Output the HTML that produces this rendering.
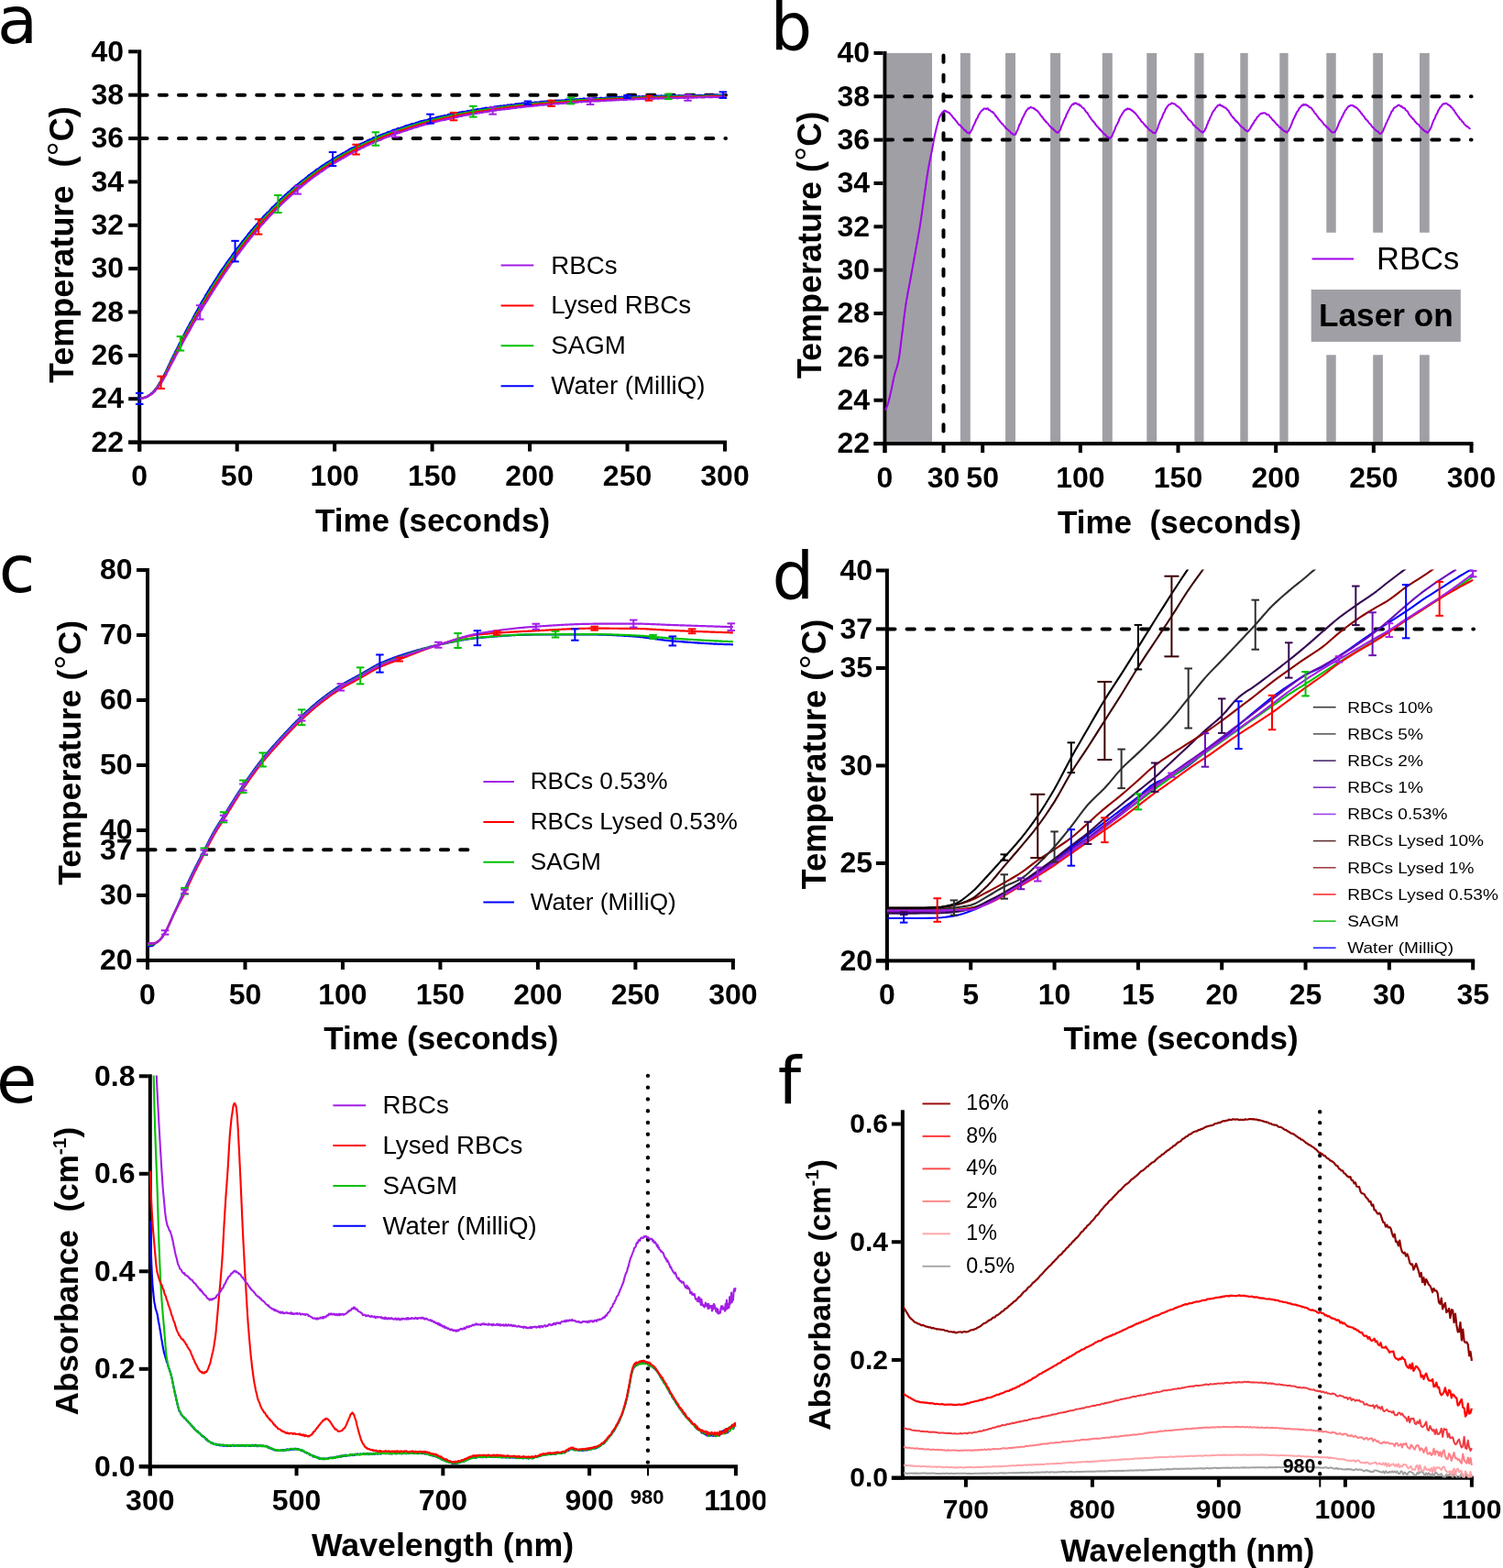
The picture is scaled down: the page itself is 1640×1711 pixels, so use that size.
<!DOCTYPE html>
<html><head><meta charset="utf-8"><title>Figure</title>
<style>html,body{margin:0;padding:0;background:#fff;overflow:hidden;width:1640px;height:1711px;}svg{display:block;}</style>
</head><body>
<svg width="1640" height="1711" viewBox="0 0 1640 1711">
<rect x="0" y="0" width="1640" height="1711" fill="#fff"/>
<text x="-3" y="46.8" font-family='"DejaVu Sans", "Liberation Sans", sans-serif' font-size="72" font-weight="normal" text-anchor="start">a</text>
<text x="840.5" y="54" font-family='"DejaVu Sans", "Liberation Sans", sans-serif' font-size="72" font-weight="normal" text-anchor="start">b</text>
<text x="-1.3" y="646.3" font-family='"DejaVu Sans", "Liberation Sans", sans-serif' font-size="72" font-weight="normal" text-anchor="start">c</text>
<text x="842.5" y="653.3" font-family='"DejaVu Sans", "Liberation Sans", sans-serif' font-size="72" font-weight="normal" text-anchor="start">d</text>
<text x="-4" y="1202.8" font-family='"DejaVu Sans", "Liberation Sans", sans-serif' font-size="72" font-weight="normal" text-anchor="start">e</text>
<text x="848.8" y="1204" font-family='"DejaVu Sans", "Liberation Sans", sans-serif' font-size="72" font-weight="normal" text-anchor="start">f</text>
<rect x="150.2" y="54.3" width="4" height="438.3" fill="#000"/>
<rect x="140.2" y="480.6" width="652.8" height="4" fill="#000"/>
<rect x="140.2" y="480.6" width="10" height="4" fill="#000"/>
<rect x="140.2" y="433.23" width="10" height="4" fill="#000"/>
<rect x="140.2" y="385.87" width="10" height="4" fill="#000"/>
<rect x="140.2" y="338.5" width="10" height="4" fill="#000"/>
<rect x="140.2" y="291.13" width="10" height="4" fill="#000"/>
<rect x="140.2" y="243.77" width="10" height="4" fill="#000"/>
<rect x="140.2" y="196.4" width="10" height="4" fill="#000"/>
<rect x="140.2" y="149.03" width="10" height="4" fill="#000"/>
<rect x="140.2" y="101.67" width="10" height="4" fill="#000"/>
<rect x="140.2" y="54.3" width="10" height="4" fill="#000"/>
<rect x="150.2" y="482.6" width="4" height="10" fill="#000"/>
<rect x="256.67" y="482.6" width="4" height="10" fill="#000"/>
<rect x="363.13" y="482.6" width="4" height="10" fill="#000"/>
<rect x="469.6" y="482.6" width="4" height="10" fill="#000"/>
<rect x="576.07" y="482.6" width="4" height="10" fill="#000"/>
<rect x="682.53" y="482.6" width="4" height="10" fill="#000"/>
<rect x="789" y="482.6" width="4" height="10" fill="#000"/>
<text x="135" y="492.84" font-family='"Liberation Sans", Arial, sans-serif' font-size="32" font-weight="bold" text-anchor="end">22</text>
<text x="135" y="445.47" font-family='"Liberation Sans", Arial, sans-serif' font-size="32" font-weight="bold" text-anchor="end">24</text>
<text x="135" y="398.11" font-family='"Liberation Sans", Arial, sans-serif' font-size="32" font-weight="bold" text-anchor="end">26</text>
<text x="135" y="350.74" font-family='"Liberation Sans", Arial, sans-serif' font-size="32" font-weight="bold" text-anchor="end">28</text>
<text x="135" y="303.37" font-family='"Liberation Sans", Arial, sans-serif' font-size="32" font-weight="bold" text-anchor="end">30</text>
<text x="135" y="256.01" font-family='"Liberation Sans", Arial, sans-serif' font-size="32" font-weight="bold" text-anchor="end">32</text>
<text x="135" y="208.64" font-family='"Liberation Sans", Arial, sans-serif' font-size="32" font-weight="bold" text-anchor="end">34</text>
<text x="135" y="161.27" font-family='"Liberation Sans", Arial, sans-serif' font-size="32" font-weight="bold" text-anchor="end">36</text>
<text x="135" y="113.91" font-family='"Liberation Sans", Arial, sans-serif' font-size="32" font-weight="bold" text-anchor="end">38</text>
<text x="135" y="66.54" font-family='"Liberation Sans", Arial, sans-serif' font-size="32" font-weight="bold" text-anchor="end">40</text>
<text x="152.2" y="530.3" font-family='"Liberation Sans", Arial, sans-serif' font-size="32" font-weight="bold" text-anchor="middle">0</text>
<text x="258.67" y="530.3" font-family='"Liberation Sans", Arial, sans-serif' font-size="32" font-weight="bold" text-anchor="middle">50</text>
<text x="365.13" y="530.3" font-family='"Liberation Sans", Arial, sans-serif' font-size="32" font-weight="bold" text-anchor="middle">100</text>
<text x="471.6" y="530.3" font-family='"Liberation Sans", Arial, sans-serif' font-size="32" font-weight="bold" text-anchor="middle">150</text>
<text x="578.07" y="530.3" font-family='"Liberation Sans", Arial, sans-serif' font-size="32" font-weight="bold" text-anchor="middle">200</text>
<text x="684.53" y="530.3" font-family='"Liberation Sans", Arial, sans-serif' font-size="32" font-weight="bold" text-anchor="middle">250</text>
<text x="791" y="530.3" font-family='"Liberation Sans", Arial, sans-serif' font-size="32" font-weight="bold" text-anchor="middle">300</text>
<text transform="translate(80.2,418) rotate(-90)" font-family='"Liberation Sans", Arial, sans-serif' font-size="36" font-weight="bold">Temperature  (<tspan font-weight="normal" font-size="113%">°</tspan>C)</text>
<text x="344" y="579.8" font-family='"Liberation Sans", Arial, sans-serif' font-size="35" font-weight="bold" text-anchor="start">Time (seconds)</text>
<line x1="152.4" y1="103.67" x2="792" y2="103.67" stroke="#000" stroke-width="4" stroke-linecap="round" stroke-dasharray="8.2 13.1"/>
<line x1="152.4" y1="151.03" x2="792" y2="151.03" stroke="#000" stroke-width="4" stroke-linecap="round" stroke-dasharray="8.2 13.1"/>
<path d="M152.2,434.95 L153.26,434.38 L154.33,434.68 L155.39,434.56 L156.46,434.14 L157.52,433.68 L158.59,433.36 L159.62,433.31 L160.65,432.37 L161.67,431.69 L162.7,431.41 L163.72,430.84 L164.75,429.37 L165.76,428.85 L166.77,428.07 L167.79,426.82 L168.8,425.68 L169.82,424.08 L170.84,423.14 L171.86,421.55 L172.88,419.92 L173.91,418.1 L174.93,416.69 L175.95,415.24 L176.96,413.27 L177.98,411.32 L179,409.4 L180.02,407.2 L181.05,405.12 L182.08,402.88 L183.11,400.82 L184.15,398.44 L185.18,396.59 L186.21,394.1 L187.24,391.86 L188.28,389.92 L189.31,387.69 L190.34,386.09 L191.37,383.45 L192.41,381.76 L193.44,379.63 L194.48,377.76 L195.51,375.27 L196.55,373.69 L197.58,371.31 L198.62,369.57 L199.66,367.24 L200.69,365.66 L201.73,363.3 L202.77,361.22 L203.8,359.42 L204.84,357.26 L205.87,355.81 L206.91,353.39 L207.95,351.62 L208.99,350.09 L210.02,348.2 L211.06,345.92 L212.1,344.28 L213.14,341.99 L214.18,340.36 L215.22,338.7 L216.26,336.59 L217.3,334.78 L218.34,332.56 L219.38,330.95 L220.42,328.94 L221.46,327.29 L222.5,325.52 L223.54,324.04 L224.58,321.75 L225.62,320.26 L226.66,318.43 L227.71,316.91 L228.75,314.97 L229.79,313.04 L230.83,311.91 L231.9,310.14 L232.97,308.55 L234.04,306.56 L235.11,305.04 L236.18,303.34 L237.25,301.76 L238.32,299.91 L239.38,298.32 L240.45,296.53 L241.52,295.14 L242.59,293.51 L243.66,292.17 L244.73,290.61 L245.8,289 L246.87,287.34 L247.94,285.65 L249.01,284.77 L250.08,282.82 L251.15,281.43 L252.22,280.29 L253.29,278.44 L254.36,276.88 L255.43,275.57 L256.5,274.17 L257.57,272.93 L258.64,270.95 L259.71,269.81 L260.78,268.63 L261.85,267.19 L262.92,265.72 L263.99,263.96 L265.06,262.81 L266.13,261.61 L267.2,260.08 L268.27,258.89 L269.35,257.68 L270.42,256 L271.49,254.62 L272.56,253.52 L273.63,252.07 L274.7,250.85 L275.77,250.07 L276.84,248.45 L277.91,247.1 L278.98,246.23 L280.06,244.55 L281.13,243.77 L282.2,242.36 L283.27,241.25 L284.34,239.74 L285.41,238.58 L286.48,237.72 L287.56,236.14 L288.63,235.12 L289.7,234.18 L290.77,232.81 L291.84,231.79 L292.91,231.04 L293.99,229.93 L295.06,228.57 L296.13,227.45 L297.2,225.99 L298.27,225.59 L299.35,224.23 L300.42,223.32 L301.49,222.1 L302.56,221.27 L303.64,220.03 L304.71,219.08 L305.78,217.67 L306.85,216.84 L307.93,216.02 L309,214.61 L310.07,213.85 L311.14,212.68 L312.22,211.94 L313.29,211.19 L314.36,209.71 L315.43,209.26 L316.51,208.15 L317.58,207.22 L318.65,206.02 L319.72,205.26 L320.8,204.25 L321.87,203.16 L322.94,202.25 L324.02,201.65 L325.09,200.97 L326.16,199.96 L327.23,198.96 L328.31,197.94 L329.38,197.55 L330.45,196.53 L331.53,195.82 L332.6,195.03 L333.67,194.02 L334.75,193.32 L335.82,192.39 L336.89,191.16 L337.97,190.87 L339.04,189.66 L340.11,189.07 L341.19,188.32 L342.26,187.52 L343.33,187 L344.41,185.77 L345.48,184.9 L346.55,184.73 L347.62,183.91 L348.7,182.97 L349.77,182.2 L350.84,181.26 L351.92,180.7 L352.99,179.81 L354.06,179.53 L355.14,178.38 L356.21,177.77 L357.28,177.34 L358.36,176.45 L359.43,176.03 L360.5,175.45 L361.58,174.47 L362.65,173.62 L363.72,173.47 L364.8,172.79 L365.87,171.87 L366.94,171.56 L368.02,170.58 L369.09,169.86 L370.16,169.64 L371.24,168.95 L372.31,168.18 L373.38,167.66 L374.46,166.75 L375.53,166.63 L376.6,166.09 L377.68,165.04 L378.75,164.84 L379.82,163.87 L380.9,163.1 L381.97,162.54 L383.04,162.07 L384.12,161.43 L385.19,161.01 L386.26,160.92 L387.34,160.05 L388.41,159.28 L389.48,159.22 L390.55,158.4 L391.63,157.61 L392.7,157.67 L393.77,156.74 L394.85,156.53 L395.92,155.78 L396.99,155.58 L398.06,155.11 L399.14,154.4 L400.21,153.92 L401.28,153.13 L402.36,152.83 L403.43,152.38 L404.5,151.96 L405.57,151.76 L406.65,150.88 L407.72,150.48 L408.79,150.3 L409.86,149.58 L410.94,148.97 L412.01,148.98 L413.08,148.35 L414.15,147.55 L415.23,147.77 L416.3,146.81 L417.37,146.65 L418.44,146.05 L419.51,145.94 L420.59,145.4 L421.66,145.12 L422.73,144.34 L423.8,143.92 L424.87,143.75 L425.95,143.59 L427.02,143.03 L428.09,142.33 L429.16,141.84 L430.23,141.69 L431.31,141.67 L432.38,141.09 L433.45,140.37 L434.52,139.9 L435.59,140.16 L436.66,139.73 L437.74,139.35 L438.81,139.09 L439.88,138.48 L440.95,138.36 L442.02,137.46 L443.09,137.09 L444.16,136.93 L445.24,136.87 L446.31,136.22 L447.38,136.11 L448.45,135.34 L449.52,135.39 L450.59,134.92 L451.67,135 L452.74,134.71 L453.81,134.01 L454.88,133.71 L455.95,133.76 L457.03,132.87 L458.1,132.81 L459.17,132.32 L460.24,131.99 L461.31,132.19 L462.39,131.57 L463.46,131.47 L464.53,131.4 L465.6,131.12 L466.67,130.64 L467.74,130.4 L468.82,129.71 L469.89,129.61 L470.96,129.62 L472.03,129 L473.1,129.16 L474.17,128.7 L475.24,128.61 L476.31,127.95 L477.38,127.63 L478.46,127.66 L479.53,127.44 L480.6,127.31 L481.67,126.72 L482.74,126.81 L483.81,126.65 L484.88,125.89 L485.95,126.3 L487.02,126.07 L488.09,125.54 L489.16,124.97 L490.23,124.94 L491.3,124.49 L492.37,124.81 L493.44,124.18 L494.51,123.92 L495.58,124.09 L496.65,123.42 L497.72,123.35 L498.79,123.32 L499.86,123.45 L500.93,122.65 L502,122.65 L503.07,122.56 L504.14,122 L505.21,121.94 L506.28,122.04 L507.35,121.73 L508.42,121.74 L509.49,121.37 L510.56,120.9 L511.63,121.01 L512.7,121.02 L513.77,120.57 L514.84,120.47 L515.91,120.2 L516.97,120.31 L518.04,119.78 L519.11,119.69 L520.18,119.38 L521.25,119.06 L522.32,119.26 L523.39,119.28 L524.46,118.89 L525.53,118.88 L526.59,118.28 L527.66,118.6 L528.73,117.81 L529.8,117.8 L530.87,117.58 L531.94,117.97 L533.01,117.81 L534.07,117.43 L535.14,116.93 L536.21,116.8 L537.28,117.11 L538.35,116.93 L539.42,116.34 L540.48,116.38 L541.55,116.53 L542.62,115.93 L543.69,116.08 L544.76,116.09 L545.83,115.61 L546.89,115.68 L547.96,115.49 L549.03,115.41 L550.1,115.19 L551.17,115.24 L552.23,115.12 L553.3,115.02 L554.37,114.39 L555.44,114.71 L556.5,114.45 L557.57,114.06 L558.64,114.3 L559.71,114.33 L560.77,114.14 L561.84,113.73 L562.91,113.43 L563.98,113.29 L565.04,113.54 L566.11,113.15 L567.18,113.11 L568.25,112.98 L569.31,112.71 L570.38,112.7 L571.45,112.5 L572.52,113.06 L573.58,112.52 L574.65,112.74 L575.72,112.34 L576.79,112.13 L577.85,112.01 L578.92,112.29 L579.99,112.11 L581.05,112.04 L582.12,112.04 L583.19,111.71 L584.25,111.56 L585.32,111.54 L586.39,111.51 L587.46,111.52 L588.52,111.49 L589.59,110.99 L590.66,110.78 L591.72,111.12 L592.79,110.87 L593.86,110.97 L594.92,110.63 L595.99,110.83 L597.06,110.53 L598.12,110.25 L599.19,110.03 L600.26,109.97 L601.32,109.94 L602.39,110.05 L603.46,110.23 L604.52,110.21 L605.59,109.9 L606.66,109.62 L607.72,109.8 L608.79,109.71 L609.86,109.54 L610.92,109.79 L611.99,109.6 L613.06,109.61 L614.12,109.32 L615.19,109.51 L616.25,109.25 L617.32,108.68 L618.39,108.81 L619.45,109.13 L620.52,108.78 L621.59,108.52 L622.65,108.41 L623.72,108.82 L624.78,108.65 L625.85,108.48 L626.92,108.27 L627.98,108.45 L629.05,108.2 L630.12,108.26 L631.18,108.35 L632.25,108.34 L633.31,107.77 L634.38,107.99 L635.45,108.03 L636.51,107.62 L637.58,107.46 L638.64,108.08 L639.71,107.91 L640.78,107.48 L641.84,107.42 L642.91,107.26 L643.97,107.46 L645.04,107.72 L646.1,107.65 L647.17,107.13 L648.24,107.18 L649.3,107.53 L650.37,107 L651.43,107.41 L652.5,107.24 L653.57,107.27 L654.63,107.21 L655.7,106.66 L656.76,107.06 L657.83,107.09 L658.89,107 L659.96,106.86 L661.03,106.53 L662.09,106.52 L663.16,106.39 L664.22,106.24 L665.29,106.27 L666.35,106.52 L667.42,106.7 L668.49,106.49 L669.55,106.36 L670.62,106.11 L671.68,106.25 L672.75,106.4 L673.81,106.01 L674.88,105.89 L675.94,105.73 L677.01,106.2 L678.08,105.67 L679.14,105.91 L680.21,106.15 L681.27,105.54 L682.34,105.85 L683.4,105.79 L684.47,105.44 L685.53,105.39 L686.6,105.58 L687.67,105.35 L688.73,105.69 L689.8,105.86 L690.86,105.49 L691.93,105.2 L692.99,105.19 L694.06,105.16 L695.12,105.64 L696.19,105.6 L697.25,105.02 L698.32,105.58 L699.38,105.58 L700.45,105.2 L701.52,105.09 L702.58,105.44 L703.65,105.26 L704.71,104.89 L705.78,104.93 L706.84,105.33 L707.91,105.3 L708.97,104.83 L710.04,105.22 L711.1,105 L712.17,105.03 L713.23,104.94 L714.3,104.99 L715.36,104.52 L716.43,104.51 L717.49,104.95 L718.56,104.56 L719.62,104.9 L720.69,104.59 L721.76,104.41 L722.82,104.75 L723.89,104.53 L724.95,104.52 L726.02,104.95 L727.08,104.39 L728.15,104.47 L729.21,104.28 L730.28,104.46 L731.34,104.22 L732.41,104.49 L733.47,104.64 L734.54,104.1 L735.6,104.14 L736.67,104.09 L737.73,104.65 L738.8,104.7 L739.86,104.36 L740.93,104.11 L741.99,104.61 L743.06,104.39 L744.12,104.47 L745.19,104.25 L746.25,104.43 L747.32,104.09 L748.38,103.92 L749.45,104.46 L750.51,103.81 L751.58,103.84 L752.64,103.86 L753.71,104.41 L754.77,103.95 L755.84,103.87 L756.9,103.88 L757.97,103.75 L759.03,103.95 L760.1,104.17 L761.16,104.09 L762.23,103.8 L763.29,103.77 L764.36,103.94 L765.42,104.19 L766.49,104.01 L767.55,104.08 L768.62,103.84 L769.68,103.8 L770.75,104.01 L771.81,103.76 L772.88,103.87 L773.94,103.52 L775.01,103.87 L776.07,103.64 L777.14,103.95 L778.2,103.63 L779.27,103.94 L780.33,103.55 L781.4,103.38 L782.46,103.47 L783.53,103.56 L784.59,103.48 L785.66,103.72 L786.72,103.47 L787.79,103.86 L788.85,103.64 L789.92,103.74 L790.98,103.4" fill="none" stroke="#0000ff" stroke-width="2.2" stroke-linejoin="round"/>
<path d="M152.2,434.66 L153.26,434.57 L154.33,434.57 L155.39,434.46 L156.46,434.12 L157.52,433.86 L158.59,433.43 L159.64,433.18 L160.69,432.82 L161.74,432.2 L162.79,431.49 L163.84,430.57 L164.89,430.03 L165.94,429.16 L166.98,427.96 L168.03,427 L169.07,425.62 L170.12,424.35 L171.17,423.04 L172.22,421.56 L173.27,420.24 L174.32,418.72 L175.37,417.02 L176.41,415.35 L177.46,413.48 L178.51,411.53 L179.55,409.67 L180.6,407.51 L181.65,405.17 L182.71,403.11 L183.76,400.89 L184.81,398.86 L185.87,396.72 L186.92,394.63 L187.97,392.54 L189.02,390.58 L190.08,388.5 L191.13,386.22 L192.18,384.1 L193.24,382.19 L194.29,379.91 L195.34,377.94 L196.4,375.82 L197.45,373.87 L198.5,371.77 L199.56,369.83 L200.61,367.99 L201.67,366.04 L202.72,364.05 L203.77,362.03 L204.83,360.1 L205.88,358.07 L206.94,356.07 L207.99,354.22 L209.05,352.38 L210.1,350.27 L211.16,348.35 L212.21,346.68 L213.27,344.66 L214.32,342.9 L215.38,341.05 L216.43,339.25 L217.49,337.25 L218.54,335.4 L219.6,333.71 L220.65,331.89 L221.71,330.05 L222.76,328.3 L223.82,326.47 L224.88,324.8 L225.93,322.85 L226.99,321.22 L228.04,319.54 L229.1,317.63 L230.16,315.99 L231.21,314.21 L232.27,312.54 L233.34,310.75 L234.4,309.06 L235.47,307.62 L236.53,305.88 L237.6,304.29 L238.67,302.7 L239.73,300.99 L240.8,299.37 L241.87,297.71 L242.93,296.31 L244,294.75 L245.07,293.16 L246.13,291.64 L247.2,290.03 L248.26,288.51 L249.33,286.84 L250.4,285.5 L251.46,283.87 L252.53,282.41 L253.6,280.89 L254.66,279.5 L255.73,278.06 L256.8,276.59 L257.86,275.07 L258.93,273.61 L260,272.38 L261.06,270.81 L262.13,269.45 L263.2,267.96 L264.26,266.64 L265.33,265.2 L266.4,263.92 L267.47,262.68 L268.53,261.42 L269.6,259.98 L270.67,258.56 L271.73,257.36 L272.8,256.05 L273.87,254.82 L274.93,253.45 L276,252.29 L277.07,250.88 L278.13,249.58 L279.2,248.41 L280.27,247.29 L281.34,246.01 L282.4,244.72 L283.47,243.51 L284.54,242.36 L285.6,241.11 L286.67,239.96 L287.74,238.91 L288.81,237.74 L289.87,236.55 L290.94,235.19 L292.01,234.19 L293.08,233 L294.14,232.05 L295.21,230.75 L296.28,229.84 L297.34,228.54 L298.41,227.5 L299.48,226.59 L300.55,225.41 L301.61,224.45 L302.68,223.28 L303.75,222.14 L304.82,221.25 L305.88,220.17 L306.95,219.14 L308.02,218.02 L309.09,217.02 L310.15,216.26 L311.22,215.28 L312.29,214.3 L313.36,213.15 L314.43,212.09 L315.49,211.29 L316.56,210.39 L317.63,209.42 L318.7,208.31 L319.76,207.44 L320.83,206.66 L321.9,205.55 L322.97,204.88 L324.03,204.03 L325.1,202.92 L326.17,201.97 L327.24,201.38 L328.3,200.44 L329.37,199.49 L330.44,198.64 L331.51,197.92 L332.58,196.91 L333.64,195.99 L334.71,195.33 L335.78,194.42 L336.85,193.71 L337.92,192.99 L338.98,192.01 L340.05,191.18 L341.12,190.34 L342.19,189.79 L343.25,188.79 L344.32,188.28 L345.39,187.45 L346.46,186.75 L347.53,185.97 L348.59,185.04 L349.66,184.3 L350.73,183.8 L351.8,182.88 L352.87,182.31 L353.93,181.41 L355,180.74 L356.07,180.15 L357.14,179.33 L358.2,178.79 L359.27,178.14 L360.34,177.3 L361.41,176.62 L362.48,175.87 L363.54,175.33 L364.61,174.57 L365.68,174.07 L366.75,173.46 L367.82,172.78 L368.88,172.16 L369.95,171.53 L371.02,171 L372.09,170.27 L373.15,169.76 L374.22,168.99 L375.29,168.33 L376.36,167.76 L377.43,167.34 L378.49,166.58 L379.56,166.16 L380.63,165.62 L381.7,164.94 L382.77,164.25 L383.83,163.84 L384.9,163.21 L385.97,162.81 L387.04,162.06 L388.1,161.52 L389.17,161.05 L390.24,160.52 L391.31,159.9 L392.37,159.43 L393.44,159 L394.51,158.42 L395.58,157.79 L396.65,157.39 L397.71,156.89 L398.78,156.4 L399.85,155.78 L400.92,155.36 L401.98,155.08 L403.05,154.58 L404.12,154.12 L405.19,153.59 L406.25,153.02 L407.32,152.71 L408.39,152.06 L409.46,151.69 L410.52,151.23 L411.59,150.74 L412.66,150.24 L413.73,149.82 L414.8,149.48 L415.86,148.94 L416.93,148.53 L418,148.1 L419.07,147.67 L420.13,147.41 L421.2,146.91 L422.27,146.34 L423.33,146.15 L424.4,145.67 L425.47,145.35 L426.54,144.87 L427.6,144.42 L428.67,144.19 L429.74,143.61 L430.81,143.25 L431.87,142.94 L432.94,142.67 L434.01,142.08 L435.08,141.77 L436.14,141.47 L437.21,141.15 L438.28,140.62 L439.34,140.45 L440.41,140.04 L441.48,139.68 L442.55,139.29 L443.61,138.93 L444.68,138.76 L445.75,138.45 L446.81,137.87 L447.88,137.55 L448.95,137.36 L450.02,137.06 L451.08,136.76 L452.15,136.28 L453.22,135.94 L454.29,135.58 L455.35,135.37 L456.42,135.11 L457.49,134.9 L458.56,134.35 L459.62,134.07 L460.69,133.94 L461.76,133.65 L462.82,133.2 L463.89,132.9 L464.96,132.59 L466.03,132.5 L467.09,132.1 L468.16,131.82 L469.23,131.67 L470.3,131.23 L471.36,131.08 L472.43,130.68 L473.5,130.41 L474.56,130.33 L475.63,130.1 L476.7,129.75 L477.76,129.47 L478.83,129.31 L479.9,128.87 L480.97,128.68 L482.03,128.62 L483.1,128.39 L484.17,127.87 L485.23,127.62 L486.3,127.62 L487.37,127.29 L488.43,127.14 L489.5,126.88 L490.57,126.59 L491.63,126.44 L492.7,126.18 L493.77,125.78 L494.83,125.7 L495.9,125.6 L496.97,125.36 L498.03,125.1 L499.1,124.88 L500.17,124.73 L501.23,124.36 L502.3,124.19 L503.37,124.05 L504.43,123.91 L505.5,123.55 L506.57,123.31 L507.63,123.14 L508.7,123 L509.77,122.7 L510.83,122.67 L511.9,122.56 L512.96,122.2 L514.03,122.2 L515.1,121.85 L516.16,121.7 L517.23,121.66 L518.3,121.4 L519.36,121.16 L520.43,121.05 L521.5,120.79 L522.56,120.7 L523.63,120.37 L524.69,120.16 L525.76,120.15 L526.83,119.96 L527.89,119.77 L528.96,119.51 L530.02,119.59 L531.09,119.18 L532.16,119.28 L533.22,118.93 L534.29,118.76 L535.36,118.8 L536.42,118.65 L537.49,118.42 L538.55,118.35 L539.62,117.97 L540.69,118.02 L541.75,117.81 L542.82,117.56 L543.88,117.51 L544.95,117.22 L546.02,117.29 L547.08,117.1 L548.15,116.8 L549.21,116.7 L550.28,116.59 L551.34,116.51 L552.41,116.3 L553.48,116.19 L554.54,116.13 L555.61,115.88 L556.67,115.94 L557.74,115.72 L558.81,115.58 L559.87,115.51 L560.94,115.26 L562,115.35 L563.07,115 L564.13,115.01 L565.2,115.02 L566.27,114.65 L567.33,114.7 L568.4,114.67 L569.46,114.56 L570.53,114.26 L571.59,114.23 L572.66,114.21 L573.72,114.01 L574.79,113.97 L575.86,113.81 L576.92,113.51 L577.99,113.49 L579.05,113.55 L580.12,113.32 L581.18,113.21 L582.25,113.07 L583.32,112.92 L584.38,112.98 L585.45,112.79 L586.51,112.84 L587.58,112.49 L588.64,112.65 L589.71,112.32 L590.77,112.44 L591.84,112.24 L592.9,112.23 L593.97,112.05 L595.04,111.87 L596.1,112.02 L597.17,111.84 L598.23,111.63 L599.3,111.65 L600.36,111.45 L601.43,111.42 L602.49,111.4 L603.56,111.32 L604.62,111.08 L605.69,111.03 L606.75,111.02 L607.82,110.96 L608.89,110.98 L609.95,110.82 L611.02,110.81 L612.08,110.6 L613.15,110.47 L614.21,110.42 L615.28,110.27 L616.34,110.3 L617.41,110.3 L618.47,110.29 L619.54,110.04 L620.6,110.11 L621.67,110.05 L622.73,109.96 L623.8,109.97 L624.86,109.79 L625.93,109.68 L627,109.64 L628.06,109.42 L629.13,109.35 L630.19,109.43 L631.26,109.33 L632.32,109.19 L633.39,109.2 L634.45,109.22 L635.52,109.12 L636.58,109.02 L637.65,109.07 L638.71,108.8 L639.78,108.99 L640.84,108.86 L641.91,108.73 L642.97,108.75 L644.04,108.77 L645.1,108.63 L646.17,108.57 L647.23,108.53 L648.3,108.54 L649.36,108.47 L650.43,108.24 L651.49,108.1 L652.56,108.13 L653.62,108.1 L654.69,108.01 L655.75,108.03 L656.82,108.12 L657.88,107.84 L658.95,107.85 L660.01,107.94 L661.08,107.68 L662.14,107.69 L663.21,107.71 L664.27,107.72 L665.34,107.7 L666.4,107.48 L667.47,107.64 L668.53,107.44 L669.6,107.3 L670.66,107.26 L671.73,107.3 L672.79,107.37 L673.86,107.1 L674.92,107.11 L675.99,107.24 L677.05,107.2 L678.12,106.97 L679.18,106.89 L680.25,107.03 L681.31,107.03 L682.38,106.77 L683.44,106.87 L684.51,106.71 L685.57,106.81 L686.64,106.63 L687.7,106.6 L688.77,106.68 L689.83,106.77 L690.9,106.45 L691.96,106.44 L693.03,106.43 L694.09,106.58 L695.16,106.37 L696.22,106.35 L697.29,106.36 L698.35,106.45 L699.42,106.25 L700.48,106.27 L701.55,106.24 L702.61,106.21 L703.68,106.16 L704.74,106.24 L705.81,106.02 L706.87,106.08 L707.94,105.94 L709,106.13 L710.07,105.97 L711.13,106.11 L712.2,105.98 L713.26,105.81 L714.33,106 L715.39,105.78 L716.46,105.85 L717.52,105.86 L718.59,105.64 L719.65,105.63 L720.72,105.68 L721.78,105.63 L722.85,105.59 L723.91,105.55 L724.98,105.55 L726.04,105.71 L727.11,105.53 L728.17,105.5 L729.24,105.41 L730.3,105.37 L731.37,105.36 L732.43,105.53 L733.49,105.5 L734.56,105.27 L735.62,105.31 L736.69,105.34 L737.75,105.31 L738.82,105.18 L739.88,105.12 L740.95,105.31 L742.01,105.09 L743.08,105.15 L744.14,105.24 L745.21,105.19 L746.27,105.09 L747.34,105.18 L748.4,105.22 L749.47,105.05 L750.53,105.15 L751.6,105.02 L752.66,104.96 L753.73,105.12 L754.79,105.03 L755.86,104.82 L756.92,104.92 L757.99,104.86 L759.05,104.87 L760.12,104.93 L761.18,104.79 L762.24,104.85 L763.31,104.72 L764.37,104.77 L765.44,104.88 L766.5,104.82 L767.57,104.69 L768.63,104.65 L769.7,104.73 L770.76,104.67 L771.83,104.81 L772.89,104.59 L773.96,104.76 L775.02,104.53 L776.09,104.69 L777.15,104.69 L778.22,104.47 L779.28,104.53 L780.35,104.6 L781.41,104.5 L782.48,104.39 L783.54,104.57 L784.61,104.47 L785.67,104.37 L786.73,104.31 L787.8,104.44 L788.86,104.36 L789.93,104.5 L790.99,104.29" fill="none" stroke="#00c000" stroke-width="2.2" stroke-linejoin="round"/>
<path d="M152.2,434.59 L153.26,434.83 L154.33,434.47 L155.39,434.41 L156.46,433.9 L157.52,434.08 L158.59,433.78 L159.66,433 L160.73,432.99 L161.8,432.02 L162.87,431.45 L163.95,430.89 L165.02,430.3 L166.09,429.41 L167.17,428 L168.24,427.17 L169.31,425.99 L170.39,424.67 L171.46,423.45 L172.53,421.72 L173.61,420.54 L174.68,418.64 L175.75,417.14 L176.82,415.47 L177.9,413.75 L178.97,411.99 L180.04,409.84 L181.12,407.89 L182.19,405.46 L183.26,403.5 L184.33,401.3 L185.4,398.97 L186.47,396.89 L187.54,395.15 L188.61,392.91 L189.68,391 L190.75,388.84 L191.82,386.78 L192.9,384.5 L193.97,382.46 L195.04,380.38 L196.11,378.63 L197.18,376.2 L198.25,374.57 L199.32,372.29 L200.39,370.3 L201.46,368.34 L202.53,366.33 L203.6,364.42 L204.67,362.26 L205.74,360.35 L206.81,358.74 L207.88,356.76 L208.95,354.53 L210.02,352.75 L211.08,350.81 L212.15,348.83 L213.22,347.18 L214.29,345.26 L215.36,343.21 L216.43,341.62 L217.5,339.89 L218.57,337.71 L219.64,335.97 L220.71,334.34 L221.78,332.47 L222.85,330.69 L223.92,328.88 L224.99,327.33 L226.06,325.43 L227.12,323.68 L228.19,321.86 L229.26,320.15 L230.33,318.64 L231.4,316.59 L232.47,315.26 L233.54,313.14 L234.6,311.73 L235.67,309.78 L236.73,308.44 L237.79,306.78 L238.86,305.26 L239.92,303.67 L240.98,301.81 L242.05,300.32 L243.11,298.86 L244.18,297.12 L245.24,295.4 L246.3,293.84 L247.37,292.28 L248.43,291.07 L249.49,289.27 L250.56,288.02 L251.62,286.47 L252.69,284.89 L253.75,283.06 L254.81,282.03 L255.88,280.57 L256.94,278.66 L258,277.53 L259.07,275.96 L260.13,274.64 L261.2,273.24 L262.26,271.82 L263.32,270.29 L264.39,268.78 L265.45,267.77 L266.51,266.46 L267.58,264.74 L268.64,263.41 L269.7,262.15 L270.77,260.84 L271.83,259.76 L272.89,258.11 L273.96,256.93 L275.02,255.75 L276.09,254.4 L277.15,253.05 L278.21,252.01 L279.28,250.44 L280.34,249.23 L281.4,248.1 L282.47,247.07 L283.53,245.59 L284.59,244.31 L285.66,243.53 L286.72,241.94 L287.78,241 L288.85,239.68 L289.91,238.69 L290.97,237.55 L292.04,236.11 L293.1,235.13 L294.16,233.99 L295.23,232.8 L296.29,231.61 L297.35,230.51 L298.42,229.71 L299.48,228.37 L300.54,227.42 L301.61,226.68 L302.67,225.58 L303.73,224.55 L304.8,223.14 L305.86,222.18 L306.92,221.12 L307.99,220.22 L309.05,219.24 L310.11,218.17 L311.18,217.35 L312.24,216.32 L313.3,215.35 L314.37,214.13 L315.43,213.46 L316.49,212.46 L317.55,211.34 L318.62,210.44 L319.68,209.82 L320.74,208.57 L321.81,207.66 L322.87,206.88 L323.93,205.99 L325,204.79 L326.06,204.18 L327.12,203.41 L328.19,202.62 L329.25,201.63 L330.31,200.48 L331.38,199.69 L332.44,198.93 L333.5,198.2 L334.57,197.1 L335.63,196.43 L336.69,195.58 L337.75,195.09 L338.82,194.29 L339.88,193.38 L340.94,192.47 L342.01,191.51 L343.07,191.13 L344.13,190.34 L345.2,189.56 L346.26,188.38 L347.32,187.99 L348.39,186.91 L349.45,186.57 L350.51,185.68 L351.57,185.15 L352.64,184.15 L353.7,183.53 L354.76,182.9 L355.83,181.93 L356.89,181.42 L357.95,180.83 L359.02,179.99 L360.08,179.26 L361.14,178.64 L362.2,178.17 L363.27,177.54 L364.33,176.71 L365.39,176.12 L366.46,175.57 L367.52,174.51 L368.58,173.81 L369.65,173.54 L370.71,172.85 L371.77,171.97 L372.84,171.57 L373.9,170.95 L374.96,170.24 L376.02,169.62 L377.09,168.99 L378.15,168.6 L379.21,167.8 L380.28,167.5 L381.34,167 L382.4,166.35 L383.47,165.57 L384.53,165.08 L385.59,164.58 L386.66,163.94 L387.72,163.5 L388.78,163.03 L389.85,162.3 L390.91,161.72 L391.97,161.48 L393.03,160.95 L394.1,160.07 L395.16,159.86 L396.22,159.09 L397.29,158.79 L398.35,158.17 L399.41,157.94 L400.48,157.08 L401.54,156.99 L402.6,156.23 L403.67,155.65 L404.73,155.33 L405.79,154.68 L406.86,154.54 L407.92,153.89 L408.98,153.41 L410.05,152.84 L411.11,152.43 L412.17,152.15 L413.23,151.51 L414.3,151.25 L415.36,151.04 L416.42,150.34 L417.49,149.81 L418.55,149.69 L419.61,149.2 L420.68,148.76 L421.74,148.1 L422.8,147.81 L423.87,147.46 L424.93,147.01 L425.99,146.54 L427.06,146.14 L428.12,145.71 L429.18,145.61 L430.25,144.93 L431.31,144.64 L432.37,144.3 L433.44,143.75 L434.5,143.44 L435.56,143.08 L436.63,143.01 L437.69,142.38 L438.75,142.28 L439.82,141.72 L440.88,141.53 L441.94,141.18 L443.01,140.62 L444.07,140.37 L445.13,140.16 L446.2,139.79 L447.26,139.45 L448.33,138.84 L449.39,138.94 L450.45,138.61 L451.52,137.93 L452.58,137.72 L453.64,137.66 L454.71,137.12 L455.77,136.8 L456.83,136.63 L457.9,136.05 L458.96,136.09 L460.02,135.37 L461.08,135.1 L462.15,134.96 L463.21,134.6 L464.28,134.44 L465.34,133.97 L466.4,133.93 L467.47,133.6 L468.53,133.47 L469.59,132.91 L470.66,132.59 L471.72,132.49 L472.78,132.08 L473.85,131.92 L474.91,131.48 L475.97,131.46 L477.04,131.32 L478.1,131.1 L479.16,130.86 L480.23,130.43 L481.29,130.14 L482.35,130.02 L483.42,129.73 L484.48,129.23 L485.54,129.12 L486.61,128.74 L487.67,128.71 L488.74,128.45 L489.8,128.18 L490.86,128.22 L491.93,127.95 L492.99,127.35 L494.05,127.35 L495.12,127.06 L496.18,127.01 L497.24,126.85 L498.31,126.58 L499.37,125.96 L500.44,126.18 L501.5,125.61 L502.56,125.48 L503.63,125.3 L504.69,125.31 L505.75,124.8 L506.82,124.59 L507.88,124.8 L508.95,124.12 L510.01,124.06 L511.07,123.92 L512.14,123.63 L513.2,123.46 L514.26,123.19 L515.33,123.36 L516.39,122.89 L517.46,122.9 L518.52,122.58 L519.58,122.22 L520.65,122.16 L521.71,122.28 L522.78,121.89 L523.84,121.56 L524.9,121.83 L525.97,121.49 L527.03,121.33 L528.09,121.3 L529.16,121.13 L530.22,120.94 L531.29,120.54 L532.35,120.32 L533.41,120.26 L534.48,120.24 L535.54,119.95 L536.61,119.73 L537.67,119.69 L538.73,119.56 L539.8,119.57 L540.86,119.25 L541.93,118.98 L542.99,119.11 L544.05,118.86 L545.12,118.56 L546.18,118.44 L547.25,118.56 L548.31,118.4 L549.37,117.79 L550.44,118.07 L551.5,117.69 L552.57,117.57 L553.63,117.39 L554.7,117.41 L555.76,117.06 L556.82,116.95 L557.89,116.82 L558.95,116.87 L560.02,116.51 L561.08,116.49 L562.14,116.61 L563.21,116.33 L564.27,116.44 L565.34,116.2 L566.4,115.78 L567.46,115.83 L568.53,115.75 L569.59,115.82 L570.66,115.71 L571.72,115.16 L572.79,115.48 L573.85,115.26 L574.91,115.09 L575.98,115.15 L577.04,114.78 L578.11,114.81 L579.17,114.78 L580.23,114.67 L581.3,114.43 L582.36,114.33 L583.43,114.38 L584.49,113.95 L585.56,114.1 L586.62,114.05 L587.68,113.6 L588.75,113.87 L589.81,113.41 L590.88,113.28 L591.94,113.39 L593.01,113.53 L594.07,113.44 L595.13,113.17 L596.2,113.19 L597.26,112.81 L598.33,112.92 L599.39,112.59 L600.46,112.55 L601.52,112.8 L602.58,112.69 L603.65,112.53 L604.71,112.31 L605.78,112.43 L606.84,111.99 L607.91,112.07 L608.97,112.04 L610.03,111.68 L611.1,111.98 L612.16,111.64 L613.23,111.88 L614.29,111.8 L615.36,111.65 L616.42,111.6 L617.49,111.26 L618.55,111.11 L619.61,111.14 L620.68,111.08 L621.74,111.28 L622.81,111.15 L623.87,111.08 L624.94,110.94 L626,110.92 L627.06,110.68 L628.13,110.83 L629.19,110.8 L630.26,110.45 L631.32,110.63 L632.39,110.47 L633.45,110.36 L634.52,110.24 L635.58,110.39 L636.64,110.03 L637.71,109.86 L638.77,109.75 L639.84,110.06 L640.9,109.87 L641.97,109.66 L643.03,109.65 L644.1,109.74 L645.16,109.73 L646.22,109.34 L647.29,109.55 L648.35,109.48 L649.42,109.52 L650.48,109.18 L651.55,109.09 L652.61,109.33 L653.68,109.09 L654.74,108.9 L655.8,109.01 L656.87,109.13 L657.93,108.85 L659,108.73 L660.06,108.96 L661.13,108.56 L662.19,108.52 L663.26,108.44 L664.32,108.77 L665.38,108.5 L666.45,108.38 L667.51,108.23 L668.58,108.31 L669.64,108.2 L670.71,108.52 L671.77,108.09 L672.84,108.37 L673.9,108.2 L674.96,107.92 L676.03,107.95 L677.09,107.98 L678.16,107.94 L679.22,107.87 L680.29,108 L681.35,107.68 L682.42,107.63 L683.48,107.82 L684.55,107.66 L685.61,107.8 L686.67,107.56 L687.74,107.72 L688.8,107.78 L689.87,107.47 L690.93,107.39 L692,107.59 L693.06,107.25 L694.13,107.41 L695.19,107.57 L696.26,107.21 L697.32,107.41 L698.38,107.2 L699.45,107.38 L700.51,107.29 L701.58,106.9 L702.64,107.3 L703.71,106.9 L704.77,107.22 L705.84,106.94 L706.9,106.74 L707.97,107.12 L709.03,106.96 L710.09,106.75 L711.16,107.01 L712.22,106.67 L713.29,106.68 L714.35,106.76 L715.42,106.75 L716.48,106.65 L717.55,106.78 L718.61,106.63 L719.68,106.66 L720.74,106.33 L721.8,106.72 L722.87,106.27 L723.93,106.55 L725,106.48 L726.06,106.27 L727.13,106.62 L728.19,106.52 L729.26,106.3 L730.32,106.53 L731.39,106.21 L732.45,106.2 L733.51,106.3 L734.58,106.06 L735.64,106.12 L736.71,106.21 L737.77,105.97 L738.84,106.04 L739.9,105.84 L740.97,106.25 L742.03,106.05 L743.1,105.79 L744.16,105.97 L745.23,105.71 L746.29,105.87 L747.35,106.04 L748.42,105.92 L749.48,105.78 L750.55,105.88 L751.61,105.99 L752.68,105.62 L753.74,105.93 L754.81,105.59 L755.87,105.75 L756.94,105.49 L758,105.64 L759.06,105.85 L760.13,105.58 L761.19,105.7 L762.26,105.55 L763.32,105.32 L764.39,105.51 L765.45,105.38 L766.52,105.72 L767.58,105.61 L768.65,105.63 L769.71,105.46 L770.78,105.64 L771.84,105.58 L772.9,105.35 L773.97,105.39 L775.03,105.23 L776.1,105.27 L777.16,105.06 L778.23,105.39 L779.29,105.18 L780.36,105.21 L781.42,105.17 L782.49,105.38 L783.55,105.07 L784.62,105.22 L785.68,105.01 L786.74,105.04 L787.81,105.23 L788.87,105.11 L789.94,105.04 L791,104.95" fill="none" stroke="#ff0000" stroke-width="2.2" stroke-linejoin="round"/>
<path d="M152.2,434.9 L153.26,434.58 L154.33,434.75 L155.39,434.62 L156.46,434.38 L157.52,433.85 L158.59,433.63 L159.68,433.42 L160.77,432.92 L161.86,432.42 L162.96,431.45 L164.05,430.89 L165.15,430.03 L166.25,429.59 L167.35,428.38 L168.45,427.45 L169.55,426.05 L170.65,424.82 L171.75,423.29 L172.85,422.05 L173.94,420.87 L175.04,418.98 L176.13,417.48 L177.24,416.12 L178.34,413.86 L179.44,411.93 L180.54,410.17 L181.63,408.18 L182.72,405.58 L183.81,403.77 L184.9,401.64 L185.99,399.14 L187.07,397.36 L188.16,395.24 L189.25,393.17 L190.34,391.35 L191.43,388.8 L192.52,386.85 L193.61,385.02 L194.7,382.77 L195.78,380.7 L196.87,378.88 L197.96,376.98 L199.04,374.63 L200.13,372.74 L201.21,370.66 L202.3,368.75 L203.39,366.91 L204.47,365.05 L205.56,362.77 L206.64,361.15 L207.73,359.15 L208.81,357.02 L209.9,355.09 L210.98,353.26 L212.07,351.33 L213.15,349.83 L214.24,347.84 L215.32,345.75 L216.41,344.07 L217.49,342.22 L218.57,340.15 L219.66,338.71 L220.74,336.68 L221.82,334.75 L222.9,332.98 L223.99,331.36 L225.07,329.7 L226.15,328.08 L227.23,326.27 L228.32,324.35 L229.4,322.43 L230.48,321.12 L231.56,319.14 L232.64,317.37 L233.72,316.02 L234.81,313.98 L235.87,312.35 L236.93,310.87 L237.99,309.2 L239.05,307.76 L240.11,305.87 L241.17,304.09 L242.24,302.8 L243.3,300.92 L244.36,299.32 L245.42,297.87 L246.48,296.26 L247.54,295.01 L248.6,293.06 L249.66,291.87 L250.72,290.26 L251.79,288.46 L252.85,286.95 L253.91,285.89 L254.97,284.03 L256.03,282.5 L257.09,281.13 L258.15,279.87 L259.21,278.37 L260.27,277.01 L261.33,275.73 L262.39,273.97 L263.45,272.55 L264.51,271.46 L265.57,269.77 L266.63,268.63 L267.7,267 L268.76,265.68 L269.82,264.27 L270.88,263.27 L271.94,261.67 L273,260.33 L274.06,259.07 L275.12,257.81 L276.18,256.4 L277.24,255.24 L278.3,254.18 L279.36,252.97 L280.42,251.46 L281.48,250.41 L282.54,249.34 L283.6,247.93 L284.66,246.64 L285.72,245.26 L286.77,244.48 L287.83,243.29 L288.89,241.75 L289.95,240.63 L291.01,239.81 L292.07,238.52 L293.13,237.28 L294.19,236.05 L295.25,234.91 L296.31,234.03 L297.37,233 L298.43,232.02 L299.49,230.84 L300.55,229.57 L301.61,228.7 L302.67,227.29 L303.72,226.52 L304.78,225.52 L305.84,224.15 L306.9,223.29 L307.96,222.16 L309.02,221.2 L310.08,220.18 L311.14,219.22 L312.2,218.15 L313.26,217.45 L314.31,216.15 L315.37,215.45 L316.43,214.3 L317.49,213.51 L318.55,212.46 L319.61,211.57 L320.67,210.71 L321.73,209.6 L322.78,208.69 L323.84,208.14 L324.9,207.02 L325.96,206.02 L327.02,205.45 L328.08,204.63 L329.14,203.72 L330.19,202.8 L331.25,201.64 L332.31,201.2 L333.37,200.19 L334.43,199.52 L335.49,198.52 L336.54,197.43 L337.6,197.1 L338.66,195.87 L339.72,195.35 L340.78,194.37 L341.84,193.51 L342.89,192.71 L343.95,192.2 L345.01,191.25 L346.07,190.64 L347.13,190.05 L348.19,188.93 L349.24,188.15 L350.3,187.55 L351.36,186.97 L352.42,186.37 L353.48,185.26 L354.54,184.69 L355.59,183.9 L356.65,183.16 L357.71,182.51 L358.77,182.07 L359.83,181.03 L360.89,180.75 L361.94,180.06 L363,179.31 L364.06,178.46 L365.12,177.74 L366.18,177.47 L367.23,176.4 L368.29,175.96 L369.35,175.27 L370.41,174.54 L371.47,174.32 L372.53,173.33 L373.58,172.96 L374.64,172.44 L375.7,171.73 L376.76,170.87 L377.82,170.61 L378.88,169.73 L379.93,169.52 L380.99,168.51 L382.05,168.21 L383.11,167.63 L384.17,167 L385.23,166.29 L386.28,165.78 L387.34,165.47 L388.4,165.04 L389.46,164.49 L390.52,163.86 L391.58,163.08 L392.64,162.82 L393.69,162.06 L394.75,161.54 L395.81,161.27 L396.87,160.72 L397.93,160.01 L398.99,159.46 L400.05,158.94 L401.1,158.64 L402.16,158.32 L403.22,157.59 L404.28,157.25 L405.34,156.57 L406.4,156.17 L407.46,155.89 L408.52,155.33 L409.57,155.06 L410.63,154.59 L411.69,153.87 L412.75,153.29 L413.81,153.16 L414.87,152.83 L415.93,152.39 L416.99,151.54 L418.05,151.18 L419.1,150.78 L420.16,150.41 L421.22,150.01 L422.28,149.48 L423.34,149.22 L424.4,149.08 L425.46,148.29 L426.52,148.22 L427.58,147.47 L428.64,147.08 L429.7,146.87 L430.76,146.76 L431.82,146 L432.87,145.99 L433.93,145.17 L434.99,145.22 L436.05,144.69 L437.11,144.46 L438.17,143.93 L439.23,143.45 L440.29,143.4 L441.35,142.79 L442.41,142.64 L443.47,142.41 L444.53,142.05 L445.59,141.5 L446.65,141.03 L447.71,140.98 L448.77,140.27 L449.83,140.38 L450.89,139.88 L451.95,139.29 L453.01,139.22 L454.07,138.88 L455.12,138.43 L456.18,138.32 L457.24,137.7 L458.3,137.51 L459.36,137.35 L460.42,136.88 L461.48,136.61 L462.54,136.41 L463.6,135.92 L464.66,135.71 L465.72,135.35 L466.78,135.43 L467.84,134.99 L468.9,134.59 L469.96,134.58 L471.02,133.98 L472.08,134.06 L473.14,133.59 L474.2,133.37 L475.25,132.98 L476.31,132.68 L477.37,132.44 L478.43,132.22 L479.49,132.07 L480.55,131.54 L481.62,131.47 L482.68,131.19 L483.74,131.09 L484.8,130.96 L485.86,130.67 L486.92,130.54 L487.98,130.01 L489.04,129.67 L490.1,129.79 L491.16,129.5 L492.22,129.32 L493.28,128.74 L494.34,128.64 L495.4,128.35 L496.46,128.19 L497.52,128.1 L498.58,127.88 L499.64,127.62 L500.7,127.26 L501.76,126.99 L502.83,126.9 L503.89,126.83 L504.95,126.34 L506.01,126.05 L507.07,125.89 L508.13,125.7 L509.19,125.67 L510.25,125.42 L511.31,125.5 L512.38,124.95 L513.44,124.84 L514.5,124.47 L515.56,124.3 L516.62,124.5 L517.68,124.25 L518.74,123.76 L519.8,123.93 L520.87,123.55 L521.93,123.24 L522.99,123.49 L524.05,122.88 L525.11,122.71 L526.17,122.9 L527.24,122.66 L528.3,122.16 L529.36,122.27 L530.42,122.01 L531.48,122.07 L532.54,121.77 L533.61,121.63 L534.67,121.38 L535.73,120.98 L536.79,121.01 L537.85,120.81 L538.92,120.78 L539.98,120.6 L541.04,120.65 L542.1,120.13 L543.16,119.94 L544.23,119.99 L545.29,119.67 L546.35,119.82 L547.41,119.43 L548.47,119.3 L549.54,119.34 L550.6,119.29 L551.66,119.09 L552.72,118.88 L553.79,118.7 L554.85,118.84 L555.91,118.52 L556.97,118.54 L558.04,118.02 L559.1,118.21 L560.16,118.05 L561.22,117.63 L562.29,117.89 L563.35,117.8 L564.41,117.29 L565.47,117.15 L566.54,116.96 L567.6,117.06 L568.66,117.09 L569.72,116.9 L570.79,116.52 L571.85,116.81 L572.91,116.39 L573.97,116.35 L575.04,116.18 L576.1,116.14 L577.16,116.06 L578.23,115.97 L579.29,115.98 L580.35,115.91 L581.41,115.73 L582.48,115.66 L583.54,115.29 L584.6,115.17 L585.67,115.35 L586.73,115.27 L587.79,114.9 L588.85,114.73 L589.92,114.63 L590.98,114.74 L592.04,114.65 L593.11,114.59 L594.17,114.35 L595.23,114.35 L596.3,114.35 L597.36,113.92 L598.42,113.75 L599.49,114.06 L600.55,113.69 L601.61,113.95 L602.68,113.75 L603.74,113.5 L604.8,113.21 L605.87,113.5 L606.93,113.2 L607.99,113.22 L609.06,113.35 L610.12,113.06 L611.18,112.95 L612.25,112.76 L613.31,112.83 L614.37,112.94 L615.44,112.64 L616.5,112.71 L617.56,112.63 L618.63,112.61 L619.69,112.19 L620.75,112.06 L621.82,112.05 L622.88,111.83 L623.94,111.85 L625.01,111.96 L626.07,111.94 L627.13,111.84 L628.2,111.88 L629.26,111.73 L630.32,111.72 L631.39,111.24 L632.45,111.22 L633.52,111.19 L634.58,111.47 L635.64,111.11 L636.71,111 L637.77,110.87 L638.83,111.01 L639.9,110.76 L640.96,110.96 L642.02,110.71 L643.09,110.82 L644.15,110.85 L645.22,110.67 L646.28,110.32 L647.34,110.36 L648.41,110.35 L649.47,110.55 L650.53,110.18 L651.6,110.51 L652.66,110.22 L653.73,110.32 L654.79,110.07 L655.85,110.28 L656.92,110.02 L657.98,109.83 L659.05,110.05 L660.11,109.92 L661.17,109.87 L662.24,109.58 L663.3,109.52 L664.37,109.53 L665.43,109.59 L666.49,109.31 L667.56,109.58 L668.62,109.36 L669.68,109.47 L670.75,109.38 L671.81,109.5 L672.88,109.14 L673.94,108.95 L675,109.29 L676.07,108.87 L677.13,108.98 L678.2,108.94 L679.26,108.78 L680.32,109.12 L681.39,109.03 L682.45,108.85 L683.52,108.81 L684.58,108.71 L685.65,108.52 L686.71,108.46 L687.77,108.66 L688.84,108.29 L689.9,108.48 L690.97,108.62 L692.03,108.54 L693.09,108.1 L694.16,108.16 L695.22,108.18 L696.29,107.99 L697.35,108.22 L698.41,107.92 L699.48,107.86 L700.54,107.84 L701.61,108.03 L702.67,107.97 L703.74,107.85 L704.8,107.99 L705.86,107.65 L706.93,107.65 L707.99,108.02 L709.06,107.7 L710.12,107.59 L711.18,107.55 L712.25,107.88 L713.31,107.61 L714.38,107.62 L715.44,107.4 L716.51,107.39 L717.57,107.54 L718.63,107.6 L719.7,107.44 L720.76,107.14 L721.83,107.35 L722.89,107.27 L723.96,107.42 L725.02,107.42 L726.08,107.21 L727.15,107.15 L728.21,107.24 L729.28,107.35 L730.34,107.02 L731.41,107.13 L732.47,107.19 L733.53,107.17 L734.6,106.87 L735.66,106.96 L736.73,106.86 L737.79,107.03 L738.86,106.96 L739.92,107.05 L740.98,107 L742.05,106.65 L743.11,106.8 L744.18,106.54 L745.24,106.87 L746.31,106.59 L747.37,106.82 L748.44,106.79 L749.5,106.54 L750.56,106.66 L751.63,106.8 L752.69,106.55 L753.76,106.48 L754.82,106.59 L755.89,106.57 L756.95,106.64 L758.01,106.36 L759.08,106.46 L760.14,106.56 L761.21,106.37 L762.27,106.18 L763.34,106.04 L764.4,106.36 L765.47,106.43 L766.53,106.27 L767.59,106.32 L768.66,106.37 L769.72,106.06 L770.79,105.89 L771.85,105.96 L772.92,106.1 L773.98,106.06 L775.05,105.94 L776.11,106.25 L777.17,106.22 L778.24,105.78 L779.3,105.8 L780.37,106.05 L781.43,105.74 L782.5,106.08 L783.56,106.12 L784.63,105.79 L785.69,105.69 L786.75,105.82 L787.82,106.02 L788.88,105.88 L789.95,105.6 L791.01,105.96" fill="none" stroke="#a31ee6" stroke-width="2.2" stroke-linejoin="round"/>
<line x1="152.2" y1="428.95" x2="152.2" y2="440.95" stroke="#0000ff" stroke-width="2"/>
<line x1="147.95" y1="428.95" x2="156.45" y2="428.95" stroke="#0000ff" stroke-width="2"/>
<line x1="147.95" y1="440.95" x2="156.45" y2="440.95" stroke="#0000ff" stroke-width="2"/>
<line x1="256.54" y1="262.82" x2="256.54" y2="285.42" stroke="#0000ff" stroke-width="2"/>
<line x1="252.29" y1="262.82" x2="260.79" y2="262.82" stroke="#0000ff" stroke-width="2"/>
<line x1="252.29" y1="285.42" x2="260.79" y2="285.42" stroke="#0000ff" stroke-width="2"/>
<line x1="363" y1="166.07" x2="363" y2="181.07" stroke="#0000ff" stroke-width="2"/>
<line x1="358.75" y1="166.07" x2="367.25" y2="166.07" stroke="#0000ff" stroke-width="2"/>
<line x1="358.75" y1="181.07" x2="367.25" y2="181.07" stroke="#0000ff" stroke-width="2"/>
<line x1="469.47" y1="124.65" x2="469.47" y2="134.65" stroke="#0000ff" stroke-width="2"/>
<line x1="465.22" y1="124.65" x2="473.72" y2="124.65" stroke="#0000ff" stroke-width="2"/>
<line x1="465.22" y1="134.65" x2="473.72" y2="134.65" stroke="#0000ff" stroke-width="2"/>
<line x1="575.94" y1="110.5" x2="575.94" y2="114.1" stroke="#0000ff" stroke-width="2"/>
<line x1="571.69" y1="110.5" x2="580.19" y2="110.5" stroke="#0000ff" stroke-width="2"/>
<line x1="571.69" y1="114.1" x2="580.19" y2="114.1" stroke="#0000ff" stroke-width="2"/>
<line x1="684.53" y1="103.93" x2="684.53" y2="106.93" stroke="#0000ff" stroke-width="2"/>
<line x1="680.28" y1="103.93" x2="688.78" y2="103.93" stroke="#0000ff" stroke-width="2"/>
<line x1="680.28" y1="106.93" x2="688.78" y2="106.93" stroke="#0000ff" stroke-width="2"/>
<line x1="788.87" y1="100.34" x2="788.87" y2="106.94" stroke="#0000ff" stroke-width="2"/>
<line x1="784.62" y1="100.34" x2="793.12" y2="100.34" stroke="#0000ff" stroke-width="2"/>
<line x1="784.62" y1="106.94" x2="793.12" y2="106.94" stroke="#0000ff" stroke-width="2"/>
<line x1="196.92" y1="367.16" x2="196.92" y2="382.56" stroke="#00c000" stroke-width="2"/>
<line x1="192.67" y1="367.16" x2="201.17" y2="367.16" stroke="#00c000" stroke-width="2"/>
<line x1="192.67" y1="382.56" x2="201.17" y2="382.56" stroke="#00c000" stroke-width="2"/>
<line x1="303.38" y1="213.04" x2="303.38" y2="232.04" stroke="#00c000" stroke-width="2"/>
<line x1="299.13" y1="213.04" x2="307.63" y2="213.04" stroke="#00c000" stroke-width="2"/>
<line x1="299.13" y1="232.04" x2="307.63" y2="232.04" stroke="#00c000" stroke-width="2"/>
<line x1="409.85" y1="144.32" x2="409.85" y2="158.72" stroke="#00c000" stroke-width="2"/>
<line x1="405.6" y1="144.32" x2="414.1" y2="144.32" stroke="#00c000" stroke-width="2"/>
<line x1="405.6" y1="158.72" x2="414.1" y2="158.72" stroke="#00c000" stroke-width="2"/>
<line x1="516.32" y1="115.8" x2="516.32" y2="127.6" stroke="#00c000" stroke-width="2"/>
<line x1="512.07" y1="115.8" x2="520.57" y2="115.8" stroke="#00c000" stroke-width="2"/>
<line x1="512.07" y1="127.6" x2="520.57" y2="127.6" stroke="#00c000" stroke-width="2"/>
<line x1="622.78" y1="106.56" x2="622.78" y2="113.36" stroke="#00c000" stroke-width="2"/>
<line x1="618.53" y1="106.56" x2="627.03" y2="106.56" stroke="#00c000" stroke-width="2"/>
<line x1="618.53" y1="113.36" x2="627.03" y2="113.36" stroke="#00c000" stroke-width="2"/>
<line x1="729.25" y1="102.71" x2="729.25" y2="108.11" stroke="#00c000" stroke-width="2"/>
<line x1="725" y1="102.71" x2="733.5" y2="102.71" stroke="#00c000" stroke-width="2"/>
<line x1="725" y1="108.11" x2="733.5" y2="108.11" stroke="#00c000" stroke-width="2"/>
<line x1="175.62" y1="410.62" x2="175.62" y2="424.02" stroke="#ff0000" stroke-width="2"/>
<line x1="171.37" y1="410.62" x2="179.87" y2="410.62" stroke="#ff0000" stroke-width="2"/>
<line x1="171.37" y1="424.02" x2="179.87" y2="424.02" stroke="#ff0000" stroke-width="2"/>
<line x1="282.09" y1="239.23" x2="282.09" y2="255.63" stroke="#ff0000" stroke-width="2"/>
<line x1="277.84" y1="239.23" x2="286.34" y2="239.23" stroke="#ff0000" stroke-width="2"/>
<line x1="277.84" y1="255.63" x2="286.34" y2="255.63" stroke="#ff0000" stroke-width="2"/>
<line x1="388.56" y1="157.73" x2="388.56" y2="168.53" stroke="#ff0000" stroke-width="2"/>
<line x1="384.31" y1="157.73" x2="392.81" y2="157.73" stroke="#ff0000" stroke-width="2"/>
<line x1="384.31" y1="168.53" x2="392.81" y2="168.53" stroke="#ff0000" stroke-width="2"/>
<line x1="495.02" y1="122.89" x2="495.02" y2="131.29" stroke="#ff0000" stroke-width="2"/>
<line x1="490.77" y1="122.89" x2="499.27" y2="122.89" stroke="#ff0000" stroke-width="2"/>
<line x1="490.77" y1="131.29" x2="499.27" y2="131.29" stroke="#ff0000" stroke-width="2"/>
<line x1="601.49" y1="109.69" x2="601.49" y2="115.89" stroke="#ff0000" stroke-width="2"/>
<line x1="597.24" y1="109.69" x2="605.74" y2="109.69" stroke="#ff0000" stroke-width="2"/>
<line x1="597.24" y1="115.89" x2="605.74" y2="115.89" stroke="#ff0000" stroke-width="2"/>
<line x1="707.96" y1="104.51" x2="707.96" y2="109.71" stroke="#ff0000" stroke-width="2"/>
<line x1="703.71" y1="104.51" x2="712.21" y2="104.51" stroke="#ff0000" stroke-width="2"/>
<line x1="703.71" y1="109.71" x2="712.21" y2="109.71" stroke="#ff0000" stroke-width="2"/>
<line x1="218.21" y1="333.24" x2="218.21" y2="348.44" stroke="#a31ee6" stroke-width="2"/>
<line x1="213.96" y1="333.24" x2="222.46" y2="333.24" stroke="#a31ee6" stroke-width="2"/>
<line x1="213.96" y1="348.44" x2="222.46" y2="348.44" stroke="#a31ee6" stroke-width="2"/>
<line x1="324.68" y1="202.86" x2="324.68" y2="211.66" stroke="#a31ee6" stroke-width="2"/>
<line x1="320.43" y1="202.86" x2="328.93" y2="202.86" stroke="#a31ee6" stroke-width="2"/>
<line x1="320.43" y1="211.66" x2="328.93" y2="211.66" stroke="#a31ee6" stroke-width="2"/>
<line x1="431.14" y1="143.48" x2="431.14" y2="149.48" stroke="#a31ee6" stroke-width="2"/>
<line x1="426.89" y1="143.48" x2="435.39" y2="143.48" stroke="#a31ee6" stroke-width="2"/>
<line x1="426.89" y1="149.48" x2="435.39" y2="149.48" stroke="#a31ee6" stroke-width="2"/>
<line x1="537.61" y1="117.06" x2="537.61" y2="124.66" stroke="#a31ee6" stroke-width="2"/>
<line x1="533.36" y1="117.06" x2="541.86" y2="117.06" stroke="#a31ee6" stroke-width="2"/>
<line x1="533.36" y1="124.66" x2="541.86" y2="124.66" stroke="#a31ee6" stroke-width="2"/>
<line x1="644.08" y1="107.75" x2="644.08" y2="113.95" stroke="#a31ee6" stroke-width="2"/>
<line x1="639.83" y1="107.75" x2="648.33" y2="107.75" stroke="#a31ee6" stroke-width="2"/>
<line x1="639.83" y1="113.95" x2="648.33" y2="113.95" stroke="#a31ee6" stroke-width="2"/>
<line x1="750.54" y1="103.56" x2="750.54" y2="109.76" stroke="#a31ee6" stroke-width="2"/>
<line x1="746.29" y1="103.56" x2="754.79" y2="103.56" stroke="#a31ee6" stroke-width="2"/>
<line x1="746.29" y1="109.76" x2="754.79" y2="109.76" stroke="#a31ee6" stroke-width="2"/>
<line x1="546.6" y1="289.6" x2="582.3" y2="289.6" stroke="#a31ee6" stroke-width="2"/>
<text x="601.3" y="298.6" font-family='"Liberation Sans", Arial, sans-serif' font-size="27.7" font-weight="normal" text-anchor="start">RBCs</text>
<line x1="546.6" y1="333.47" x2="582.3" y2="333.47" stroke="#ff0000" stroke-width="2"/>
<text x="601.3" y="342.47" font-family='"Liberation Sans", Arial, sans-serif' font-size="27.7" font-weight="normal" text-anchor="start">Lysed RBCs</text>
<line x1="546.6" y1="377.34" x2="582.3" y2="377.34" stroke="#00c000" stroke-width="2"/>
<text x="601.3" y="386.34" font-family='"Liberation Sans", Arial, sans-serif' font-size="27.7" font-weight="normal" text-anchor="start">SAGM</text>
<line x1="546.6" y1="421.21" x2="582.3" y2="421.21" stroke="#0000ff" stroke-width="2"/>
<text x="601.3" y="430.21" font-family='"Liberation Sans", Arial, sans-serif' font-size="27.7" font-weight="normal" text-anchor="start">Water (MilliQ)</text>
<rect x="967.5" y="57.9" width="49.5" height="424.2" fill="#a09fa5"/>
<rect x="1047.9" y="57.9" width="10.9" height="424.2" fill="#a09fa5"/>
<rect x="1097.1" y="57.9" width="10.9" height="424.2" fill="#a09fa5"/>
<rect x="1146.1" y="57.9" width="11" height="424.2" fill="#a09fa5"/>
<rect x="1202.8" y="57.9" width="11" height="424.2" fill="#a09fa5"/>
<rect x="1251.3" y="57.9" width="10.9" height="424.2" fill="#a09fa5"/>
<rect x="1303.4" y="57.9" width="10.1" height="424.2" fill="#a09fa5"/>
<rect x="1353.3" y="57.9" width="8.4" height="424.2" fill="#a09fa5"/>
<rect x="1396.3" y="57.9" width="9.3" height="424.2" fill="#a09fa5"/>
<rect x="1447.3" y="57.9" width="10.4" height="195.9" fill="#a09fa5"/>
<rect x="1447.3" y="387.3" width="10.4" height="94.8" fill="#a09fa5"/>
<rect x="1498.2" y="57.9" width="10.7" height="195.9" fill="#a09fa5"/>
<rect x="1498.2" y="387.3" width="10.7" height="94.8" fill="#a09fa5"/>
<rect x="1549" y="57.9" width="10.7" height="195.9" fill="#a09fa5"/>
<rect x="1549" y="387.3" width="10.7" height="94.8" fill="#a09fa5"/>
<rect x="963.5" y="55.9" width="4" height="438.2" fill="#000"/>
<rect x="953.5" y="482.1" width="654" height="4" fill="#000"/>
<rect x="953.5" y="482.1" width="10" height="4" fill="#000"/>
<rect x="953.5" y="434.74" width="10" height="4" fill="#000"/>
<rect x="953.5" y="387.39" width="10" height="4" fill="#000"/>
<rect x="953.5" y="340.03" width="10" height="4" fill="#000"/>
<rect x="953.5" y="292.68" width="10" height="4" fill="#000"/>
<rect x="953.5" y="245.32" width="10" height="4" fill="#000"/>
<rect x="953.5" y="197.97" width="10" height="4" fill="#000"/>
<rect x="953.5" y="150.61" width="10" height="4" fill="#000"/>
<rect x="953.5" y="103.26" width="10" height="4" fill="#000"/>
<rect x="953.5" y="55.9" width="10" height="4" fill="#000"/>
<rect x="963.5" y="484.1" width="4" height="10" fill="#000"/>
<rect x="1027.5" y="484.1" width="4" height="10" fill="#000"/>
<rect x="1070.17" y="484.1" width="4" height="10" fill="#000"/>
<rect x="1176.83" y="484.1" width="4" height="10" fill="#000"/>
<rect x="1283.5" y="484.1" width="4" height="10" fill="#000"/>
<rect x="1390.17" y="484.1" width="4" height="10" fill="#000"/>
<rect x="1496.83" y="484.1" width="4" height="10" fill="#000"/>
<rect x="1603.5" y="484.1" width="4" height="10" fill="#000"/>
<text x="949" y="494.34" font-family='"Liberation Sans", Arial, sans-serif' font-size="32" font-weight="bold" text-anchor="end">22</text>
<text x="949" y="446.98" font-family='"Liberation Sans", Arial, sans-serif' font-size="32" font-weight="bold" text-anchor="end">24</text>
<text x="949" y="399.63" font-family='"Liberation Sans", Arial, sans-serif' font-size="32" font-weight="bold" text-anchor="end">26</text>
<text x="949" y="352.27" font-family='"Liberation Sans", Arial, sans-serif' font-size="32" font-weight="bold" text-anchor="end">28</text>
<text x="949" y="304.92" font-family='"Liberation Sans", Arial, sans-serif' font-size="32" font-weight="bold" text-anchor="end">30</text>
<text x="949" y="257.56" font-family='"Liberation Sans", Arial, sans-serif' font-size="32" font-weight="bold" text-anchor="end">32</text>
<text x="949" y="210.21" font-family='"Liberation Sans", Arial, sans-serif' font-size="32" font-weight="bold" text-anchor="end">34</text>
<text x="949" y="162.85" font-family='"Liberation Sans", Arial, sans-serif' font-size="32" font-weight="bold" text-anchor="end">36</text>
<text x="949" y="115.5" font-family='"Liberation Sans", Arial, sans-serif' font-size="32" font-weight="bold" text-anchor="end">38</text>
<text x="949" y="68.14" font-family='"Liberation Sans", Arial, sans-serif' font-size="32" font-weight="bold" text-anchor="end">40</text>
<text x="965.5" y="531.5" font-family='"Liberation Sans", Arial, sans-serif' font-size="32" font-weight="bold" text-anchor="middle">0</text>
<text x="1029.5" y="531.5" font-family='"Liberation Sans", Arial, sans-serif' font-size="32" font-weight="bold" text-anchor="middle">30</text>
<text x="1072.17" y="531.5" font-family='"Liberation Sans", Arial, sans-serif' font-size="32" font-weight="bold" text-anchor="middle">50</text>
<text x="1178.83" y="531.5" font-family='"Liberation Sans", Arial, sans-serif' font-size="32" font-weight="bold" text-anchor="middle">100</text>
<text x="1285.5" y="531.5" font-family='"Liberation Sans", Arial, sans-serif' font-size="32" font-weight="bold" text-anchor="middle">150</text>
<text x="1392.17" y="531.5" font-family='"Liberation Sans", Arial, sans-serif' font-size="32" font-weight="bold" text-anchor="middle">200</text>
<text x="1498.83" y="531.5" font-family='"Liberation Sans", Arial, sans-serif' font-size="32" font-weight="bold" text-anchor="middle">250</text>
<text x="1605.5" y="531.5" font-family='"Liberation Sans", Arial, sans-serif' font-size="32" font-weight="bold" text-anchor="middle">300</text>
<text transform="translate(895.6,413.3) rotate(-90)" font-family='"Liberation Sans", Arial, sans-serif' font-size="36" font-weight="bold">Temperature (<tspan font-weight="normal" font-size="113%">°</tspan>C)</text>
<text x="1154" y="581.8" font-family='"Liberation Sans", Arial, sans-serif' font-size="35" font-weight="bold" text-anchor="start">Time  (seconds)</text>
<line x1="965.9" y1="105.26" x2="1605.6" y2="105.26" stroke="#000" stroke-width="4" stroke-linecap="round" stroke-dasharray="8.2 13.1"/>
<line x1="965.9" y1="152.61" x2="1605.6" y2="152.61" stroke="#000" stroke-width="4" stroke-linecap="round" stroke-dasharray="8.2 13.1"/>
<line x1="1029.5" y1="60.5" x2="1029.5" y2="484" stroke="#000" stroke-width="4" stroke-linecap="round" stroke-dasharray="7.2 14"/>
<path d="M965.9,447.41 L966.6,446.41 L967.3,444.68 L968,442.99 L968.7,441.11 L969.4,438.72 L970.1,436.1 L970.8,433.01 L971.5,430.07 L972.2,427.13 L972.9,423.97 L973.6,420.62 L974.3,416.98 L975,413.48 L975.7,410.45 L976.4,407.96 L977.1,405.28 L977.8,403.22 L978.5,401.28 L979.2,398.52 L979.9,396 L980.6,392.73 L981.3,388.06 L982,383.13 L982.7,377.75 L983.4,371.67 L984.1,366.14 L984.8,360.76 L985.5,354.97 L986.2,348.97 L986.9,343.07 L987.6,337.8 L988.3,332.97 L989,328.64 L989.7,324.48 L990.4,320.78 L991.1,316.99 L991.8,313.11 L992.5,309.56 L993.2,305.72 L993.9,301.98 L994.6,298.06 L995.3,294.34 L996,290.36 L996.7,286.55 L997.4,282.8 L998.1,278.76 L998.8,275.09 L999.5,270.94 L1000.2,267.36 L1000.9,263.39 L1001.6,259.52 L1002.3,255.66 L1003,251.55 L1003.7,247.32 L1004.4,242.78 L1005.1,238.2 L1005.8,233.58 L1006.5,228.44 L1007.2,223.39 L1007.9,218.43 L1008.6,213.39 L1009.3,208.19 L1010,203.32 L1010.7,198.5 L1011.4,193.53 L1012.1,189.26 L1012.8,184.98 L1013.5,181.03 L1014.2,177.26 L1014.9,174.01 L1015.6,170.36 L1016.3,167.06 L1017,163.61 L1017.7,159.93 L1018.4,155.85 L1019.1,151.86 L1019.8,148.5 L1020.5,145.27 L1021.2,142.23 L1021.9,139.31 L1022.6,136.7 L1023.3,133.93 L1024,131.39 L1024.7,129.07 L1025.4,127.2 L1026.1,125.92 L1026.8,124.87 L1027.5,123.83 L1028.2,122.78 L1028.9,122.06 L1029.6,121.56 L1030.3,120.54 L1031,121.43 L1031.7,120.9 L1032.4,121.36 L1033.1,122.05 L1033.8,122.37 L1034.5,122.21 L1035.2,123.25 L1035.9,123.09 L1036.6,123.93 L1037.3,125.06 L1038,125.37 L1038.7,126.37 L1039.4,127.38 L1040.1,128.4 L1040.8,129.27 L1041.5,129.38 L1042.2,130.77 L1042.9,131.71 L1043.6,132.1 L1044.3,133.42 L1045,134.26 L1045.7,135.27 L1046.4,136.17 L1047.1,136.04 L1047.8,136.91 L1048.5,138.12 L1049.2,138.27 L1049.9,139.08 L1050.6,140.16 L1051.3,140.38 L1052,141.69 L1052.7,142.37 L1053.4,142.03 L1054.1,143.17 L1054.8,144.08 L1055.5,144.86 L1056.2,144.57 L1056.9,144.76 L1057.6,145.59 L1058.3,145.24 L1059,143.65 L1059.7,142.77 L1060.4,141.68 L1061.1,140.26 L1061.8,137.88 L1062.5,136.8 L1063.2,135.42 L1063.9,133.78 L1064.6,132.04 L1065.3,130.52 L1066,129.38 L1066.7,128.56 L1067.4,126.37 L1068.1,125.05 L1068.8,124.27 L1069.5,122.91 L1070.2,122 L1070.9,120.91 L1071.6,120.6 L1072.3,120.07 L1073,119.27 L1073.7,118.55 L1074.4,118.42 L1075.1,118.47 L1075.8,118.79 L1076.5,118.92 L1077.2,118.29 L1077.9,118.32 L1078.6,119.58 L1079.3,120.11 L1080,120.06 L1080.7,120.89 L1081.4,121.49 L1082.1,121.71 L1082.8,122.56 L1083.5,122.3 L1084.2,123.32 L1084.9,124.15 L1085.6,124.85 L1086.3,126.64 L1087,126.62 L1087.7,128.28 L1088.4,128.58 L1089.1,129.84 L1089.8,130.82 L1090.5,131.43 L1091.2,132.62 L1091.9,133.41 L1092.6,133.96 L1093.3,135.2 L1094,135.35 L1094.7,136.16 L1095.4,137.12 L1096.1,137.9 L1096.8,138.47 L1097.5,139.99 L1098.2,140.61 L1098.9,140.51 L1099.6,141.48 L1100.3,141.98 L1101,142.84 L1101.7,143.24 L1102.4,144.06 L1103.1,145.14 L1103.8,145.18 L1104.5,146.08 L1105.2,146.53 L1105.9,147.08 L1106.6,146.51 L1107.3,147.12 L1108,146.7 L1108.7,145.24 L1109.4,143.48 L1110.1,142.26 L1110.8,140.51 L1111.5,138.62 L1112.2,136.29 L1112.9,135.57 L1113.6,134.1 L1114.3,132.01 L1115,130.64 L1115.7,128.46 L1116.4,127.97 L1117.1,126.31 L1117.8,124.74 L1118.5,123.66 L1119.2,121.91 L1119.9,120.95 L1120.6,119.86 L1121.3,119.37 L1122,118.14 L1122.7,118.55 L1123.4,117.66 L1124.1,117.32 L1124.8,116.77 L1125.5,117.44 L1126.2,117.74 L1126.9,117.79 L1127.6,117.72 L1128.3,118.73 L1129,118.5 L1129.7,119.74 L1130.4,119.98 L1131.1,120.16 L1131.8,121 L1132.5,121.82 L1133.2,122.19 L1133.9,123.69 L1134.6,124.13 L1135.3,125.59 L1136,126.49 L1136.7,126.66 L1137.4,128.22 L1138.1,128.79 L1138.8,130.17 L1139.5,130.78 L1140.2,131.47 L1140.9,132.75 L1141.6,132.62 L1142.3,133.96 L1143,134.5 L1143.7,134.96 L1144.4,136.52 L1145.1,137.07 L1145.8,138.17 L1146.5,138.57 L1147.2,138.98 L1147.9,140.36 L1148.6,140.05 L1149.3,140.59 L1150,141.92 L1150.7,142.13 L1151.4,142.77 L1152.1,143.95 L1152.8,143.87 L1153.5,144.86 L1154.2,144.76 L1154.9,144.21 L1155.6,143.22 L1156.3,142.33 L1157,141.71 L1157.7,139.43 L1158.4,137.37 L1159.1,135.67 L1159.8,134.51 L1160.5,132.01 L1161.2,131.18 L1161.9,128.97 L1162.6,128.33 L1163.3,126.27 L1164,124.16 L1164.7,123.6 L1165.4,121.52 L1166.1,120.58 L1166.8,119.15 L1167.5,117.55 L1168.2,116.47 L1168.9,115.49 L1169.6,114.62 L1170.3,113.82 L1171,113.33 L1171.7,113.89 L1172.4,112.6 L1173.1,112.85 L1173.8,112.39 L1174.5,112.6 L1175.2,113.41 L1175.9,113.89 L1176.6,113.74 L1177.3,113.66 L1178,115.23 L1178.7,114.69 L1179.4,115.61 L1180.1,116.32 L1180.8,117.25 L1181.5,117.73 L1182.2,118.15 L1182.9,118.65 L1183.6,119.95 L1184.3,120.87 L1185,121.8 L1185.7,122.61 L1186.4,122.95 L1187.1,124.2 L1187.8,125.46 L1188.5,126.53 L1189.2,127.94 L1189.9,128.3 L1190.6,129.77 L1191.3,130.4 L1192,131.75 L1192.7,131.96 L1193.4,133.13 L1194.1,133.58 L1194.8,134.55 L1195.5,136.21 L1196.2,136.38 L1196.9,137.86 L1197.6,138.3 L1198.3,138.6 L1199,140.25 L1199.7,140.24 L1200.4,141.88 L1201.1,141.76 L1201.8,143.24 L1202.5,143.42 L1203.2,144.32 L1203.9,145.68 L1204.6,145.82 L1205.3,146.64 L1206,147.37 L1206.7,147.36 L1207.4,148.86 L1208.1,149.6 L1208.8,149.36 L1209.5,150.27 L1210.2,150.32 L1210.9,150.96 L1211.6,150 L1212.3,149.89 L1213,149.18 L1213.7,147.79 L1214.4,145.55 L1215.1,144.65 L1215.8,142.22 L1216.5,141.08 L1217.2,139.05 L1217.9,137.16 L1218.6,136.38 L1219.3,134.99 L1220,133.36 L1220.7,132.13 L1221.4,129.84 L1222.1,128.37 L1222.8,126.9 L1223.5,126.06 L1224.2,124.78 L1224.9,123.65 L1225.6,122.71 L1226.3,121.53 L1227,120.38 L1227.7,120.23 L1228.4,119.54 L1229.1,119.31 L1229.8,119.48 L1230.5,118.42 L1231.2,118.85 L1231.9,118.95 L1232.6,118.76 L1233.3,119.27 L1234,120.21 L1234.7,119.97 L1235.4,120.86 L1236.1,121.5 L1236.8,121.48 L1237.5,122.72 L1238.2,122.99 L1238.9,123.61 L1239.6,124.68 L1240.3,125.26 L1241,126.51 L1241.7,127 L1242.4,128.68 L1243.1,129.22 L1243.8,129.83 L1244.5,130.94 L1245.2,132.27 L1245.9,132.96 L1246.6,133.4 L1247.3,134.05 L1248,134.87 L1248.7,136.32 L1249.4,136.14 L1250.1,137.76 L1250.8,138.47 L1251.5,138.51 L1252.2,139.36 L1252.9,140.29 L1253.6,141.2 L1254.3,141.99 L1255,142.63 L1255.7,142.43 L1256.4,142.97 L1257.1,143.93 L1257.8,144.57 L1258.5,145.11 L1259.2,144.74 L1259.9,145.27 L1260.6,145 L1261.3,143.99 L1262,142.65 L1262.7,141.01 L1263.4,139.25 L1264.1,136.37 L1264.8,135.45 L1265.5,132.97 L1266.2,131.44 L1266.9,130.09 L1267.6,129.06 L1268.3,127.07 L1269,125.18 L1269.7,123.62 L1270.4,122.7 L1271.1,121.2 L1271.8,119.18 L1272.5,118.15 L1273.2,117.15 L1273.9,115.91 L1274.6,115.35 L1275.3,114.21 L1276,114.06 L1276.7,114.01 L1277.4,113.53 L1278.1,112.44 L1278.8,112.48 L1279.5,112.78 L1280.2,113.22 L1280.9,113.2 L1281.6,113.39 L1282.3,113.9 L1283,114.2 L1283.7,115.41 L1284.4,115.72 L1285.1,115.91 L1285.8,116.74 L1286.5,117.13 L1287.2,117.82 L1287.9,118.4 L1288.6,119.35 L1289.3,120.78 L1290,121.47 L1290.7,122.47 L1291.4,122.66 L1292.1,124.05 L1292.8,124.86 L1293.5,125.5 L1294.2,126.75 L1294.9,127.27 L1295.6,128.26 L1296.3,129.67 L1297,130.33 L1297.7,131.14 L1298.4,131.25 L1299.1,132.13 L1299.8,132.76 L1300.5,133.61 L1301.2,134.38 L1301.9,136.08 L1302.6,136.75 L1303.3,136.71 L1304,137.47 L1304.7,138.93 L1305.4,139.16 L1306.1,139.57 L1306.8,140.28 L1307.5,140.64 L1308.2,141.59 L1308.9,142.38 L1309.6,142.78 L1310.3,143.7 L1311,143.39 L1311.7,144.27 L1312.4,144.84 L1313.1,143.71 L1313.8,143.4 L1314.5,142.45 L1315.2,140.72 L1315.9,139.78 L1316.6,137.5 L1317.3,135.7 L1318,134.43 L1318.7,131.86 L1319.4,131.37 L1320.1,129.08 L1320.8,127.83 L1321.5,126.42 L1322.2,124.89 L1322.9,122.96 L1323.6,121.92 L1324.3,120.74 L1325,120.3 L1325.7,119.18 L1326.4,117.8 L1327.1,117.29 L1327.8,116.5 L1328.5,115.48 L1329.2,114.77 L1329.9,114.96 L1330.6,114.44 L1331.3,114.07 L1332,115.26 L1332.7,115.48 L1333.4,115.33 L1334.1,115.82 L1334.8,116.33 L1335.5,117.1 L1336.2,117.11 L1336.9,117.75 L1337.6,117.89 L1338.3,118.56 L1339,119.61 L1339.7,120.11 L1340.4,120.77 L1341.1,122.08 L1341.8,123.46 L1342.5,123.93 L1343.2,125.56 L1343.9,126.36 L1344.6,127.25 L1345.3,128.42 L1346,128.37 L1346.7,129.28 L1347.4,130.89 L1348.1,131.7 L1348.8,131.59 L1349.5,133.16 L1350.2,133.12 L1350.9,134.04 L1351.6,134.78 L1352.3,135.74 L1353,136.58 L1353.7,137.87 L1354.4,138.04 L1355.1,138.36 L1355.8,139.15 L1356.5,139.46 L1357.2,140.08 L1357.9,141.17 L1358.6,141.91 L1359.3,142.2 L1360,142.81 L1360.7,142.8 L1361.4,143.46 L1362.1,142.84 L1362.8,141.92 L1363.5,141.34 L1364.2,139.89 L1364.9,138.73 L1365.6,137.24 L1366.3,136.7 L1367,134.99 L1367.7,134.71 L1368.4,133.03 L1369.1,131.65 L1369.8,131.14 L1370.5,130.09 L1371.2,129.23 L1371.9,127.47 L1372.6,127.36 L1373.3,126.65 L1374,125.29 L1374.7,124.78 L1375.4,124.42 L1376.1,123.64 L1376.8,124.02 L1377.5,123.58 L1378.2,123.61 L1378.9,123.17 L1379.6,123.38 L1380.3,123.27 L1381,123.73 L1381.7,124.57 L1382.4,125.25 L1383.1,124.81 L1383.8,125.14 L1384.5,125.68 L1385.2,126.71 L1385.9,127.82 L1386.6,127.96 L1387.3,129.06 L1388,129.95 L1388.7,131.16 L1389.4,131.27 L1390.1,131.93 L1390.8,133.24 L1391.5,133.79 L1392.2,134.42 L1392.9,135.65 L1393.6,136.25 L1394.3,136.28 L1395,137.48 L1395.7,138.43 L1396.4,139.21 L1397.1,138.86 L1397.8,140.36 L1398.5,140.12 L1399.2,141.39 L1399.9,141.83 L1400.6,142.73 L1401.3,142.93 L1402,142.87 L1402.7,144.02 L1403.4,143.9 L1404.1,144.67 L1404.8,143.53 L1405.5,143.13 L1406.2,142.43 L1406.9,140.47 L1407.6,139.42 L1408.3,137.76 L1409,136.04 L1409.7,134.48 L1410.4,132.38 L1411.1,130.67 L1411.8,129.37 L1412.5,128.03 L1413.2,126.15 L1413.9,125.38 L1414.6,123.22 L1415.3,121.85 L1416,121.55 L1416.7,120.29 L1417.4,118.62 L1418.1,117.67 L1418.8,117.25 L1419.5,116.21 L1420.2,115.2 L1420.9,114.96 L1421.6,115 L1422.3,113.75 L1423,114.66 L1423.7,114.19 L1424.4,113.9 L1425.1,114.81 L1425.8,114.34 L1426.5,115.1 L1427.2,115.73 L1427.9,115.85 L1428.6,117.06 L1429.3,117.37 L1430,117.29 L1430.7,117.88 L1431.4,118.48 L1432.1,119.81 L1432.8,120.24 L1433.5,121.53 L1434.2,122.78 L1434.9,123.81 L1435.6,123.96 L1436.3,125.19 L1437,126.26 L1437.7,127.17 L1438.4,128.11 L1439.1,129.02 L1439.8,130.15 L1440.5,130.46 L1441.2,131.31 L1441.9,132.16 L1442.6,132.71 L1443.3,134.03 L1444,134.57 L1444.7,135.92 L1445.4,136.58 L1446.1,136.68 L1446.8,137.43 L1447.5,138.73 L1448.2,139.18 L1448.9,139.23 L1449.6,140.55 L1450.3,140.89 L1451,141.91 L1451.7,142.51 L1452.4,143.36 L1453.1,143.72 L1453.8,144.48 L1454.5,144.17 L1455.2,144.41 L1455.9,143.98 L1456.6,144.29 L1457.3,142.53 L1458,141.69 L1458.7,140.13 L1459.4,138.81 L1460.1,136.62 L1460.8,134.65 L1461.5,133.31 L1462.2,131.52 L1462.9,130.41 L1463.6,129.33 L1464.3,127.23 L1465,126.79 L1465.7,124.85 L1466.4,123.23 L1467.1,122.54 L1467.8,120.64 L1468.5,119.79 L1469.2,119.44 L1469.9,117.71 L1470.6,117.41 L1471.3,116.02 L1472,116.05 L1472.7,115.78 L1473.4,114.95 L1474.1,114.86 L1474.8,115.06 L1475.5,115.2 L1476.2,114.93 L1476.9,115.51 L1477.6,116.54 L1478.3,116.23 L1479,117.23 L1479.7,117.09 L1480.4,117.9 L1481.1,118.47 L1481.8,119.13 L1482.5,119.94 L1483.2,120.8 L1483.9,121.53 L1484.6,122.55 L1485.3,123.58 L1486,123.94 L1486.7,125.48 L1487.4,126.14 L1488.1,126.84 L1488.8,127.71 L1489.5,129.29 L1490.2,130.03 L1490.9,130.22 L1491.6,131.61 L1492.3,131.82 L1493,133.02 L1493.7,134.03 L1494.4,134.92 L1495.1,135.18 L1495.8,135.85 L1496.5,137.21 L1497.2,138.24 L1497.9,138.96 L1498.6,139.2 L1499.3,140.14 L1500,140.97 L1500.7,141.78 L1501.4,141.98 L1502.1,142.99 L1502.8,143.02 L1503.5,143.57 L1504.2,144.28 L1504.9,145.3 L1505.6,145.88 L1506.3,145.64 L1507,145.83 L1507.7,144.68 L1508.4,144.12 L1509.1,142.75 L1509.8,141.21 L1510.5,139.24 L1511.2,137.94 L1511.9,136.22 L1512.6,134.5 L1513.3,133.11 L1514,131.38 L1514.7,130.32 L1515.4,128.49 L1516.1,127.3 L1516.8,125.29 L1517.5,124.18 L1518.2,122.29 L1518.9,120.97 L1519.6,120.81 L1520.3,119.11 L1521,117.74 L1521.7,117.48 L1522.4,117.1 L1523.1,116.41 L1523.8,116.22 L1524.5,115.8 L1525.2,115.03 L1525.9,114.71 L1526.6,114.6 L1527.3,115.01 L1528,115.69 L1528.7,116.35 L1529.4,115.77 L1530.1,117.12 L1530.8,117.55 L1531.5,117.97 L1532.2,117.85 L1532.9,118.31 L1533.6,119.7 L1534.3,120.32 L1535,120.82 L1535.7,121.65 L1536.4,122.21 L1537.1,124.21 L1537.8,124.99 L1538.5,126.1 L1539.2,126.89 L1539.9,127.43 L1540.6,128.75 L1541.3,128.9 L1542,130.21 L1542.7,130.52 L1543.4,131.47 L1544.1,132.79 L1544.8,133.08 L1545.5,134.37 L1546.2,134.82 L1546.9,135.25 L1547.6,135.96 L1548.3,136.42 L1549,137.76 L1549.7,138.76 L1550.4,138.76 L1551.1,139.69 L1551.8,140.87 L1552.5,140.82 L1553.2,141.99 L1553.9,142.48 L1554.6,142.75 L1555.3,143.52 L1556,143.43 L1556.7,144.34 L1557.4,144.85 L1558.1,144.25 L1558.8,143.57 L1559.5,142.61 L1560.2,141.46 L1560.9,139.98 L1561.6,138.86 L1562.3,136.64 L1563,134.88 L1563.7,132.88 L1564.4,131.27 L1565.1,130.09 L1565.8,128.76 L1566.5,126.56 L1567.2,125.26 L1567.9,123.94 L1568.6,122.79 L1569.3,120.63 L1570,119.5 L1570.7,118.56 L1571.4,116.97 L1572.1,116.43 L1572.8,115.88 L1573.5,114.33 L1574.2,114 L1574.9,113.15 L1575.6,113.2 L1576.3,113.42 L1577,112.85 L1577.7,112.56 L1578.4,112.89 L1579.1,113.56 L1579.8,114.24 L1580.5,114.28 L1581.2,114.85 L1581.9,115.75 L1582.6,115.52 L1583.3,117.07 L1584,117.29 L1584.7,117.99 L1585.4,119.41 L1586.1,119.82 L1586.8,120.73 L1587.5,121.91 L1588.2,123.42 L1588.9,123.82 L1589.6,125.21 L1590.3,125.91 L1591,127.12 L1591.7,127.53 L1592.4,129.09 L1593.1,130.12 L1593.8,130.31 L1594.5,131.19 L1595.2,132.3 L1595.9,133.27 L1596.6,133.32 L1597.3,134.78 L1598,135.68 L1598.7,136.37 L1599.4,136.66 L1600.1,137.73 L1600.8,138.03 L1601.5,138.2 L1602.2,138.85 L1602.9,139.7 L1603.6,140.14 L1604.3,140.87" fill="none" stroke="#a000e8" stroke-width="2" stroke-linejoin="round"/>
<line x1="1431.6" y1="282.4" x2="1477.1" y2="282.4" stroke="#a000e8" stroke-width="2"/>
<text x="1502" y="293.7" font-family='"Liberation Sans", Arial, sans-serif' font-size="35.5" font-weight="normal" text-anchor="start" textLength="90.2" lengthAdjust="spacingAndGlyphs">RBCs</text>
<rect x="1430.7" y="316" width="163.1" height="56.9" fill="#a09fa5"/>
<text x="1439" y="355.6" font-family='"Liberation Sans", Arial, sans-serif' font-size="35.2" font-weight="bold" text-anchor="start">Laser on</text>
<rect x="159" y="620" width="4" height="438" fill="#000"/>
<rect x="149" y="1046" width="652.85" height="4" fill="#000"/>
<rect x="149" y="1046" width="10" height="4" fill="#000"/>
<rect x="149" y="975" width="10" height="4" fill="#000"/>
<rect x="149" y="925.3" width="10" height="4" fill="#000"/>
<rect x="149" y="904" width="10" height="4" fill="#000"/>
<rect x="149" y="833" width="10" height="4" fill="#000"/>
<rect x="149" y="762" width="10" height="4" fill="#000"/>
<rect x="149" y="691" width="10" height="4" fill="#000"/>
<rect x="149" y="620" width="10" height="4" fill="#000"/>
<rect x="159" y="1048" width="4" height="10" fill="#000"/>
<rect x="265.48" y="1048" width="4" height="10" fill="#000"/>
<rect x="371.95" y="1048" width="4" height="10" fill="#000"/>
<rect x="478.43" y="1048" width="4" height="10" fill="#000"/>
<rect x="584.9" y="1048" width="4" height="10" fill="#000"/>
<rect x="691.38" y="1048" width="4" height="10" fill="#000"/>
<rect x="797.85" y="1048" width="4" height="10" fill="#000"/>
<text x="144.6" y="1058.24" font-family='"Liberation Sans", Arial, sans-serif' font-size="32" font-weight="bold" text-anchor="end">20</text>
<text x="144.6" y="987.24" font-family='"Liberation Sans", Arial, sans-serif' font-size="32" font-weight="bold" text-anchor="end">30</text>
<text x="144.6" y="937.54" font-family='"Liberation Sans", Arial, sans-serif' font-size="32" font-weight="bold" text-anchor="end">37</text>
<text x="144.6" y="916.24" font-family='"Liberation Sans", Arial, sans-serif' font-size="32" font-weight="bold" text-anchor="end">40</text>
<text x="144.6" y="845.24" font-family='"Liberation Sans", Arial, sans-serif' font-size="32" font-weight="bold" text-anchor="end">50</text>
<text x="144.6" y="774.24" font-family='"Liberation Sans", Arial, sans-serif' font-size="32" font-weight="bold" text-anchor="end">60</text>
<text x="144.6" y="703.24" font-family='"Liberation Sans", Arial, sans-serif' font-size="32" font-weight="bold" text-anchor="end">70</text>
<text x="144.6" y="632.24" font-family='"Liberation Sans", Arial, sans-serif' font-size="32" font-weight="bold" text-anchor="end">80</text>
<text x="161" y="1095.5" font-family='"Liberation Sans", Arial, sans-serif' font-size="32" font-weight="bold" text-anchor="middle">0</text>
<text x="267.48" y="1095.5" font-family='"Liberation Sans", Arial, sans-serif' font-size="32" font-weight="bold" text-anchor="middle">50</text>
<text x="373.95" y="1095.5" font-family='"Liberation Sans", Arial, sans-serif' font-size="32" font-weight="bold" text-anchor="middle">100</text>
<text x="480.43" y="1095.5" font-family='"Liberation Sans", Arial, sans-serif' font-size="32" font-weight="bold" text-anchor="middle">150</text>
<text x="586.9" y="1095.5" font-family='"Liberation Sans", Arial, sans-serif' font-size="32" font-weight="bold" text-anchor="middle">200</text>
<text x="693.38" y="1095.5" font-family='"Liberation Sans", Arial, sans-serif' font-size="32" font-weight="bold" text-anchor="middle">250</text>
<text x="799.85" y="1095.5" font-family='"Liberation Sans", Arial, sans-serif' font-size="32" font-weight="bold" text-anchor="middle">300</text>
<text transform="translate(88.3,966) rotate(-90)" font-family='"Liberation Sans", Arial, sans-serif' font-size="35.7" font-weight="bold">Temperature (<tspan font-weight="normal" font-size="113%">°</tspan>C)</text>
<text x="353.3" y="1145.4" font-family='"Liberation Sans", Arial, sans-serif' font-size="35" font-weight="bold" text-anchor="start">Time (seconds)</text>
<line x1="161.4" y1="927.3" x2="511" y2="927.3" stroke="#000" stroke-width="4" stroke-linecap="round" stroke-dasharray="8.2 13.1"/>
<path d="M161,1032.38 L162.06,1032.37 L163.13,1032.35 L164.19,1032.31 L165.26,1032.26 L166.32,1032.07 L167.39,1031.31 L168.45,1030.25 L169.52,1029.19 L170.58,1028.37 L171.65,1027.66 L172.71,1026.97 L173.78,1026.2 L174.84,1025.28 L175.91,1024.1 L176.97,1022.67 L178.04,1021.05 L179.1,1019.3 L180.17,1017.48 L181.23,1015.6 L182.3,1013.56 L183.36,1011.4 L184.42,1009.12 L185.49,1006.78 L186.55,1004.39 L187.62,1001.98 L188.68,999.59 L189.75,997.24 L190.81,994.89 L191.88,992.51 L192.94,990.1 L194.01,987.68 L195.07,985.24 L196.14,982.81 L197.2,980.37 L198.27,977.96 L199.33,975.56 L200.4,973.19 L201.46,970.86 L202.53,968.55 L203.59,966.25 L204.65,963.96 L205.72,961.69 L206.78,959.44 L207.85,957.2 L208.91,954.98 L209.98,952.78 L211.04,950.61 L212.11,948.45 L213.17,946.33 L214.24,944.23 L215.3,942.16 L216.37,940.1 L217.43,938.05 L218.5,936.01 L219.56,933.98 L220.63,931.94 L221.69,929.9 L222.76,927.84 L223.82,925.76 L224.88,923.66 L225.95,921.55 L227.01,919.45 L228.08,917.36 L229.14,915.29 L230.21,913.25 L231.27,911.26 L232.34,909.31 L233.4,907.42 L234.47,905.59 L235.53,903.81 L236.6,902.08 L237.66,900.37 L238.73,898.7 L239.79,897.04 L240.86,895.38 L241.92,893.73 L242.99,892.06 L244.05,890.38 L245.12,888.68 L246.18,886.98 L247.24,885.27 L248.31,883.55 L249.37,881.83 L250.44,880.12 L251.5,878.4 L252.57,876.68 L253.63,874.97 L254.7,873.27 L255.76,871.57 L256.83,869.88 L257.89,868.2 L258.96,866.53 L260.02,864.88 L261.09,863.24 L262.15,861.62 L263.22,860.01 L264.28,858.43 L265.35,856.86 L266.41,855.29 L267.48,853.74 L268.54,852.19 L269.6,850.64 L270.67,849.11 L271.73,847.58 L272.8,846.07 L273.86,844.56 L274.93,843.07 L275.99,841.58 L277.06,840.11 L278.12,838.66 L279.19,837.21 L280.25,835.79 L281.32,834.37 L282.38,832.97 L283.45,831.59 L284.51,830.23 L285.58,828.88 L286.64,827.55 L287.71,826.23 L288.77,824.94 L289.83,823.65 L290.9,822.38 L291.96,821.12 L293.03,819.88 L294.09,818.65 L295.16,817.42 L296.22,816.21 L297.29,815.01 L298.35,813.81 L299.42,812.62 L300.48,811.44 L301.55,810.27 L302.61,809.1 L303.68,807.93 L304.74,806.77 L305.81,805.61 L306.87,804.45 L307.94,803.3 L309,802.14 L310.06,800.99 L311.13,799.84 L312.19,798.7 L313.26,797.56 L314.32,796.43 L315.39,795.3 L316.45,794.17 L317.52,793.05 L318.58,791.94 L319.65,790.84 L320.71,789.75 L321.78,788.66 L322.84,787.59 L323.91,786.52 L324.97,785.46 L326.04,784.42 L327.1,783.38 L328.17,782.36 L329.23,781.35 L330.3,780.34 L331.36,779.35 L332.42,778.35 L333.49,777.37 L334.55,776.39 L335.62,775.42 L336.68,774.46 L337.75,773.51 L338.81,772.56 L339.88,771.63 L340.94,770.7 L342.01,769.78 L343.07,768.87 L344.14,767.97 L345.2,767.08 L346.27,766.2 L347.33,765.33 L348.4,764.47 L349.46,763.63 L350.53,762.79 L351.59,761.96 L352.65,761.13 L353.72,760.32 L354.78,759.51 L355.85,758.7 L356.91,757.91 L357.98,757.12 L359.04,756.34 L360.11,755.57 L361.17,754.81 L362.24,754.05 L363.3,753.31 L364.37,752.57 L365.43,751.85 L366.5,751.13 L367.56,750.43 L368.63,749.73 L369.69,749.05 L370.76,748.38 L371.82,747.72 L372.89,747.08 L373.95,746.44 L375.01,745.82 L376.08,745.21 L377.14,744.61 L378.21,744.02 L379.27,743.43 L380.34,742.85 L381.4,742.28 L382.47,741.71 L383.53,741.14 L384.6,740.57 L385.66,740 L386.73,739.44 L387.79,738.87 L388.86,738.29 L389.92,737.72 L390.99,737.14 L392.05,736.55 L393.12,735.95 L394.18,735.35 L395.25,734.73 L396.31,734.11 L397.37,733.49 L398.44,732.86 L399.5,732.23 L400.57,731.59 L401.63,730.96 L402.7,730.33 L403.76,729.71 L404.83,729.09 L405.89,728.48 L406.96,727.88 L408.02,727.29 L409.09,726.71 L410.15,726.14 L411.22,725.59 L412.28,725.06 L413.35,724.54 L414.41,724.04 L415.48,723.56 L416.54,723.08 L417.6,722.6 L418.67,722.14 L419.73,721.68 L420.8,721.23 L421.86,720.79 L422.93,720.36 L423.99,719.93 L425.06,719.51 L426.12,719.09 L427.19,718.68 L428.25,718.28 L429.32,717.89 L430.38,717.5 L431.45,717.12 L432.51,716.74 L433.58,716.37 L434.64,716.01 L435.71,715.65 L436.77,715.29 L437.83,714.94 L438.9,714.59 L439.96,714.24 L441.03,713.9 L442.09,713.56 L443.16,713.22 L444.22,712.88 L445.29,712.54 L446.35,712.21 L447.42,711.88 L448.48,711.56 L449.55,711.23 L450.61,710.91 L451.68,710.59 L452.74,710.28 L453.81,709.97 L454.87,709.66 L455.94,709.35 L457,709.05 L458.07,708.75 L459.13,708.45 L460.19,708.16 L461.26,707.87 L462.32,707.58 L463.39,707.3 L464.45,707.02 L465.52,706.74 L466.58,706.47 L467.65,706.2 L468.71,705.93 L469.78,705.67 L470.84,705.41 L471.91,705.15 L472.97,704.9 L474.04,704.65 L475.1,704.41 L476.17,704.17 L477.23,703.93 L478.3,703.7 L479.36,703.47 L480.43,703.23 L481.49,703 L482.55,702.77 L483.62,702.54 L484.68,702.31 L485.75,702.08 L486.81,701.85 L487.88,701.63 L488.94,701.4 L490.01,701.18 L491.07,700.96 L492.14,700.73 L493.2,700.52 L494.27,700.3 L495.33,700.09 L496.4,699.87 L497.46,699.67 L498.53,699.46 L499.59,699.26 L500.66,699.06 L501.72,698.87 L502.78,698.67 L503.85,698.49 L504.91,698.3 L505.98,698.12 L507.04,697.95 L508.11,697.78 L509.17,697.61 L510.24,697.45 L511.3,697.3 L512.37,697.15 L513.43,697.01 L514.5,696.87 L515.56,696.74 L516.63,696.61 L517.69,696.49 L518.76,696.38 L519.82,696.27 L520.89,696.18 L521.95,696.08 L523.01,695.98 L524.08,695.89 L525.14,695.79 L526.21,695.7 L527.27,695.6 L528.34,695.51 L529.4,695.41 L530.47,695.32 L531.53,695.23 L532.6,695.14 L533.66,695.05 L534.73,694.96 L535.79,694.87 L536.86,694.78 L537.92,694.69 L538.99,694.6 L540.05,694.52 L541.12,694.43 L542.18,694.35 L543.25,694.27 L544.31,694.19 L545.37,694.11 L546.44,694.03 L547.5,693.95 L548.57,693.88 L549.63,693.81 L550.7,693.73 L551.76,693.66 L552.83,693.59 L553.89,693.53 L554.96,693.46 L556.02,693.4 L557.09,693.33 L558.15,693.27 L559.22,693.22 L560.28,693.16 L561.35,693.1 L562.41,693.05 L563.48,693 L564.54,692.95 L565.61,692.91 L566.67,692.86 L567.73,692.82 L568.8,692.78 L569.86,692.75 L570.93,692.71 L571.99,692.68 L573.06,692.65 L574.12,692.62 L575.19,692.6 L576.25,692.58 L577.32,692.56 L578.38,692.54 L579.45,692.53 L580.51,692.52 L581.58,692.51 L582.64,692.5 L583.71,692.5 L584.77,692.5 L585.84,692.5 L586.9,692.5 L587.96,692.5 L589.03,692.5 L590.09,692.5 L591.16,692.5 L592.22,692.5 L593.29,692.5 L594.35,692.5 L595.42,692.5 L596.48,692.5 L597.55,692.5 L598.61,692.5 L599.68,692.5 L600.74,692.5 L601.81,692.5 L602.87,692.5 L603.94,692.5 L605,692.5 L606.07,692.5 L607.13,692.5 L608.19,692.5 L609.26,692.5 L610.32,692.5 L611.39,692.5 L612.45,692.5 L613.52,692.5 L614.58,692.5 L615.65,692.5 L616.71,692.5 L617.78,692.5 L618.84,692.5 L619.91,692.5 L620.97,692.5 L622.04,692.5 L623.1,692.5 L624.17,692.5 L625.23,692.5 L626.3,692.5 L627.36,692.5 L628.43,692.5 L629.49,692.5 L630.55,692.5 L631.62,692.5 L632.68,692.5 L633.75,692.5 L634.81,692.5 L635.88,692.5 L636.94,692.5 L638.01,692.5 L639.07,692.5 L640.14,692.5 L641.2,692.5 L642.27,692.5 L643.33,692.5 L644.4,692.5 L645.46,692.5 L646.53,692.5 L647.59,692.5 L648.66,692.5 L649.72,692.51 L650.79,692.51 L651.85,692.52 L652.91,692.54 L653.98,692.55 L655.04,692.57 L656.11,692.59 L657.17,692.62 L658.24,692.65 L659.3,692.68 L660.37,692.71 L661.43,692.75 L662.5,692.78 L663.56,692.83 L664.63,692.87 L665.69,692.91 L666.76,692.96 L667.82,693.01 L668.89,693.06 L669.95,693.11 L671.02,693.17 L672.08,693.22 L673.14,693.28 L674.21,693.34 L675.27,693.4 L676.34,693.46 L677.4,693.52 L678.47,693.59 L679.53,693.65 L680.6,693.72 L681.66,693.78 L682.73,693.85 L683.79,693.92 L684.86,693.98 L685.92,694.05 L686.99,694.12 L688.05,694.19 L689.12,694.26 L690.18,694.33 L691.25,694.4 L692.31,694.47 L693.38,694.55 L694.44,694.63 L695.5,694.72 L696.57,694.82 L697.63,694.93 L698.7,695.04 L699.76,695.16 L700.83,695.28 L701.89,695.41 L702.96,695.54 L704.02,695.68 L705.09,695.81 L706.15,695.96 L707.22,696.1 L708.28,696.25 L709.35,696.4 L710.41,696.55 L711.48,696.7 L712.54,696.85 L713.61,697 L714.67,697.16 L715.73,697.31 L716.8,697.46 L717.86,697.61 L718.93,697.76 L719.99,697.91 L721.06,698.05 L722.12,698.19 L723.19,698.33 L724.25,698.47 L725.32,698.6 L726.38,698.72 L727.45,698.84 L728.51,698.96 L729.58,699.07 L730.64,699.18 L731.71,699.27 L732.77,699.37 L733.84,699.45 L734.9,699.54 L735.97,699.62 L737.03,699.71 L738.09,699.79 L739.16,699.88 L740.22,699.96 L741.29,700.05 L742.35,700.13 L743.42,700.21 L744.48,700.3 L745.55,700.38 L746.61,700.46 L747.68,700.54 L748.74,700.62 L749.81,700.7 L750.87,700.78 L751.94,700.86 L753,700.94 L754.07,701.01 L755.13,701.09 L756.2,701.16 L757.26,701.24 L758.32,701.31 L759.39,701.39 L760.45,701.46 L761.52,701.53 L762.58,701.6 L763.65,701.67 L764.71,701.74 L765.78,701.81 L766.84,701.87 L767.91,701.94 L768.97,702 L770.04,702.07 L771.1,702.13 L772.17,702.19 L773.23,702.25 L774.3,702.31 L775.36,702.37 L776.43,702.42 L777.49,702.48 L778.55,702.53 L779.62,702.58 L780.68,702.64 L781.75,702.69 L782.81,702.73 L783.88,702.78 L784.94,702.83 L786.01,702.87 L787.07,702.91 L788.14,702.95 L789.2,702.99 L790.27,703.03 L791.33,703.07 L792.4,703.1 L793.46,703.14 L794.53,703.17 L795.59,703.2 L796.66,703.23 L797.72,703.25 L798.79,703.28 L799.85,703.3" fill="none" stroke="#0000ff" stroke-width="2.2" stroke-linejoin="round"/>
<path d="M161,1030.61 L162.06,1030.6 L163.13,1030.57 L164.19,1030.54 L165.26,1030.49 L166.32,1030.38 L167.39,1030.06 L168.45,1029.58 L169.52,1029.05 L170.58,1028.49 L171.65,1027.85 L172.71,1027.11 L173.78,1026.25 L174.84,1025.28 L175.91,1024.1 L176.97,1022.67 L178.04,1021.05 L179.1,1019.3 L180.17,1017.48 L181.23,1015.6 L182.3,1013.54 L183.36,1011.36 L184.42,1009.07 L185.49,1006.71 L186.55,1004.31 L187.62,1001.91 L188.68,999.54 L189.75,997.24 L190.81,994.97 L191.88,992.7 L192.94,990.43 L194.01,988.16 L195.07,985.89 L196.14,983.62 L197.2,981.34 L198.27,979.08 L199.33,976.81 L200.4,974.55 L201.46,972.29 L202.53,970.02 L203.59,967.75 L204.65,965.47 L205.72,963.2 L206.78,960.93 L207.85,958.67 L208.91,956.43 L209.98,954.22 L211.04,952.03 L212.11,949.87 L213.17,947.75 L214.24,945.65 L215.3,943.58 L216.37,941.52 L217.43,939.47 L218.5,937.43 L219.56,935.4 L220.63,933.36 L221.69,931.32 L222.76,929.26 L223.82,927.18 L224.88,925.08 L225.95,922.97 L227.01,920.87 L228.08,918.78 L229.14,916.71 L230.21,914.67 L231.27,912.68 L232.34,910.73 L233.4,908.84 L234.47,907.01 L235.53,905.23 L236.6,903.5 L237.66,901.79 L238.73,900.12 L239.79,898.46 L240.86,896.8 L241.92,895.15 L242.99,893.48 L244.05,891.8 L245.12,890.1 L246.18,888.4 L247.24,886.69 L248.31,884.97 L249.37,883.25 L250.44,881.54 L251.5,879.82 L252.57,878.1 L253.63,876.39 L254.7,874.69 L255.76,872.99 L256.83,871.3 L257.89,869.62 L258.96,867.95 L260.02,866.3 L261.09,864.66 L262.15,863.04 L263.22,861.43 L264.28,859.85 L265.35,858.28 L266.41,856.71 L267.48,855.16 L268.54,853.61 L269.6,852.06 L270.67,850.53 L271.73,849 L272.8,847.49 L273.86,845.98 L274.93,844.49 L275.99,843 L277.06,841.53 L278.12,840.08 L279.19,838.63 L280.25,837.21 L281.32,835.79 L282.38,834.39 L283.45,833.01 L284.51,831.65 L285.58,830.3 L286.64,828.97 L287.71,827.65 L288.77,826.36 L289.83,825.07 L290.9,823.8 L291.96,822.54 L293.03,821.3 L294.09,820.07 L295.16,818.84 L296.22,817.63 L297.29,816.43 L298.35,815.23 L299.42,814.04 L300.48,812.86 L301.55,811.69 L302.61,810.52 L303.68,809.35 L304.74,808.19 L305.81,807.03 L306.87,805.87 L307.94,804.72 L309,803.56 L310.06,802.41 L311.13,801.26 L312.19,800.12 L313.26,798.98 L314.32,797.85 L315.39,796.72 L316.45,795.59 L317.52,794.47 L318.58,793.36 L319.65,792.26 L320.71,791.17 L321.78,790.08 L322.84,789.01 L323.91,787.94 L324.97,786.88 L326.04,785.84 L327.1,784.8 L328.17,783.78 L329.23,782.77 L330.3,781.76 L331.36,780.77 L332.42,779.77 L333.49,778.79 L334.55,777.81 L335.62,776.84 L336.68,775.88 L337.75,774.93 L338.81,773.98 L339.88,773.05 L340.94,772.12 L342.01,771.2 L343.07,770.29 L344.14,769.39 L345.2,768.5 L346.27,767.62 L347.33,766.75 L348.4,765.89 L349.46,765.05 L350.53,764.21 L351.59,763.38 L352.65,762.55 L353.72,761.74 L354.78,760.93 L355.85,760.12 L356.91,759.33 L357.98,758.54 L359.04,757.76 L360.11,756.99 L361.17,756.23 L362.24,755.47 L363.3,754.73 L364.37,753.99 L365.43,753.27 L366.5,752.55 L367.56,751.85 L368.63,751.15 L369.69,750.47 L370.76,749.8 L371.82,749.14 L372.89,748.5 L373.95,747.86 L375.01,747.24 L376.08,746.63 L377.14,746.03 L378.21,745.44 L379.27,744.85 L380.34,744.27 L381.4,743.7 L382.47,743.13 L383.53,742.56 L384.6,741.99 L385.66,741.42 L386.73,740.86 L387.79,740.29 L388.86,739.71 L389.92,739.14 L390.99,738.56 L392.05,737.97 L393.12,737.37 L394.18,736.77 L395.25,736.15 L396.31,735.53 L397.37,734.91 L398.44,734.28 L399.5,733.65 L400.57,733.01 L401.63,732.38 L402.7,731.75 L403.76,731.13 L404.83,730.51 L405.89,729.9 L406.96,729.3 L408.02,728.71 L409.09,728.13 L410.15,727.56 L411.22,727.01 L412.28,726.48 L413.35,725.96 L414.41,725.46 L415.48,724.98 L416.54,724.5 L417.6,724.03 L418.67,723.58 L419.73,723.12 L420.8,722.68 L421.86,722.25 L422.93,721.82 L423.99,721.4 L425.06,720.98 L426.12,720.57 L427.19,720.17 L428.25,719.77 L429.32,719.37 L430.38,718.98 L431.45,718.59 L432.51,718.2 L433.58,717.82 L434.64,717.44 L435.71,717.06 L436.77,716.69 L437.83,716.31 L438.9,715.93 L439.96,715.56 L441.03,715.18 L442.09,714.81 L443.16,714.43 L444.22,714.06 L445.29,713.69 L446.35,713.32 L447.42,712.95 L448.48,712.58 L449.55,712.22 L450.61,711.86 L451.68,711.5 L452.74,711.14 L453.81,710.79 L454.87,710.43 L455.94,710.09 L457,709.74 L458.07,709.4 L459.13,709.06 L460.19,708.72 L461.26,708.39 L462.32,708.06 L463.39,707.74 L464.45,707.42 L465.52,707.1 L466.58,706.79 L467.65,706.48 L468.71,706.18 L469.78,705.88 L470.84,705.59 L471.91,705.3 L472.97,705.02 L474.04,704.74 L475.1,704.47 L476.17,704.21 L477.23,703.95 L478.3,703.7 L479.36,703.45 L480.43,703.2 L481.49,702.96 L482.55,702.71 L483.62,702.46 L484.68,702.22 L485.75,701.97 L486.81,701.73 L487.88,701.49 L488.94,701.25 L490.01,701.01 L491.07,700.78 L492.14,700.54 L493.2,700.31 L494.27,700.08 L495.33,699.86 L496.4,699.64 L497.46,699.42 L498.53,699.2 L499.59,698.99 L500.66,698.78 L501.72,698.58 L502.78,698.38 L503.85,698.18 L504.91,697.99 L505.98,697.81 L507.04,697.62 L508.11,697.45 L509.17,697.28 L510.24,697.11 L511.3,696.96 L512.37,696.8 L513.43,696.66 L514.5,696.52 L515.56,696.38 L516.63,696.26 L517.69,696.14 L518.76,696.02 L519.82,695.92 L520.89,695.82 L521.95,695.73 L523.01,695.63 L524.08,695.54 L525.14,695.44 L526.21,695.35 L527.27,695.26 L528.34,695.17 L529.4,695.08 L530.47,694.99 L531.53,694.9 L532.6,694.81 L533.66,694.73 L534.73,694.64 L535.79,694.56 L536.86,694.47 L537.92,694.39 L538.99,694.31 L540.05,694.23 L541.12,694.15 L542.18,694.07 L543.25,693.99 L544.31,693.92 L545.37,693.84 L546.44,693.77 L547.5,693.7 L548.57,693.63 L549.63,693.56 L550.7,693.49 L551.76,693.42 L552.83,693.36 L553.89,693.29 L554.96,693.23 L556.02,693.17 L557.09,693.11 L558.15,693.06 L559.22,693 L560.28,692.95 L561.35,692.9 L562.41,692.85 L563.48,692.8 L564.54,692.75 L565.61,692.71 L566.67,692.67 L567.73,692.63 L568.8,692.59 L569.86,692.55 L570.93,692.52 L571.99,692.49 L573.06,692.46 L574.12,692.43 L575.19,692.41 L576.25,692.38 L577.32,692.36 L578.38,692.35 L579.45,692.33 L580.51,692.32 L581.58,692.31 L582.64,692.3 L583.71,692.29 L584.77,692.29 L585.84,692.28 L586.9,692.28 L587.96,692.27 L589.03,692.27 L590.09,692.26 L591.16,692.26 L592.22,692.26 L593.29,692.25 L594.35,692.25 L595.42,692.24 L596.48,692.24 L597.55,692.24 L598.61,692.23 L599.68,692.23 L600.74,692.23 L601.81,692.22 L602.87,692.22 L603.94,692.22 L605,692.21 L606.07,692.21 L607.13,692.21 L608.19,692.2 L609.26,692.2 L610.32,692.2 L611.39,692.2 L612.45,692.19 L613.52,692.19 L614.58,692.19 L615.65,692.19 L616.71,692.18 L617.78,692.18 L618.84,692.18 L619.91,692.18 L620.97,692.17 L622.04,692.17 L623.1,692.17 L624.17,692.17 L625.23,692.17 L626.3,692.17 L627.36,692.16 L628.43,692.16 L629.49,692.16 L630.55,692.16 L631.62,692.16 L632.68,692.16 L633.75,692.16 L634.81,692.15 L635.88,692.15 L636.94,692.15 L638.01,692.15 L639.07,692.15 L640.14,692.15 L641.2,692.15 L642.27,692.15 L643.33,692.15 L644.4,692.15 L645.46,692.15 L646.53,692.15 L647.59,692.15 L648.66,692.15 L649.72,692.15 L650.79,692.15 L651.85,692.16 L652.91,692.17 L653.98,692.18 L655.04,692.19 L656.11,692.2 L657.17,692.22 L658.24,692.24 L659.3,692.26 L660.37,692.28 L661.43,692.3 L662.5,692.32 L663.56,692.35 L664.63,692.38 L665.69,692.41 L666.76,692.43 L667.82,692.47 L668.89,692.5 L669.95,692.53 L671.02,692.56 L672.08,692.6 L673.14,692.64 L674.21,692.67 L675.27,692.71 L676.34,692.75 L677.4,692.79 L678.47,692.83 L679.53,692.87 L680.6,692.91 L681.66,692.95 L682.73,692.99 L683.79,693.04 L684.86,693.08 L685.92,693.12 L686.99,693.17 L688.05,693.21 L689.12,693.25 L690.18,693.3 L691.25,693.34 L692.31,693.39 L693.38,693.43 L694.44,693.49 L695.5,693.54 L696.57,693.61 L697.63,693.67 L698.7,693.74 L699.76,693.81 L700.83,693.88 L701.89,693.96 L702.96,694.04 L704.02,694.12 L705.09,694.21 L706.15,694.29 L707.22,694.38 L708.28,694.47 L709.35,694.56 L710.41,694.66 L711.48,694.75 L712.54,694.85 L713.61,694.94 L714.67,695.04 L715.73,695.13 L716.8,695.23 L717.86,695.32 L718.93,695.42 L719.99,695.51 L721.06,695.61 L722.12,695.7 L723.19,695.79 L724.25,695.88 L725.32,695.97 L726.38,696.06 L727.45,696.14 L728.51,696.23 L729.58,696.31 L730.64,696.38 L731.71,696.46 L732.77,696.53 L733.84,696.6 L734.9,696.67 L735.97,696.74 L737.03,696.81 L738.09,696.88 L739.16,696.94 L740.22,697.01 L741.29,697.08 L742.35,697.15 L743.42,697.22 L744.48,697.28 L745.55,697.35 L746.61,697.42 L747.68,697.48 L748.74,697.55 L749.81,697.61 L750.87,697.68 L751.94,697.74 L753,697.81 L754.07,697.87 L755.13,697.94 L756.2,698 L757.26,698.06 L758.32,698.13 L759.39,698.19 L760.45,698.25 L761.52,698.31 L762.58,698.38 L763.65,698.44 L764.71,698.5 L765.78,698.56 L766.84,698.62 L767.91,698.68 L768.97,698.74 L770.04,698.8 L771.1,698.85 L772.17,698.91 L773.23,698.97 L774.3,699.03 L775.36,699.08 L776.43,699.14 L777.49,699.19 L778.55,699.25 L779.62,699.3 L780.68,699.36 L781.75,699.41 L782.81,699.47 L783.88,699.52 L784.94,699.57 L786.01,699.62 L787.07,699.68 L788.14,699.73 L789.2,699.78 L790.27,699.83 L791.33,699.88 L792.4,699.93 L793.46,699.97 L794.53,700.02 L795.59,700.07 L796.66,700.12 L797.72,700.16 L798.79,700.21 L799.85,700.25" fill="none" stroke="#00c000" stroke-width="2.2" stroke-linejoin="round"/>
<path d="M161,1029.54 L162.06,1029.53 L163.13,1029.5 L164.19,1029.47 L165.26,1029.42 L166.32,1029.36 L167.39,1029.26 L168.45,1029.11 L169.52,1028.92 L170.58,1028.63 L171.65,1028.05 L172.71,1027.25 L173.78,1026.3 L174.84,1025.28 L175.91,1024.1 L176.97,1022.67 L178.04,1021.05 L179.1,1019.3 L180.17,1017.48 L181.23,1015.59 L182.3,1013.51 L183.36,1011.29 L184.42,1008.96 L185.49,1006.57 L186.55,1004.16 L187.62,1001.77 L188.68,999.45 L189.75,997.24 L190.81,995.12 L191.88,993.05 L192.94,991.01 L194.01,989 L195.07,987.01 L196.14,985.03 L197.2,983.04 L198.27,981.03 L199.33,978.99 L200.4,976.92 L201.46,974.8 L202.53,972.62 L203.59,970.39 L204.65,968.13 L205.72,965.84 L206.78,963.55 L207.85,961.25 L208.91,958.98 L209.98,956.73 L211.04,954.52 L212.11,952.36 L213.17,950.23 L214.24,948.14 L215.3,946.06 L216.37,944 L217.43,941.96 L218.5,939.92 L219.56,937.88 L220.63,935.84 L221.69,933.8 L222.76,931.74 L223.82,929.66 L224.88,927.56 L225.95,925.46 L227.01,923.36 L228.08,921.27 L229.14,919.2 L230.21,917.16 L231.27,915.16 L232.34,913.21 L233.4,911.33 L234.47,909.5 L235.53,907.72 L236.6,905.98 L237.66,904.28 L238.73,902.6 L239.79,900.94 L240.86,899.29 L241.92,897.63 L242.99,895.97 L244.05,894.28 L245.12,892.59 L246.18,890.88 L247.24,889.17 L248.31,887.46 L249.37,885.74 L250.44,884.02 L251.5,882.3 L252.57,880.59 L253.63,878.88 L254.7,877.17 L255.76,875.47 L256.83,873.78 L257.89,872.1 L258.96,870.44 L260.02,868.78 L261.09,867.14 L262.15,865.52 L263.22,863.92 L264.28,862.34 L265.35,860.76 L266.41,859.2 L267.48,857.64 L268.54,856.09 L269.6,854.55 L270.67,853.01 L271.73,851.49 L272.8,849.97 L273.86,848.47 L274.93,846.97 L275.99,845.49 L277.06,844.02 L278.12,842.56 L279.19,841.12 L280.25,839.69 L281.32,838.28 L282.38,836.88 L283.45,835.5 L284.51,834.13 L285.58,832.78 L286.64,831.45 L287.71,830.14 L288.77,828.84 L289.83,827.56 L290.9,826.29 L291.96,825.03 L293.03,823.78 L294.09,822.55 L295.16,821.33 L296.22,820.12 L297.29,818.91 L298.35,817.72 L299.42,816.53 L300.48,815.35 L301.55,814.17 L302.61,813 L303.68,811.84 L304.74,810.68 L305.81,809.52 L306.87,808.36 L307.94,807.2 L309,806.05 L310.06,804.9 L311.13,803.75 L312.19,802.61 L313.26,801.47 L314.32,800.33 L315.39,799.2 L316.45,798.08 L317.52,796.96 L318.58,795.85 L319.65,794.75 L320.71,793.65 L321.78,792.57 L322.84,791.49 L323.91,790.42 L324.97,789.37 L326.04,788.32 L327.1,787.29 L328.17,786.26 L329.23,785.25 L330.3,784.25 L331.36,783.25 L332.42,782.26 L333.49,781.28 L334.55,780.3 L335.62,779.33 L336.68,778.37 L337.75,777.41 L338.81,776.47 L339.88,775.53 L340.94,774.6 L342.01,773.69 L343.07,772.78 L344.14,771.88 L345.2,770.99 L346.27,770.11 L347.33,769.24 L348.4,768.38 L349.46,767.53 L350.53,766.69 L351.59,765.86 L352.65,765.04 L353.72,764.22 L354.78,763.41 L355.85,762.61 L356.91,761.81 L357.98,761.02 L359.04,760.24 L360.11,759.47 L361.17,758.71 L362.24,757.96 L363.3,757.21 L364.37,756.48 L365.43,755.75 L366.5,755.04 L367.56,754.33 L368.63,753.64 L369.69,752.96 L370.76,752.29 L371.82,751.63 L372.89,750.98 L373.95,750.35 L375.01,749.73 L376.08,749.12 L377.14,748.52 L378.21,747.92 L379.27,747.34 L380.34,746.76 L381.4,746.18 L382.47,745.61 L383.53,745.04 L384.6,744.47 L385.66,743.91 L386.73,743.34 L387.79,742.77 L388.86,742.2 L389.92,741.62 L390.99,741.04 L392.05,740.45 L393.12,739.86 L394.18,739.25 L395.25,738.64 L396.31,738.02 L397.37,737.39 L398.44,736.76 L399.5,736.13 L400.57,735.5 L401.63,734.87 L402.7,734.24 L403.76,733.62 L404.83,733 L405.89,732.39 L406.96,731.78 L408.02,731.19 L409.09,730.61 L410.15,730.05 L411.22,729.5 L412.28,728.96 L413.35,728.45 L414.41,727.95 L415.48,727.47 L416.54,726.99 L417.6,726.53 L418.67,726.08 L419.73,725.64 L420.8,725.21 L421.86,724.79 L422.93,724.37 L423.99,723.96 L425.06,723.55 L426.12,723.15 L427.19,722.74 L428.25,722.35 L429.32,721.95 L430.38,721.55 L431.45,721.16 L432.51,720.76 L433.58,720.36 L434.64,719.95 L435.71,719.54 L436.77,719.13 L437.83,718.72 L438.9,718.3 L439.96,717.89 L441.03,717.47 L442.09,717.05 L443.16,716.64 L444.22,716.22 L445.29,715.8 L446.35,715.38 L447.42,714.96 L448.48,714.54 L449.55,714.12 L450.61,713.7 L451.68,713.28 L452.74,712.87 L453.81,712.45 L454.87,712.04 L455.94,711.63 L457,711.22 L458.07,710.81 L459.13,710.4 L460.19,710 L461.26,709.6 L462.32,709.2 L463.39,708.81 L464.45,708.41 L465.52,708.03 L466.58,707.64 L467.65,707.26 L468.71,706.89 L469.78,706.51 L470.84,706.15 L471.91,705.78 L472.97,705.42 L474.04,705.07 L475.1,704.72 L476.17,704.38 L477.23,704.05 L478.3,703.72 L479.36,703.39 L480.43,703.06 L481.49,702.73 L482.55,702.39 L483.62,702.06 L484.68,701.72 L485.75,701.38 L486.81,701.04 L487.88,700.71 L488.94,700.37 L490.01,700.03 L491.07,699.7 L492.14,699.37 L493.2,699.04 L494.27,698.71 L495.33,698.39 L496.4,698.07 L497.46,697.75 L498.53,697.44 L499.59,697.13 L500.66,696.83 L501.72,696.53 L502.78,696.24 L503.85,695.95 L504.91,695.68 L505.98,695.41 L507.04,695.14 L508.11,694.89 L509.17,694.64 L510.24,694.41 L511.3,694.18 L512.37,693.96 L513.43,693.75 L514.5,693.56 L515.56,693.37 L516.63,693.2 L517.69,693.03 L518.76,692.88 L519.82,692.75 L520.89,692.62 L521.95,692.5 L523.01,692.39 L524.08,692.27 L525.14,692.16 L526.21,692.05 L527.27,691.95 L528.34,691.84 L529.4,691.74 L530.47,691.64 L531.53,691.54 L532.6,691.45 L533.66,691.35 L534.73,691.26 L535.79,691.17 L536.86,691.08 L537.92,691 L538.99,690.91 L540.05,690.83 L541.12,690.75 L542.18,690.67 L543.25,690.59 L544.31,690.52 L545.37,690.44 L546.44,690.37 L547.5,690.3 L548.57,690.23 L549.63,690.16 L550.7,690.09 L551.76,690.02 L552.83,689.96 L553.89,689.89 L554.96,689.83 L556.02,689.76 L557.09,689.7 L558.15,689.64 L559.22,689.58 L560.28,689.52 L561.35,689.46 L562.41,689.41 L563.48,689.35 L564.54,689.29 L565.61,689.24 L566.67,689.18 L567.73,689.13 L568.8,689.07 L569.86,689.02 L570.93,688.96 L571.99,688.91 L573.06,688.86 L574.12,688.8 L575.19,688.75 L576.25,688.7 L577.32,688.64 L578.38,688.59 L579.45,688.54 L580.51,688.48 L581.58,688.43 L582.64,688.37 L583.71,688.32 L584.77,688.26 L585.84,688.21 L586.9,688.15 L587.96,688.1 L589.03,688.04 L590.09,687.98 L591.16,687.92 L592.22,687.87 L593.29,687.81 L594.35,687.75 L595.42,687.69 L596.48,687.63 L597.55,687.57 L598.61,687.51 L599.68,687.45 L600.74,687.39 L601.81,687.34 L602.87,687.28 L603.94,687.22 L605,687.16 L606.07,687.1 L607.13,687.04 L608.19,686.99 L609.26,686.93 L610.32,686.88 L611.39,686.82 L612.45,686.77 L613.52,686.71 L614.58,686.66 L615.65,686.61 L616.71,686.56 L617.78,686.5 L618.84,686.46 L619.91,686.41 L620.97,686.36 L622.04,686.31 L623.1,686.27 L624.17,686.22 L625.23,686.18 L626.3,686.14 L627.36,686.1 L628.43,686.06 L629.49,686.03 L630.55,685.99 L631.62,685.96 L632.68,685.93 L633.75,685.9 L634.81,685.87 L635.88,685.84 L636.94,685.82 L638.01,685.79 L639.07,685.77 L640.14,685.76 L641.2,685.74 L642.27,685.72 L643.33,685.71 L644.4,685.7 L645.46,685.7 L646.53,685.69 L647.59,685.69 L648.66,685.69 L649.72,685.69 L650.79,685.69 L651.85,685.69 L652.91,685.69 L653.98,685.69 L655.04,685.69 L656.11,685.7 L657.17,685.7 L658.24,685.7 L659.3,685.7 L660.37,685.71 L661.43,685.71 L662.5,685.71 L663.56,685.72 L664.63,685.72 L665.69,685.73 L666.76,685.73 L667.82,685.73 L668.89,685.74 L669.95,685.75 L671.02,685.75 L672.08,685.76 L673.14,685.76 L674.21,685.77 L675.27,685.78 L676.34,685.78 L677.4,685.79 L678.47,685.8 L679.53,685.8 L680.6,685.81 L681.66,685.82 L682.73,685.83 L683.79,685.83 L684.86,685.84 L685.92,685.85 L686.99,685.86 L688.05,685.87 L689.12,685.88 L690.18,685.89 L691.25,685.9 L692.31,685.91 L693.38,685.92 L694.44,685.94 L695.5,685.96 L696.57,685.99 L697.63,686.02 L698.7,686.06 L699.76,686.09 L700.83,686.13 L701.89,686.18 L702.96,686.22 L704.02,686.27 L705.09,686.32 L706.15,686.38 L707.22,686.43 L708.28,686.49 L709.35,686.55 L710.41,686.61 L711.48,686.67 L712.54,686.73 L713.61,686.8 L714.67,686.86 L715.73,686.93 L716.8,686.99 L717.86,687.06 L718.93,687.12 L719.99,687.19 L721.06,687.25 L722.12,687.31 L723.19,687.38 L724.25,687.44 L725.32,687.5 L726.38,687.56 L727.45,687.62 L728.51,687.67 L729.58,687.73 L730.64,687.78 L731.71,687.83 L732.77,687.88 L733.84,687.92 L734.9,687.97 L735.97,688.01 L737.03,688.06 L738.09,688.1 L739.16,688.14 L740.22,688.19 L741.29,688.23 L742.35,688.28 L743.42,688.32 L744.48,688.36 L745.55,688.41 L746.61,688.45 L747.68,688.5 L748.74,688.54 L749.81,688.58 L750.87,688.62 L751.94,688.67 L753,688.71 L754.07,688.75 L755.13,688.79 L756.2,688.84 L757.26,688.88 L758.32,688.92 L759.39,688.96 L760.45,689 L761.52,689.04 L762.58,689.08 L763.65,689.13 L764.71,689.17 L765.78,689.21 L766.84,689.25 L767.91,689.29 L768.97,689.33 L770.04,689.37 L771.1,689.4 L772.17,689.44 L773.23,689.48 L774.3,689.52 L775.36,689.56 L776.43,689.6 L777.49,689.64 L778.55,689.67 L779.62,689.71 L780.68,689.75 L781.75,689.79 L782.81,689.82 L783.88,689.86 L784.94,689.9 L786.01,689.93 L787.07,689.97 L788.14,690 L789.2,690.04 L790.27,690.08 L791.33,690.11 L792.4,690.14 L793.46,690.18 L794.53,690.21 L795.59,690.25 L796.66,690.28 L797.72,690.31 L798.79,690.35 L799.85,690.38" fill="none" stroke="#ff0000" stroke-width="2.2" stroke-linejoin="round"/>
<path d="M161,1029.54 L162.06,1029.53 L163.13,1029.5 L164.19,1029.47 L165.26,1029.42 L166.32,1029.36 L167.39,1029.26 L168.45,1029.11 L169.52,1028.92 L170.58,1028.63 L171.65,1028.05 L172.71,1027.25 L173.78,1026.3 L174.84,1025.28 L175.91,1024.1 L176.97,1022.67 L178.04,1021.05 L179.1,1019.3 L180.17,1017.48 L181.23,1015.59 L182.3,1013.54 L183.36,1011.34 L184.42,1009.04 L185.49,1006.67 L186.55,1004.27 L187.62,1001.87 L188.68,999.52 L189.75,997.24 L190.81,995.01 L191.88,992.8 L192.94,990.6 L194.01,988.4 L195.07,986.21 L196.14,984.02 L197.2,981.83 L198.27,979.63 L199.33,977.43 L200.4,975.23 L201.46,973 L202.53,970.76 L203.59,968.5 L204.65,966.23 L205.72,963.95 L206.78,961.67 L207.85,959.41 L208.91,957.16 L209.98,954.93 L211.04,952.74 L212.11,950.58 L213.17,948.46 L214.24,946.36 L215.3,944.29 L216.37,942.23 L217.43,940.18 L218.5,938.14 L219.56,936.11 L220.63,934.07 L221.69,932.03 L222.76,929.97 L223.82,927.89 L224.88,925.79 L225.95,923.68 L227.01,921.58 L228.08,919.49 L229.14,917.42 L230.21,915.38 L231.27,913.39 L232.34,911.44 L233.4,909.55 L234.47,907.72 L235.53,905.94 L236.6,904.21 L237.66,902.5 L238.73,900.83 L239.79,899.17 L240.86,897.51 L241.92,895.86 L242.99,894.19 L244.05,892.51 L245.12,890.81 L246.18,889.11 L247.24,887.4 L248.31,885.68 L249.37,883.96 L250.44,882.25 L251.5,880.53 L252.57,878.81 L253.63,877.1 L254.7,875.4 L255.76,873.7 L256.83,872.01 L257.89,870.33 L258.96,868.66 L260.02,867.01 L261.09,865.37 L262.15,863.75 L263.22,862.14 L264.28,860.56 L265.35,858.99 L266.41,857.42 L267.48,855.87 L268.54,854.32 L269.6,852.77 L270.67,851.24 L271.73,849.71 L272.8,848.2 L273.86,846.69 L274.93,845.2 L275.99,843.71 L277.06,842.24 L278.12,840.79 L279.19,839.34 L280.25,837.92 L281.32,836.5 L282.38,835.1 L283.45,833.72 L284.51,832.36 L285.58,831.01 L286.64,829.68 L287.71,828.36 L288.77,827.07 L289.83,825.78 L290.9,824.51 L291.96,823.25 L293.03,822.01 L294.09,820.78 L295.16,819.55 L296.22,818.34 L297.29,817.14 L298.35,815.94 L299.42,814.75 L300.48,813.57 L301.55,812.4 L302.61,811.23 L303.68,810.06 L304.74,808.9 L305.81,807.74 L306.87,806.58 L307.94,805.43 L309,804.27 L310.06,803.12 L311.13,801.97 L312.19,800.83 L313.26,799.69 L314.32,798.56 L315.39,797.43 L316.45,796.3 L317.52,795.18 L318.58,794.07 L319.65,792.97 L320.71,791.88 L321.78,790.79 L322.84,789.72 L323.91,788.65 L324.97,787.59 L326.04,786.55 L327.1,785.51 L328.17,784.49 L329.23,783.48 L330.3,782.47 L331.36,781.48 L332.42,780.48 L333.49,779.5 L334.55,778.52 L335.62,777.55 L336.68,776.59 L337.75,775.64 L338.81,774.69 L339.88,773.76 L340.94,772.83 L342.01,771.91 L343.07,771 L344.14,770.1 L345.2,769.21 L346.27,768.33 L347.33,767.46 L348.4,766.6 L349.46,765.76 L350.53,764.92 L351.59,764.09 L352.65,763.26 L353.72,762.45 L354.78,761.64 L355.85,760.83 L356.91,760.04 L357.98,759.25 L359.04,758.47 L360.11,757.7 L361.17,756.94 L362.24,756.18 L363.3,755.44 L364.37,754.7 L365.43,753.98 L366.5,753.26 L367.56,752.56 L368.63,751.86 L369.69,751.18 L370.76,750.51 L371.82,749.85 L372.89,749.21 L373.95,748.57 L375.01,747.95 L376.08,747.34 L377.14,746.74 L378.21,746.15 L379.27,745.56 L380.34,744.98 L381.4,744.41 L382.47,743.84 L383.53,743.27 L384.6,742.7 L385.66,742.13 L386.73,741.57 L387.79,741 L388.86,740.42 L389.92,739.85 L390.99,739.27 L392.05,738.68 L393.12,738.08 L394.18,737.48 L395.25,736.86 L396.31,736.24 L397.37,735.62 L398.44,734.99 L399.5,734.36 L400.57,733.72 L401.63,733.09 L402.7,732.46 L403.76,731.84 L404.83,731.22 L405.89,730.61 L406.96,730.01 L408.02,729.42 L409.09,728.84 L410.15,728.27 L411.22,727.72 L412.28,727.19 L413.35,726.67 L414.41,726.17 L415.48,725.69 L416.54,725.21 L417.6,724.75 L418.67,724.29 L419.73,723.85 L420.8,723.41 L421.86,722.97 L422.93,722.55 L423.99,722.13 L425.06,721.72 L426.12,721.31 L427.19,720.9 L428.25,720.5 L429.32,720.11 L430.38,719.72 L431.45,719.32 L432.51,718.94 L433.58,718.55 L434.64,718.16 L435.71,717.77 L436.77,717.39 L437.83,717 L438.9,716.62 L439.96,716.24 L441.03,715.87 L442.09,715.49 L443.16,715.12 L444.22,714.75 L445.29,714.38 L446.35,714.01 L447.42,713.65 L448.48,713.28 L449.55,712.92 L450.61,712.56 L451.68,712.21 L452.74,711.85 L453.81,711.5 L454.87,711.14 L455.94,710.79 L457,710.44 L458.07,710.09 L459.13,709.75 L460.19,709.4 L461.26,709.06 L462.32,708.72 L463.39,708.38 L464.45,708.04 L465.52,707.7 L466.58,707.36 L467.65,707.02 L468.71,706.69 L469.78,706.35 L470.84,706.02 L471.91,705.69 L472.97,705.36 L474.04,705.03 L475.1,704.7 L476.17,704.37 L477.23,704.04 L478.3,703.72 L479.36,703.39 L480.43,703.06 L481.49,702.72 L482.55,702.39 L483.62,702.05 L484.68,701.71 L485.75,701.36 L486.81,701.02 L487.88,700.68 L488.94,700.33 L490.01,699.99 L491.07,699.64 L492.14,699.3 L493.2,698.95 L494.27,698.61 L495.33,698.27 L496.4,697.93 L497.46,697.6 L498.53,697.26 L499.59,696.93 L500.66,696.61 L501.72,696.28 L502.78,695.97 L503.85,695.65 L504.91,695.34 L505.98,695.04 L507.04,694.74 L508.11,694.45 L509.17,694.16 L510.24,693.88 L511.3,693.61 L512.37,693.35 L513.43,693.09 L514.5,692.84 L515.56,692.6 L516.63,692.37 L517.69,692.15 L518.76,691.94 L519.82,691.73 L520.89,691.54 L521.95,691.35 L523.01,691.17 L524.08,690.98 L525.14,690.8 L526.21,690.62 L527.27,690.44 L528.34,690.27 L529.4,690.09 L530.47,689.92 L531.53,689.75 L532.6,689.58 L533.66,689.42 L534.73,689.25 L535.79,689.09 L536.86,688.93 L537.92,688.77 L538.99,688.61 L540.05,688.46 L541.12,688.3 L542.18,688.15 L543.25,688 L544.31,687.85 L545.37,687.71 L546.44,687.56 L547.5,687.42 L548.57,687.28 L549.63,687.15 L550.7,687.01 L551.76,686.88 L552.83,686.74 L553.89,686.61 L554.96,686.49 L556.02,686.36 L557.09,686.24 L558.15,686.11 L559.22,685.99 L560.28,685.88 L561.35,685.76 L562.41,685.64 L563.48,685.53 L564.54,685.42 L565.61,685.31 L566.67,685.21 L567.73,685.1 L568.8,685 L569.86,684.9 L570.93,684.8 L571.99,684.71 L573.06,684.61 L574.12,684.52 L575.19,684.43 L576.25,684.34 L577.32,684.25 L578.38,684.17 L579.45,684.09 L580.51,684.01 L581.58,683.93 L582.64,683.85 L583.71,683.78 L584.77,683.7 L585.84,683.63 L586.9,683.56 L587.96,683.49 L589.03,683.41 L590.09,683.34 L591.16,683.27 L592.22,683.2 L593.29,683.13 L594.35,683.05 L595.42,682.98 L596.48,682.91 L597.55,682.84 L598.61,682.77 L599.68,682.7 L600.74,682.64 L601.81,682.57 L602.87,682.5 L603.94,682.43 L605,682.37 L606.07,682.3 L607.13,682.24 L608.19,682.18 L609.26,682.11 L610.32,682.05 L611.39,681.99 L612.45,681.93 L613.52,681.87 L614.58,681.81 L615.65,681.76 L616.71,681.7 L617.78,681.65 L618.84,681.59 L619.91,681.54 L620.97,681.49 L622.04,681.44 L623.1,681.39 L624.17,681.35 L625.23,681.3 L626.3,681.26 L627.36,681.21 L628.43,681.17 L629.49,681.13 L630.55,681.09 L631.62,681.06 L632.68,681.02 L633.75,680.99 L634.81,680.96 L635.88,680.93 L636.94,680.9 L638.01,680.87 L639.07,680.85 L640.14,680.82 L641.2,680.8 L642.27,680.78 L643.33,680.77 L644.4,680.75 L645.46,680.74 L646.53,680.73 L647.59,680.72 L648.66,680.71 L649.72,680.71 L650.79,680.7 L651.85,680.7 L652.91,680.69 L653.98,680.69 L655.04,680.68 L656.11,680.67 L657.17,680.67 L658.24,680.66 L659.3,680.66 L660.37,680.65 L661.43,680.65 L662.5,680.64 L663.56,680.64 L664.63,680.63 L665.69,680.63 L666.76,680.63 L667.82,680.62 L668.89,680.62 L669.95,680.61 L671.02,680.61 L672.08,680.61 L673.14,680.6 L674.21,680.6 L675.27,680.6 L676.34,680.6 L677.4,680.59 L678.47,680.59 L679.53,680.59 L680.6,680.59 L681.66,680.58 L682.73,680.58 L683.79,680.58 L684.86,680.58 L685.92,680.58 L686.99,680.58 L688.05,680.58 L689.12,680.58 L690.18,680.58 L691.25,680.58 L692.31,680.58 L693.38,680.58 L694.44,680.59 L695.5,680.6 L696.57,680.61 L697.63,680.63 L698.7,680.65 L699.76,680.67 L700.83,680.7 L701.89,680.73 L702.96,680.76 L704.02,680.79 L705.09,680.83 L706.15,680.87 L707.22,680.9 L708.28,680.94 L709.35,680.99 L710.41,681.03 L711.48,681.07 L712.54,681.12 L713.61,681.17 L714.67,681.21 L715.73,681.26 L716.8,681.31 L717.86,681.36 L718.93,681.41 L719.99,681.45 L721.06,681.5 L722.12,681.55 L723.19,681.6 L724.25,681.65 L725.32,681.69 L726.38,681.74 L727.45,681.78 L728.51,681.83 L729.58,681.87 L730.64,681.91 L731.71,681.95 L732.77,681.99 L733.84,682.02 L734.9,682.06 L735.97,682.09 L737.03,682.13 L738.09,682.16 L739.16,682.2 L740.22,682.24 L741.29,682.27 L742.35,682.31 L743.42,682.34 L744.48,682.38 L745.55,682.41 L746.61,682.45 L747.68,682.49 L748.74,682.52 L749.81,682.56 L750.87,682.59 L751.94,682.63 L753,682.66 L754.07,682.7 L755.13,682.73 L756.2,682.77 L757.26,682.81 L758.32,682.84 L759.39,682.88 L760.45,682.91 L761.52,682.95 L762.58,682.98 L763.65,683.02 L764.71,683.05 L765.78,683.09 L766.84,683.12 L767.91,683.16 L768.97,683.19 L770.04,683.23 L771.1,683.26 L772.17,683.3 L773.23,683.33 L774.3,683.37 L775.36,683.4 L776.43,683.44 L777.49,683.47 L778.55,683.51 L779.62,683.54 L780.68,683.58 L781.75,683.61 L782.81,683.65 L783.88,683.68 L784.94,683.72 L786.01,683.75 L787.07,683.79 L788.14,683.82 L789.2,683.86 L790.27,683.89 L791.33,683.93 L792.4,683.96 L793.46,684 L794.53,684.03 L795.59,684.07 L796.66,684.1 L797.72,684.14 L798.79,684.17 L799.85,684.2" fill="none" stroke="#a31ee6" stroke-width="2.2" stroke-linejoin="round"/>
<line x1="180.17" y1="1015.28" x2="180.17" y2="1019.68" stroke="#a31ee6" stroke-width="2"/>
<line x1="175.92" y1="1015.28" x2="184.42" y2="1015.28" stroke="#a31ee6" stroke-width="2"/>
<line x1="175.92" y1="1019.68" x2="184.42" y2="1019.68" stroke="#a31ee6" stroke-width="2"/>
<line x1="201.46" y1="968.89" x2="201.46" y2="975.69" stroke="#00c000" stroke-width="2"/>
<line x1="197.21" y1="968.89" x2="205.71" y2="968.89" stroke="#00c000" stroke-width="2"/>
<line x1="197.21" y1="975.69" x2="205.71" y2="975.69" stroke="#00c000" stroke-width="2"/>
<line x1="201.46" y1="970.8" x2="201.46" y2="975.2" stroke="#a31ee6" stroke-width="2"/>
<line x1="197.21" y1="970.8" x2="205.71" y2="970.8" stroke="#a31ee6" stroke-width="2"/>
<line x1="197.21" y1="975.2" x2="205.71" y2="975.2" stroke="#a31ee6" stroke-width="2"/>
<line x1="222.76" y1="925.46" x2="222.76" y2="933.06" stroke="#00c000" stroke-width="2"/>
<line x1="218.51" y1="925.46" x2="227.01" y2="925.46" stroke="#00c000" stroke-width="2"/>
<line x1="218.51" y1="933.06" x2="227.01" y2="933.06" stroke="#00c000" stroke-width="2"/>
<line x1="222.76" y1="927.57" x2="222.76" y2="932.37" stroke="#a31ee6" stroke-width="2"/>
<line x1="218.51" y1="927.57" x2="227.01" y2="927.57" stroke="#a31ee6" stroke-width="2"/>
<line x1="218.51" y1="932.37" x2="227.01" y2="932.37" stroke="#a31ee6" stroke-width="2"/>
<line x1="244.05" y1="886.2" x2="244.05" y2="897.4" stroke="#00c000" stroke-width="2"/>
<line x1="239.8" y1="886.2" x2="248.3" y2="886.2" stroke="#00c000" stroke-width="2"/>
<line x1="239.8" y1="897.4" x2="248.3" y2="897.4" stroke="#00c000" stroke-width="2"/>
<line x1="244.05" y1="889.71" x2="244.05" y2="895.31" stroke="#a31ee6" stroke-width="2"/>
<line x1="239.8" y1="889.71" x2="248.3" y2="889.71" stroke="#a31ee6" stroke-width="2"/>
<line x1="239.8" y1="895.31" x2="248.3" y2="895.31" stroke="#a31ee6" stroke-width="2"/>
<line x1="265.35" y1="851.48" x2="265.35" y2="865.08" stroke="#00c000" stroke-width="2"/>
<line x1="261.1" y1="851.48" x2="269.6" y2="851.48" stroke="#00c000" stroke-width="2"/>
<line x1="261.1" y1="865.08" x2="269.6" y2="865.08" stroke="#00c000" stroke-width="2"/>
<line x1="265.35" y1="855.49" x2="265.35" y2="862.49" stroke="#a31ee6" stroke-width="2"/>
<line x1="261.1" y1="855.49" x2="269.6" y2="855.49" stroke="#a31ee6" stroke-width="2"/>
<line x1="261.1" y1="862.49" x2="269.6" y2="862.49" stroke="#a31ee6" stroke-width="2"/>
<line x1="286.64" y1="821.47" x2="286.64" y2="836.47" stroke="#00c000" stroke-width="2"/>
<line x1="282.39" y1="821.47" x2="290.89" y2="821.47" stroke="#00c000" stroke-width="2"/>
<line x1="282.39" y1="836.47" x2="290.89" y2="836.47" stroke="#00c000" stroke-width="2"/>
<line x1="329.23" y1="774.37" x2="329.23" y2="791.17" stroke="#00c000" stroke-width="2"/>
<line x1="324.98" y1="774.37" x2="333.48" y2="774.37" stroke="#00c000" stroke-width="2"/>
<line x1="324.98" y1="791.17" x2="333.48" y2="791.17" stroke="#00c000" stroke-width="2"/>
<line x1="329.23" y1="780.48" x2="329.23" y2="786.48" stroke="#a31ee6" stroke-width="2"/>
<line x1="324.98" y1="780.48" x2="333.48" y2="780.48" stroke="#a31ee6" stroke-width="2"/>
<line x1="324.98" y1="786.48" x2="333.48" y2="786.48" stroke="#a31ee6" stroke-width="2"/>
<line x1="371.82" y1="746.15" x2="371.82" y2="753.55" stroke="#a31ee6" stroke-width="2"/>
<line x1="367.57" y1="746.15" x2="376.07" y2="746.15" stroke="#a31ee6" stroke-width="2"/>
<line x1="367.57" y1="753.55" x2="376.07" y2="753.55" stroke="#a31ee6" stroke-width="2"/>
<line x1="393.12" y1="728.37" x2="393.12" y2="746.37" stroke="#00c000" stroke-width="2"/>
<line x1="388.87" y1="728.37" x2="397.37" y2="728.37" stroke="#00c000" stroke-width="2"/>
<line x1="388.87" y1="746.37" x2="397.37" y2="746.37" stroke="#00c000" stroke-width="2"/>
<line x1="414.41" y1="714.44" x2="414.41" y2="733.64" stroke="#0000ff" stroke-width="2"/>
<line x1="410.16" y1="714.44" x2="418.66" y2="714.44" stroke="#0000ff" stroke-width="2"/>
<line x1="410.16" y1="733.64" x2="418.66" y2="733.64" stroke="#0000ff" stroke-width="2"/>
<line x1="435.71" y1="717.54" x2="435.71" y2="721.54" stroke="#ff0000" stroke-width="2"/>
<line x1="431.46" y1="717.54" x2="439.96" y2="717.54" stroke="#ff0000" stroke-width="2"/>
<line x1="431.46" y1="721.54" x2="439.96" y2="721.54" stroke="#ff0000" stroke-width="2"/>
<line x1="478.3" y1="700.72" x2="478.3" y2="706.72" stroke="#a31ee6" stroke-width="2"/>
<line x1="474.05" y1="700.72" x2="482.55" y2="700.72" stroke="#a31ee6" stroke-width="2"/>
<line x1="474.05" y1="706.72" x2="482.55" y2="706.72" stroke="#a31ee6" stroke-width="2"/>
<line x1="499.59" y1="690.99" x2="499.59" y2="706.99" stroke="#00c000" stroke-width="2"/>
<line x1="495.34" y1="690.99" x2="503.84" y2="690.99" stroke="#00c000" stroke-width="2"/>
<line x1="495.34" y1="706.99" x2="503.84" y2="706.99" stroke="#00c000" stroke-width="2"/>
<line x1="520.89" y1="688.18" x2="520.89" y2="704.18" stroke="#0000ff" stroke-width="2"/>
<line x1="516.64" y1="688.18" x2="525.14" y2="688.18" stroke="#0000ff" stroke-width="2"/>
<line x1="516.64" y1="704.18" x2="525.14" y2="704.18" stroke="#0000ff" stroke-width="2"/>
<line x1="542.18" y1="688.67" x2="542.18" y2="692.67" stroke="#ff0000" stroke-width="2"/>
<line x1="537.93" y1="688.67" x2="546.43" y2="688.67" stroke="#ff0000" stroke-width="2"/>
<line x1="537.93" y1="692.67" x2="546.43" y2="692.67" stroke="#ff0000" stroke-width="2"/>
<line x1="584.77" y1="680.7" x2="584.77" y2="686.7" stroke="#a31ee6" stroke-width="2"/>
<line x1="580.52" y1="680.7" x2="589.02" y2="680.7" stroke="#a31ee6" stroke-width="2"/>
<line x1="580.52" y1="686.7" x2="589.02" y2="686.7" stroke="#a31ee6" stroke-width="2"/>
<line x1="606.07" y1="688.91" x2="606.07" y2="695.51" stroke="#00c000" stroke-width="2"/>
<line x1="601.82" y1="688.91" x2="610.32" y2="688.91" stroke="#00c000" stroke-width="2"/>
<line x1="601.82" y1="695.51" x2="610.32" y2="695.51" stroke="#00c000" stroke-width="2"/>
<line x1="627.36" y1="686.3" x2="627.36" y2="698.7" stroke="#0000ff" stroke-width="2"/>
<line x1="623.11" y1="686.3" x2="631.61" y2="686.3" stroke="#0000ff" stroke-width="2"/>
<line x1="623.11" y1="698.7" x2="631.61" y2="698.7" stroke="#0000ff" stroke-width="2"/>
<line x1="648.66" y1="683.69" x2="648.66" y2="687.69" stroke="#ff0000" stroke-width="2"/>
<line x1="644.41" y1="683.69" x2="652.91" y2="683.69" stroke="#ff0000" stroke-width="2"/>
<line x1="644.41" y1="687.69" x2="652.91" y2="687.69" stroke="#ff0000" stroke-width="2"/>
<line x1="691.25" y1="676.58" x2="691.25" y2="684.58" stroke="#a31ee6" stroke-width="2"/>
<line x1="687" y1="676.58" x2="695.5" y2="676.58" stroke="#a31ee6" stroke-width="2"/>
<line x1="687" y1="684.58" x2="695.5" y2="684.58" stroke="#a31ee6" stroke-width="2"/>
<line x1="712.54" y1="692.85" x2="712.54" y2="696.85" stroke="#00c000" stroke-width="2"/>
<line x1="708.29" y1="692.85" x2="716.79" y2="692.85" stroke="#00c000" stroke-width="2"/>
<line x1="708.29" y1="696.85" x2="716.79" y2="696.85" stroke="#00c000" stroke-width="2"/>
<line x1="733.84" y1="694.45" x2="733.84" y2="704.45" stroke="#0000ff" stroke-width="2"/>
<line x1="729.59" y1="694.45" x2="738.09" y2="694.45" stroke="#0000ff" stroke-width="2"/>
<line x1="729.59" y1="704.45" x2="738.09" y2="704.45" stroke="#0000ff" stroke-width="2"/>
<line x1="755.13" y1="686.39" x2="755.13" y2="691.19" stroke="#ff0000" stroke-width="2"/>
<line x1="750.88" y1="686.39" x2="759.38" y2="686.39" stroke="#ff0000" stroke-width="2"/>
<line x1="750.88" y1="691.19" x2="759.38" y2="691.19" stroke="#ff0000" stroke-width="2"/>
<line x1="797.72" y1="680.34" x2="797.72" y2="687.94" stroke="#a31ee6" stroke-width="2"/>
<line x1="793.47" y1="680.34" x2="801.97" y2="680.34" stroke="#a31ee6" stroke-width="2"/>
<line x1="793.47" y1="687.94" x2="801.97" y2="687.94" stroke="#a31ee6" stroke-width="2"/>
<line x1="527.4" y1="853.1" x2="561" y2="853.1" stroke="#a31ee6" stroke-width="2"/>
<text x="578.7" y="861.3" font-family='"Liberation Sans", Arial, sans-serif' font-size="26.2" font-weight="normal" text-anchor="start">RBCs 0.53%</text>
<line x1="527.4" y1="896.93" x2="561" y2="896.93" stroke="#ff0000" stroke-width="2"/>
<text x="578.7" y="905.13" font-family='"Liberation Sans", Arial, sans-serif' font-size="26.2" font-weight="normal" text-anchor="start">RBCs Lysed 0.53%</text>
<line x1="527.4" y1="940.76" x2="561" y2="940.76" stroke="#00c000" stroke-width="2"/>
<text x="578.7" y="948.96" font-family='"Liberation Sans", Arial, sans-serif' font-size="26.2" font-weight="normal" text-anchor="start">SAGM</text>
<line x1="527.4" y1="984.59" x2="561" y2="984.59" stroke="#0000ff" stroke-width="2"/>
<text x="578.7" y="992.79" font-family='"Liberation Sans", Arial, sans-serif' font-size="26.2" font-weight="normal" text-anchor="start">Water (MilliQ)</text>
<rect x="965.9" y="620.5" width="4" height="437.9" fill="#000"/>
<rect x="955.9" y="1046.4" width="653.3" height="4" fill="#000"/>
<rect x="955.9" y="1046.4" width="10" height="4" fill="#000"/>
<rect x="955.9" y="939.93" width="10" height="4" fill="#000"/>
<rect x="955.9" y="833.45" width="10" height="4" fill="#000"/>
<rect x="955.9" y="726.98" width="10" height="4" fill="#000"/>
<rect x="955.9" y="684.38" width="10" height="4" fill="#000"/>
<rect x="955.9" y="620.5" width="10" height="4" fill="#000"/>
<rect x="965.9" y="1048.4" width="4" height="10" fill="#000"/>
<rect x="1057.23" y="1048.4" width="4" height="10" fill="#000"/>
<rect x="1148.56" y="1048.4" width="4" height="10" fill="#000"/>
<rect x="1239.89" y="1048.4" width="4" height="10" fill="#000"/>
<rect x="1331.21" y="1048.4" width="4" height="10" fill="#000"/>
<rect x="1422.54" y="1048.4" width="4" height="10" fill="#000"/>
<rect x="1513.87" y="1048.4" width="4" height="10" fill="#000"/>
<rect x="1605.2" y="1048.4" width="4" height="10" fill="#000"/>
<text x="952" y="1058.64" font-family='"Liberation Sans", Arial, sans-serif' font-size="32" font-weight="bold" text-anchor="end">20</text>
<text x="952" y="952.17" font-family='"Liberation Sans", Arial, sans-serif' font-size="32" font-weight="bold" text-anchor="end">25</text>
<text x="952" y="845.69" font-family='"Liberation Sans", Arial, sans-serif' font-size="32" font-weight="bold" text-anchor="end">30</text>
<text x="952" y="739.22" font-family='"Liberation Sans", Arial, sans-serif' font-size="32" font-weight="bold" text-anchor="end">35</text>
<text x="952" y="696.62" font-family='"Liberation Sans", Arial, sans-serif' font-size="32" font-weight="bold" text-anchor="end">37</text>
<text x="952" y="632.74" font-family='"Liberation Sans", Arial, sans-serif' font-size="32" font-weight="bold" text-anchor="end">40</text>
<text x="967.9" y="1095.5" font-family='"Liberation Sans", Arial, sans-serif' font-size="32" font-weight="bold" text-anchor="middle">0</text>
<text x="1059.23" y="1095.5" font-family='"Liberation Sans", Arial, sans-serif' font-size="32" font-weight="bold" text-anchor="middle">5</text>
<text x="1150.56" y="1095.5" font-family='"Liberation Sans", Arial, sans-serif' font-size="32" font-weight="bold" text-anchor="middle">10</text>
<text x="1241.89" y="1095.5" font-family='"Liberation Sans", Arial, sans-serif' font-size="32" font-weight="bold" text-anchor="middle">15</text>
<text x="1333.21" y="1095.5" font-family='"Liberation Sans", Arial, sans-serif' font-size="32" font-weight="bold" text-anchor="middle">20</text>
<text x="1424.54" y="1095.5" font-family='"Liberation Sans", Arial, sans-serif' font-size="32" font-weight="bold" text-anchor="middle">25</text>
<text x="1515.87" y="1095.5" font-family='"Liberation Sans", Arial, sans-serif' font-size="32" font-weight="bold" text-anchor="middle">30</text>
<text x="1607.2" y="1095.5" font-family='"Liberation Sans", Arial, sans-serif' font-size="32" font-weight="bold" text-anchor="middle">35</text>
<text transform="translate(901.3,970.5) rotate(-90)" font-family='"Liberation Sans", Arial, sans-serif' font-size="36.4" font-weight="bold">Temperature (<tspan font-weight="normal" font-size="113%">°</tspan>C)</text>
<text x="1160.5" y="1145" font-family='"Liberation Sans", Arial, sans-serif' font-size="35" font-weight="bold" text-anchor="start">Time (seconds)</text>
<line x1="968.3" y1="686.38" x2="1608" y2="686.38" stroke="#000" stroke-width="4" stroke-linecap="round" stroke-dasharray="8.2 13.1"/>
<clipPath id="clipD"><rect x="960" y="621.5" width="660" height="440"/></clipPath>
<g clip-path="url(#clipD)">
<path d="M967.9,1001.98 L972.47,1001.98 L977.03,1001.98 L981.6,1001.98 L986.17,1001.98 L990.73,1001.98 L995.3,1001.98 L999.87,1001.98 L1004.43,1001.98 L1009,1001.94 L1013.56,1001.85 L1018.13,1001.72 L1022.7,1001.55 L1027.26,1001.26 L1031.83,1000.78 L1036.4,1000.15 L1040.96,999.42 L1045.53,998.47 L1050.1,997.2 L1054.66,995.71 L1059.23,994.1 L1063.8,992.29 L1068.36,990.2 L1072.93,987.93 L1077.49,985.58 L1082.06,983.11 L1086.63,980.47 L1091.19,977.72 L1095.76,974.93 L1100.33,972.08 L1104.89,969.15 L1109.46,966.17 L1114.03,963.22 L1118.59,960.32 L1123.16,957.43 L1127.72,954.51 L1132.29,951.51 L1136.86,948.42 L1141.42,945.25 L1145.99,942.02 L1150.56,938.73 L1155.12,935.35 L1159.69,931.88 L1164.26,928.38 L1168.82,924.89 L1173.39,921.43 L1177.96,917.97 L1182.52,914.51 L1187.09,911.05 L1191.65,907.59 L1196.22,904.13 L1200.79,900.67 L1205.35,897.21 L1209.92,893.75 L1214.49,890.28 L1219.05,886.82 L1223.62,883.36 L1228.19,879.93 L1232.75,876.51 L1237.32,873.05 L1241.89,869.52 L1246.45,865.64 L1251.02,861.52 L1255.59,857.67 L1260.15,854.62 L1264.72,852.48 L1269.28,850.79 L1273.85,849.14 L1278.42,847.16 L1282.98,844.67 L1287.55,841.81 L1292.12,838.7 L1296.68,835.45 L1301.25,831.95 L1305.82,828.15 L1310.38,824.28 L1314.95,820.54 L1319.52,817.05 L1324.08,813.66 L1328.65,810.25 L1333.21,806.7 L1337.78,802.94 L1342.35,799.03 L1346.91,795.07 L1351.48,791.16 L1356.05,787.3 L1360.61,783.45 L1365.18,779.62 L1369.75,775.82 L1374.31,772.01 L1378.88,768.2 L1383.44,764.47 L1388.01,760.92 L1392.58,757.56 L1397.14,754.34 L1401.71,751.21 L1406.28,748.14 L1410.84,745.06 L1415.41,742.01 L1419.98,739.09 L1424.54,736.43 L1429.11,734.13 L1433.68,732.06 L1438.24,730 L1442.81,727.7 L1447.38,725.03 L1451.94,722.11 L1456.51,719.05 L1461.07,715.99 L1465.64,712.91 L1470.21,709.77 L1474.77,706.6 L1479.34,703.42 L1483.91,700.22 L1488.47,696.98 L1493.04,693.77 L1497.61,690.64 L1502.17,687.64 L1506.74,684.72 L1511.31,681.84 L1515.87,678.93 L1520.44,676.03 L1525,673.14 L1529.57,670.22 L1534.14,667.22 L1538.7,664.08 L1543.27,660.83 L1547.84,657.58 L1552.4,654.44 L1556.97,651.44 L1561.54,648.52 L1566.1,645.63 L1570.67,642.73 L1575.24,639.78 L1579.8,636.8 L1584.37,633.87 L1588.93,631.02 L1593.5,628.26 L1598.07,625.56 L1602.63,622.93 L1607.2,620.37" fill="none" stroke="#0000ff" stroke-width="2.1" stroke-linejoin="round"/>
<path d="M967.9,994.1 L972.47,994.09 L977.03,994.09 L981.6,994.07 L986.17,994.05 L990.73,994.02 L995.3,993.99 L999.87,993.95 L1004.43,993.91 L1009,993.86 L1013.56,993.8 L1018.13,993.74 L1022.7,993.67 L1027.26,993.53 L1031.83,993.28 L1036.4,992.96 L1040.96,992.61 L1045.53,992.22 L1050.1,991.75 L1054.66,991.18 L1059.23,990.48 L1063.8,989.51 L1068.36,988.19 L1072.93,986.64 L1077.49,984.94 L1082.06,982.97 L1086.63,980.63 L1091.19,978.11 L1095.76,975.57 L1100.33,973.02 L1104.89,970.37 L1109.46,967.66 L1114.03,964.92 L1118.59,962.17 L1123.16,959.37 L1127.72,956.53 L1132.29,953.64 L1136.86,950.68 L1141.42,947.66 L1145.99,944.6 L1150.56,941.5 L1155.12,938.35 L1159.69,935.15 L1164.26,931.93 L1168.82,928.72 L1173.39,925.54 L1177.96,922.37 L1182.52,919.18 L1187.09,915.95 L1191.65,912.65 L1196.22,909.3 L1200.79,905.93 L1205.35,902.53 L1209.92,899.1 L1214.49,895.64 L1219.05,892.16 L1223.62,888.69 L1228.19,885.23 L1232.75,881.77 L1237.32,878.31 L1241.89,874.85 L1246.45,871.37 L1251.02,867.88 L1255.59,864.42 L1260.15,861 L1264.72,857.66 L1269.28,854.38 L1273.85,851.1 L1278.42,847.8 L1282.98,844.45 L1287.55,841.07 L1292.12,837.7 L1296.68,834.39 L1301.25,831.15 L1305.82,827.96 L1310.38,824.79 L1314.95,821.61 L1319.52,818.41 L1324.08,815.22 L1328.65,812.03 L1333.21,808.83 L1337.78,805.64 L1342.35,802.44 L1346.91,799.25 L1351.48,796.05 L1356.05,792.86 L1360.61,789.67 L1365.18,786.47 L1369.75,783.28 L1374.31,780.08 L1378.88,776.89 L1383.44,773.69 L1388.01,770.5 L1392.58,767.27 L1397.14,764.03 L1401.71,760.82 L1406.28,757.72 L1410.84,754.77 L1415.41,751.92 L1419.98,749.1 L1424.54,746.22 L1429.11,743.27 L1433.68,740.28 L1438.24,737.28 L1442.81,734.3 L1447.38,731.34 L1451.94,728.39 L1456.51,725.46 L1461.07,722.59 L1465.64,719.78 L1470.21,717.02 L1474.77,714.28 L1479.34,711.51 L1483.91,708.72 L1488.47,705.91 L1493.04,703.08 L1497.61,700.23 L1502.17,697.33 L1506.74,694.4 L1511.31,691.45 L1515.87,688.51 L1520.44,685.59 L1525,682.66 L1529.57,679.73 L1534.14,676.8 L1538.7,673.87 L1543.27,670.95 L1547.84,668.02 L1552.4,665.09 L1556.97,662.16 L1561.54,659.23 L1566.1,656.31 L1570.67,653.38 L1575.24,650.47 L1579.8,647.57 L1584.37,644.65 L1588.93,641.67 L1593.5,638.61 L1598.07,635.49 L1602.63,632.32 L1607.2,629.1" fill="none" stroke="#00c000" stroke-width="2.1" stroke-linejoin="round"/>
<path d="M967.9,993.03 L972.47,993.03 L977.03,993.03 L981.6,993.03 L986.17,993.03 L990.73,993.03 L995.3,993.03 L999.87,993.03 L1004.43,993.03 L1009,993.03 L1013.56,993.03 L1018.13,993.03 L1022.7,993.03 L1027.26,993 L1031.83,992.91 L1036.4,992.77 L1040.96,992.61 L1045.53,992.36 L1050.1,991.98 L1054.66,991.49 L1059.23,990.9 L1063.8,990.11 L1068.36,989.02 L1072.93,987.71 L1077.49,986.22 L1082.06,984.38 L1086.63,982.1 L1091.19,979.59 L1095.76,977.06 L1100.33,974.51 L1104.89,971.84 L1109.46,969.11 L1114.03,966.41 L1118.59,963.78 L1123.16,961.15 L1127.72,958.5 L1132.29,955.77 L1136.86,952.94 L1141.42,950.04 L1145.99,947.08 L1150.56,944.05 L1155.12,940.94 L1159.69,937.74 L1164.26,934.5 L1168.82,931.28 L1173.39,928.08 L1177.96,924.89 L1182.52,921.69 L1187.09,918.5 L1191.65,915.31 L1196.22,912.11 L1200.79,908.92 L1205.35,905.72 L1209.92,902.55 L1214.49,899.4 L1219.05,896.21 L1223.62,892.95 L1228.19,889.56 L1232.75,886.09 L1237.32,882.59 L1241.89,879.1 L1246.45,875.62 L1251.02,872.11 L1255.59,868.65 L1260.15,865.26 L1264.72,862.01 L1269.28,858.85 L1273.85,855.7 L1278.42,852.49 L1282.98,849.15 L1287.55,845.74 L1292.12,842.35 L1296.68,839.07 L1301.25,835.96 L1305.82,832.96 L1310.38,829.98 L1314.95,826.93 L1319.52,823.78 L1324.08,820.58 L1328.65,817.36 L1333.21,814.15 L1337.78,810.93 L1342.35,807.7 L1346.91,804.49 L1351.48,801.38 L1356.05,798.39 L1360.61,795.48 L1365.18,792.6 L1369.75,789.67 L1374.31,786.69 L1378.88,783.7 L1383.44,780.66 L1388.01,777.53 L1392.58,774.28 L1397.14,770.93 L1401.71,767.53 L1406.28,764.11 L1410.84,760.66 L1415.41,757.15 L1419.98,753.66 L1424.54,750.27 L1429.11,747.03 L1433.68,743.88 L1438.24,740.74 L1442.81,737.49 L1447.38,734.06 L1451.94,730.5 L1456.51,726.98 L1461.07,723.65 L1465.64,720.56 L1470.21,717.6 L1474.77,714.74 L1479.34,711.94 L1483.91,709.23 L1488.47,706.62 L1493.04,704 L1497.61,701.29 L1502.17,698.47 L1506.74,695.57 L1511.31,692.61 L1515.87,689.58 L1520.44,686.44 L1525,683.19 L1529.57,679.94 L1534.14,676.8 L1538.7,673.8 L1543.27,670.88 L1547.84,667.99 L1552.4,665.09 L1556.97,662.14 L1561.54,659.16 L1566.1,656.23 L1570.67,653.38 L1575.24,650.62 L1579.8,647.94 L1584.37,645.31 L1588.93,642.73 L1593.5,640.2 L1598.07,637.73 L1602.63,635.3 L1607.2,632.93" fill="none" stroke="#ff0000" stroke-width="2.1" stroke-linejoin="round"/>
<path d="M967.9,995.16 L972.47,995.16 L977.03,995.15 L981.6,995.13 L986.17,995.11 L990.73,995.09 L995.3,995.05 L999.87,995.01 L1004.43,994.97 L1009,994.92 L1013.56,994.86 L1018.13,994.8 L1022.7,994.74 L1027.26,994.62 L1031.83,994.42 L1036.4,994.17 L1040.96,993.88 L1045.53,993.56 L1050.1,993.15 L1054.66,992.63 L1059.23,991.97 L1063.8,990.93 L1068.36,989.4 L1072.93,987.56 L1077.49,985.58 L1082.06,983.29 L1086.63,980.59 L1091.19,977.72 L1095.76,974.93 L1100.33,972.29 L1104.89,969.67 L1109.46,967.02 L1114.03,964.28 L1118.59,961.46 L1123.16,958.56 L1127.72,955.6 L1132.29,952.57 L1136.86,949.47 L1141.42,946.28 L1145.99,943.05 L1150.56,939.8 L1155.12,936.5 L1159.69,933.17 L1164.26,929.84 L1168.82,926.59 L1173.39,923.48 L1177.96,920.45 L1182.52,917.41 L1187.09,914.24 L1191.65,910.89 L1196.22,907.42 L1200.79,903.9 L1205.35,900.4 L1209.92,896.99 L1214.49,893.6 L1219.05,890.16 L1223.62,886.56 L1228.19,882.67 L1232.75,878.57 L1237.32,874.47 L1241.89,870.59 L1246.45,866.96 L1251.02,863.47 L1255.59,860.08 L1260.15,856.75 L1264.72,853.48 L1269.28,850.29 L1273.85,847.14 L1278.42,843.97 L1282.98,840.77 L1287.55,837.58 L1292.12,834.39 L1296.68,831.19 L1301.25,828.02 L1305.82,824.87 L1310.38,821.68 L1314.95,818.41 L1319.52,815.03 L1324.08,811.56 L1328.65,808.06 L1333.21,804.57 L1337.78,801.11 L1342.35,797.65 L1346.91,794.19 L1351.48,790.73 L1356.05,787.27 L1360.61,783.81 L1365.18,780.35 L1369.75,776.89 L1374.31,773.43 L1378.88,769.97 L1383.44,766.51 L1388.01,763.05 L1392.58,759.56 L1397.14,756.06 L1401.71,752.59 L1406.28,749.21 L1410.84,745.85 L1415.41,742.52 L1419.98,739.34 L1424.54,736.43 L1429.11,733.86 L1433.68,731.53 L1438.24,729.25 L1442.81,726.85 L1447.38,724.29 L1451.94,721.66 L1456.51,718.96 L1461.07,716.2 L1465.64,713.37 L1470.21,710.48 L1474.77,707.51 L1479.34,704.49 L1483.91,701.42 L1488.47,698.29 L1493.04,695.07 L1497.61,691.71 L1502.17,688.17 L1506.74,684.46 L1511.31,680.65 L1515.87,676.8 L1520.44,672.86 L1525,668.82 L1529.57,664.77 L1534.14,660.83 L1538.7,656.98 L1543.27,653.17 L1547.84,649.47 L1552.4,645.92 L1556.97,642.57 L1561.54,639.34 L1566.1,636.22 L1570.67,633.15 L1575.24,630.12 L1579.8,627.16 L1584.37,624.26 L1588.93,621.44" fill="none" stroke="#6a0fb5" stroke-width="2.1" stroke-linejoin="round"/>
<path d="M967.9,996.65 L972.47,996.65 L977.03,996.65 L981.6,996.64 L986.17,996.63 L990.73,996.62 L995.3,996.61 L999.87,996.59 L1004.43,996.57 L1009,996.54 L1013.56,996.51 L1018.13,996.48 L1022.7,996.44 L1027.26,996.3 L1031.83,996.01 L1036.4,995.61 L1040.96,995.16 L1045.53,994.62 L1050.1,993.92 L1054.66,993.04 L1059.23,991.97 L1063.8,990.41 L1068.36,988.26 L1072.93,985.83 L1077.49,983.45 L1082.06,981.17 L1086.63,978.82 L1091.19,976.39 L1095.76,973.87 L1100.33,971.24 L1104.89,968.51 L1109.46,965.68 L1114.03,962.79 L1118.59,959.82 L1123.16,956.77 L1127.72,953.63 L1132.29,950.44 L1136.86,947.19 L1141.42,943.86 L1145.99,940.47 L1150.56,937.03 L1155.12,933.51 L1159.69,929.92 L1164.26,926.32 L1168.82,922.76 L1173.39,919.32 L1177.96,915.94 L1182.52,912.51 L1187.09,908.92 L1191.65,905.06 L1196.22,901.01 L1200.79,896.92 L1205.35,892.95 L1209.92,889.15 L1214.49,885.43 L1219.05,881.74 L1223.62,878.04 L1228.19,874.31 L1232.75,870.59 L1237.32,866.86 L1241.89,863.13 L1246.45,859.45 L1251.02,855.8 L1255.59,852.09 L1260.15,848.23 L1264.72,844.13 L1269.28,839.85 L1273.85,835.5 L1278.42,831.19 L1282.98,826.93 L1287.55,822.67 L1292.12,818.41 L1296.68,814.15 L1301.25,809.87 L1305.82,805.57 L1310.38,801.3 L1314.95,797.12 L1319.52,793.14 L1324.08,789.3 L1328.65,785.38 L1333.21,781.15 L1337.78,776.21 L1342.35,770.76 L1346.91,765.44 L1351.48,760.92 L1356.05,757.34 L1360.61,754.22 L1365.18,751.26 L1369.75,748.14 L1374.31,744.8 L1378.88,741.41 L1383.44,737.97 L1388.01,734.51 L1392.58,731.05 L1397.14,727.56 L1401.71,724.04 L1406.28,720.46 L1410.84,716.82 L1415.41,713.12 L1419.98,709.37 L1424.54,705.55 L1429.11,701.63 L1433.68,697.61 L1438.24,693.57 L1442.81,689.58 L1447.38,685.6 L1451.94,681.62 L1456.51,677.73 L1461.07,674.03 L1465.64,670.56 L1470.21,667.24 L1474.77,664.02 L1479.34,660.83 L1483.91,657.73 L1488.47,654.72 L1493.04,651.67 L1497.61,648.48 L1502.17,645.05 L1506.74,641.45 L1511.31,637.8 L1515.87,634.21 L1520.44,630.71 L1525,627.24 L1529.57,623.79 L1534.14,620.37" fill="none" stroke="#34084f" stroke-width="2.1" stroke-linejoin="round"/>
<path d="M967.9,990.9 L972.47,990.9 L977.03,990.89 L981.6,990.88 L986.17,990.86 L990.73,990.84 L995.3,990.81 L999.87,990.77 L1004.43,990.73 L1009,990.68 L1013.56,990.62 L1018.13,990.55 L1022.7,990.48 L1027.26,990.17 L1031.83,989.51 L1036.4,988.64 L1040.96,987.71 L1045.53,986.68 L1050.1,985.43 L1054.66,983.99 L1059.23,982.39 L1063.8,980.46 L1068.36,978.16 L1072.93,975.69 L1077.49,973.23 L1082.06,970.81 L1086.63,968.33 L1091.19,965.8 L1095.76,963.22 L1100.33,960.62 L1104.89,958 L1109.46,955.27 L1114.03,952.36 L1118.59,949.13 L1123.16,945.62 L1127.72,942.08 L1132.29,938.73 L1136.86,935.65 L1141.42,932.71 L1145.99,929.79 L1150.56,926.81 L1155.12,923.78 L1159.69,920.75 L1164.26,917.61 L1168.82,914.24 L1173.39,910.52 L1177.96,906.51 L1182.52,902.37 L1187.09,898.27 L1191.65,894.2 L1196.22,890.09 L1200.79,886.03 L1205.35,882.09 L1209.92,878.34 L1214.49,874.73 L1219.05,871.12 L1223.62,867.39 L1228.19,863.5 L1232.75,859.5 L1237.32,855.46 L1241.89,851.42 L1246.45,847.29 L1251.02,843.09 L1255.59,839 L1260.15,835.24 L1264.72,831.85 L1269.28,828.7 L1273.85,825.68 L1278.42,822.67 L1282.98,819.69 L1287.55,816.77 L1292.12,813.87 L1296.68,810.96 L1301.25,808.06 L1305.82,805.17 L1310.38,802.25 L1314.95,799.25 L1319.52,796.16 L1324.08,792.99 L1328.65,789.76 L1333.21,786.47 L1337.78,783.09 L1342.35,779.62 L1346.91,776.12 L1351.48,772.63 L1356.05,769.18 L1360.61,765.75 L1365.18,762.29 L1369.75,758.79 L1374.31,755.18 L1378.88,751.5 L1383.44,747.85 L1388.01,744.31 L1392.58,740.91 L1397.14,737.6 L1401.71,734.35 L1406.28,731.1 L1410.84,727.87 L1415.41,724.65 L1419.98,721.47 L1424.54,718.33 L1429.11,715.32 L1433.68,712.41 L1438.24,709.42 L1442.81,706.19 L1447.38,702.53 L1451.94,698.54 L1456.51,694.49 L1461.07,690.64 L1465.64,687.02 L1470.21,683.48 L1474.77,680.06 L1479.34,676.8 L1483.91,673.71 L1488.47,670.75 L1493.04,667.89 L1497.61,665.09 L1502.17,662.42 L1506.74,659.88 L1511.31,657.28 L1515.87,654.44 L1520.44,651.18 L1525,647.6 L1529.57,643.98 L1534.14,640.6 L1538.7,637.56 L1543.27,634.69 L1547.84,631.84 L1552.4,628.89 L1556.97,625.8 L1561.54,622.64 L1566.1,619.41 L1570.67,616.11" fill="none" stroke="#8c0000" stroke-width="2.1" stroke-linejoin="round"/>
<path d="M967.9,992.18 L972.47,992.18 L977.03,992.18 L981.6,992.17 L986.17,992.16 L990.73,992.15 L995.3,992.13 L999.87,992.12 L1004.43,992.09 L1009,992.07 L1013.56,992.04 L1018.13,992.01 L1022.7,991.97 L1027.26,991.8 L1031.83,991.45 L1036.4,990.98 L1040.96,990.48 L1045.53,989.97 L1050.1,989.39 L1054.66,988.66 L1059.23,987.71 L1063.8,986.08 L1068.36,983.64 L1072.93,980.84 L1077.49,978.13 L1082.06,975.49 L1086.63,972.72 L1091.19,970 L1095.76,967.48 L1100.33,965.34 L1104.89,963.43 L1109.46,961.41 L1114.03,958.96 L1118.59,955.72 L1123.16,951.75 L1127.72,947.4 L1132.29,942.99 L1136.86,938.55 L1141.42,933.9 L1145.99,929.06 L1150.56,924.04 L1155.12,918.78 L1159.69,913.28 L1164.26,907.62 L1168.82,901.89 L1173.39,895.9 L1177.96,889.67 L1182.52,883.58 L1187.09,878.04 L1191.65,873.23 L1196.22,868.85 L1200.79,864.54 L1205.35,859.94 L1209.92,854.8 L1214.49,849.34 L1219.05,843.91 L1223.62,838.86 L1228.19,834.32 L1232.75,830.06 L1237.32,825.88 L1241.89,821.61 L1246.45,817.22 L1251.02,812.79 L1255.59,808.31 L1260.15,803.72 L1264.72,799.05 L1269.28,794.3 L1273.85,789.42 L1278.42,784.34 L1282.98,778.98 L1287.55,773.36 L1292.12,767.65 L1296.68,761.98 L1301.25,756.31 L1305.82,750.59 L1310.38,744.97 L1314.95,739.62 L1319.52,734.62 L1324.08,729.86 L1328.65,725.18 L1333.21,720.46 L1337.78,715.68 L1342.35,710.9 L1346.91,706.11 L1351.48,701.29 L1356.05,696.44 L1360.61,691.57 L1365.18,686.67 L1369.75,681.7 L1374.31,676.55 L1378.88,671.25 L1383.44,666.07 L1388.01,661.26 L1392.58,656.87 L1397.14,652.74 L1401.71,648.76 L1406.28,644.86 L1410.84,641.06 L1415.41,637.38 L1419.98,633.72 L1424.54,629.95 L1429.11,626.06 L1433.68,622.1 L1438.24,618.08 L1442.81,613.98" fill="none" stroke="#2e2e2e" stroke-width="2.1" stroke-linejoin="round"/>
<path d="M967.9,991.33 L972.47,991.33 L977.03,991.33 L981.6,991.33 L986.17,991.33 L990.73,991.33 L995.3,991.33 L999.87,991.33 L1004.43,991.33 L1009,991.26 L1013.56,991.07 L1018.13,990.79 L1022.7,990.48 L1027.26,990.04 L1031.83,989.41 L1036.4,988.62 L1040.96,987.71 L1045.53,986.59 L1050.1,985.15 L1054.66,983.4 L1059.23,981.32 L1063.8,978.56 L1068.36,974.94 L1072.93,970.79 L1077.49,966.41 L1082.06,961.62 L1086.63,956.24 L1091.19,950.62 L1095.76,945.12 L1100.33,939.82 L1104.89,934.54 L1109.46,929.22 L1114.03,923.82 L1118.59,918.4 L1123.16,912.96 L1127.72,907.35 L1132.29,901.46 L1136.86,895.25 L1141.42,888.75 L1145.99,881.95 L1150.56,874.85 L1155.12,867.16 L1159.69,858.95 L1164.26,850.7 L1168.82,842.9 L1173.39,835.73 L1177.96,828.88 L1182.52,822.12 L1187.09,815.22 L1191.65,808.11 L1196.22,800.91 L1200.79,793.68 L1205.35,786.47 L1209.92,779.31 L1214.49,772.16 L1219.05,764.98 L1223.62,757.72 L1228.19,750.29 L1232.75,742.75 L1237.32,735.23 L1241.89,727.91 L1246.45,720.85 L1251.02,713.94 L1255.59,707.1 L1260.15,700.23 L1264.72,693.33 L1269.28,686.45 L1273.85,679.54 L1278.42,672.54 L1282.98,665.35 L1287.55,658.03 L1292.12,650.77 L1296.68,643.79 L1301.25,637.24 L1305.82,630.96 L1310.38,624.7 L1314.95,618.24 L1319.52,611.53 L1324.08,604.67 L1328.65,597.68 L1333.21,590.56" fill="none" stroke="#3a0000" stroke-width="2.1" stroke-linejoin="round"/>
<path d="M967.9,993.46 L972.47,993.46 L977.03,993.46 L981.6,993.46 L986.17,993.46 L990.73,993.46 L995.3,993.46 L999.87,993.46 L1004.43,993.46 L1009,993.46 L1013.56,993.46 L1018.13,993.46 L1022.7,993.46 L1027.26,993.41 L1031.83,993.3 L1036.4,993.16 L1040.96,993.03 L1045.53,992.94 L1050.1,992.87 L1054.66,992.77 L1059.23,992.61 L1063.8,991.87 L1068.36,990.3 L1072.93,988.29 L1077.49,986.22 L1082.06,984 L1086.63,981.43 L1091.19,978.69 L1095.76,976 L1100.33,973.38 L1104.89,970.74 L1109.46,968.07 L1114.03,965.35 L1118.59,962.59 L1123.16,959.8 L1127.72,956.96 L1132.29,954.06 L1136.86,951.11 L1141.42,948.09 L1145.99,945.02 L1150.56,941.93 L1155.12,938.78 L1159.69,935.58 L1164.26,932.36 L1168.82,929.15 L1173.39,925.98 L1177.96,922.82 L1182.52,919.64 L1187.09,916.37 L1191.65,912.99 L1196.22,909.52 L1200.79,906.02 L1205.35,902.53 L1209.92,899.09 L1214.49,895.67 L1219.05,892.22 L1223.62,888.69 L1228.19,885.04 L1232.75,881.3 L1237.32,877.53 L1241.89,873.78 L1246.45,870.01 L1251.02,866.21 L1255.59,862.47 L1260.15,858.87 L1264.72,855.44 L1269.28,852.12 L1273.85,848.87 L1278.42,845.67 L1282.98,842.54 L1287.55,839.47 L1292.12,836.42 L1296.68,833.32 L1301.25,830.16 L1305.82,826.96 L1310.38,823.75 L1314.95,820.54 L1319.52,817.35 L1324.08,814.15 L1328.65,810.96 L1333.21,807.77 L1337.78,804.57 L1342.35,801.38 L1346.91,798.18 L1351.48,794.99 L1356.05,791.82 L1360.61,788.66 L1365.18,785.48 L1369.75,782.21 L1374.31,778.83 L1378.88,775.36 L1383.44,771.86 L1388.01,768.37 L1392.58,764.88 L1397.14,761.38 L1401.71,757.91 L1406.28,754.53 L1410.84,751.24 L1415.41,748.01 L1419.98,744.84 L1424.54,741.75 L1429.11,738.73 L1433.68,735.76 L1438.24,732.87 L1442.81,730.04 L1447.38,727.31 L1451.94,724.65 L1456.51,722.03 L1461.07,719.39 L1465.64,716.73 L1470.21,714.07 L1474.77,711.41 L1479.34,708.74 L1483.91,706.08 L1488.47,703.41 L1493.04,700.74 L1497.61,698.1 L1502.17,695.51 L1506.74,692.95 L1511.31,690.36 L1515.87,687.66 L1520.44,684.79 L1525,681.79 L1529.57,678.74 L1534.14,675.74 L1538.7,672.79 L1543.27,669.87 L1547.84,666.95 L1552.4,664.03 L1556.97,661.12 L1561.54,658.23 L1566.1,655.31 L1570.67,652.31 L1575.24,649.21 L1579.8,646.03 L1584.37,642.8 L1588.93,639.54 L1593.5,636.24 L1598.07,632.91 L1602.63,629.53 L1607.2,626.12" fill="none" stroke="#a31ee6" stroke-width="2.1" stroke-linejoin="round"/>
<path d="M967.9,990.48 L972.47,990.48 L977.03,990.48 L981.6,990.48 L986.17,990.48 L990.73,990.48 L995.3,990.48 L999.87,990.48 L1004.43,990.48 L1009,990.43 L1013.56,990.29 L1018.13,990.09 L1022.7,989.84 L1027.26,989.43 L1031.83,988.74 L1036.4,987.8 L1040.96,986.64 L1045.53,984.73 L1050.1,981.78 L1054.66,978.24 L1059.23,974.51 L1063.8,970.42 L1068.36,965.73 L1072.93,960.74 L1077.49,955.77 L1082.06,950.83 L1086.63,945.77 L1091.19,940.66 L1095.76,935.54 L1100.33,930.48 L1104.89,925.45 L1109.46,920.3 L1114.03,914.88 L1118.59,909.15 L1123.16,903.17 L1127.72,896.92 L1132.29,890.39 L1136.86,883.53 L1141.42,876.31 L1145.99,868.79 L1150.56,861 L1155.12,852.74 L1159.69,844.03 L1164.26,835.23 L1168.82,826.72 L1173.39,818.6 L1177.96,810.67 L1182.52,802.83 L1187.09,794.99 L1191.65,787.06 L1196.22,779.12 L1200.79,771.28 L1205.35,763.69 L1209.92,756.43 L1214.49,749.4 L1219.05,742.44 L1223.62,735.36 L1228.19,728.14 L1232.75,720.84 L1237.32,713.52 L1241.89,706.19 L1246.45,698.84 L1251.02,691.47 L1255.59,684.11 L1260.15,676.8 L1264.72,669.55 L1269.28,662.32 L1273.85,655.15 L1278.42,648.05 L1282.98,641.01 L1287.55,634.01 L1292.12,627.11 L1296.68,620.37 L1301.25,613.79 L1305.82,607.33 L1310.38,601.01 L1314.95,594.82" fill="none" stroke="#000000" stroke-width="2.1" stroke-linejoin="round"/>
</g>
<line x1="986.17" y1="997.3" x2="986.17" y2="1006.66" stroke="#0000ff" stroke-width="2"/>
<line x1="981.92" y1="997.3" x2="990.42" y2="997.3" stroke="#0000ff" stroke-width="2"/>
<line x1="981.92" y1="1006.66" x2="990.42" y2="1006.66" stroke="#0000ff" stroke-width="2"/>
<line x1="986.17" y1="995.36" x2="986.17" y2="997.91" stroke="#34084f" stroke-width="2"/>
<line x1="981.92" y1="995.36" x2="990.42" y2="995.36" stroke="#34084f" stroke-width="2"/>
<line x1="981.92" y1="997.91" x2="990.42" y2="997.91" stroke="#34084f" stroke-width="2"/>
<line x1="1022.7" y1="980.27" x2="1022.7" y2="1005.79" stroke="#ff0000" stroke-width="2"/>
<line x1="1018.45" y1="980.27" x2="1026.95" y2="980.27" stroke="#ff0000" stroke-width="2"/>
<line x1="1018.45" y1="1005.79" x2="1026.95" y2="1005.79" stroke="#ff0000" stroke-width="2"/>
<line x1="1040.96" y1="982.4" x2="1040.96" y2="998.56" stroke="#2e2e2e" stroke-width="2"/>
<line x1="1036.71" y1="982.4" x2="1045.21" y2="982.4" stroke="#2e2e2e" stroke-width="2"/>
<line x1="1036.71" y1="998.56" x2="1045.21" y2="998.56" stroke="#2e2e2e" stroke-width="2"/>
<line x1="1095.76" y1="932.35" x2="1095.76" y2="938.73" stroke="#000000" stroke-width="2"/>
<line x1="1091.51" y1="932.35" x2="1100.01" y2="932.35" stroke="#000000" stroke-width="2"/>
<line x1="1091.51" y1="938.73" x2="1100.01" y2="938.73" stroke="#000000" stroke-width="2"/>
<line x1="1095.76" y1="954.29" x2="1095.76" y2="980.67" stroke="#2e2e2e" stroke-width="2"/>
<line x1="1091.51" y1="954.29" x2="1100.01" y2="954.29" stroke="#2e2e2e" stroke-width="2"/>
<line x1="1091.51" y1="980.67" x2="1100.01" y2="980.67" stroke="#2e2e2e" stroke-width="2"/>
<line x1="1114.03" y1="958.33" x2="1114.03" y2="970.24" stroke="#6a0fb5" stroke-width="2"/>
<line x1="1109.78" y1="958.33" x2="1118.28" y2="958.33" stroke="#6a0fb5" stroke-width="2"/>
<line x1="1109.78" y1="970.24" x2="1118.28" y2="970.24" stroke="#6a0fb5" stroke-width="2"/>
<line x1="1132.29" y1="946.62" x2="1132.29" y2="961.51" stroke="#a31ee6" stroke-width="2"/>
<line x1="1128.04" y1="946.62" x2="1136.54" y2="946.62" stroke="#a31ee6" stroke-width="2"/>
<line x1="1128.04" y1="961.51" x2="1136.54" y2="961.51" stroke="#a31ee6" stroke-width="2"/>
<line x1="1132.29" y1="866.79" x2="1132.29" y2="936.13" stroke="#3a0000" stroke-width="2"/>
<line x1="1124.29" y1="866.79" x2="1140.29" y2="866.79" stroke="#3a0000" stroke-width="2"/>
<line x1="1124.29" y1="936.13" x2="1140.29" y2="936.13" stroke="#3a0000" stroke-width="2"/>
<line x1="1150.56" y1="907.45" x2="1150.56" y2="940.63" stroke="#2e2e2e" stroke-width="2"/>
<line x1="1146.31" y1="907.45" x2="1154.81" y2="907.45" stroke="#2e2e2e" stroke-width="2"/>
<line x1="1146.31" y1="940.63" x2="1154.81" y2="940.63" stroke="#2e2e2e" stroke-width="2"/>
<line x1="1168.82" y1="905.11" x2="1168.82" y2="944.67" stroke="#0000ff" stroke-width="2"/>
<line x1="1164.57" y1="905.11" x2="1173.07" y2="905.11" stroke="#0000ff" stroke-width="2"/>
<line x1="1164.57" y1="944.67" x2="1173.07" y2="944.67" stroke="#0000ff" stroke-width="2"/>
<line x1="1168.82" y1="810.34" x2="1168.82" y2="843.1" stroke="#000000" stroke-width="2"/>
<line x1="1164.57" y1="810.34" x2="1173.07" y2="810.34" stroke="#000000" stroke-width="2"/>
<line x1="1164.57" y1="843.1" x2="1173.07" y2="843.1" stroke="#000000" stroke-width="2"/>
<line x1="1187.09" y1="896.79" x2="1187.09" y2="921.04" stroke="#34084f" stroke-width="2"/>
<line x1="1182.84" y1="896.79" x2="1191.34" y2="896.79" stroke="#34084f" stroke-width="2"/>
<line x1="1182.84" y1="921.04" x2="1191.34" y2="921.04" stroke="#34084f" stroke-width="2"/>
<line x1="1205.35" y1="892.32" x2="1205.35" y2="919.12" stroke="#ff0000" stroke-width="2"/>
<line x1="1201.1" y1="892.32" x2="1209.6" y2="892.32" stroke="#ff0000" stroke-width="2"/>
<line x1="1201.1" y1="919.12" x2="1209.6" y2="919.12" stroke="#ff0000" stroke-width="2"/>
<line x1="1205.35" y1="743.93" x2="1205.35" y2="829.01" stroke="#3a0000" stroke-width="2"/>
<line x1="1197.35" y1="743.93" x2="1213.35" y2="743.93" stroke="#3a0000" stroke-width="2"/>
<line x1="1197.35" y1="829.01" x2="1213.35" y2="829.01" stroke="#3a0000" stroke-width="2"/>
<line x1="1223.62" y1="817.59" x2="1223.62" y2="860.13" stroke="#2e2e2e" stroke-width="2"/>
<line x1="1219.37" y1="817.59" x2="1227.87" y2="817.59" stroke="#2e2e2e" stroke-width="2"/>
<line x1="1219.37" y1="860.13" x2="1227.87" y2="860.13" stroke="#2e2e2e" stroke-width="2"/>
<line x1="1241.89" y1="866.34" x2="1241.89" y2="883.35" stroke="#00c000" stroke-width="2"/>
<line x1="1237.64" y1="866.34" x2="1246.14" y2="866.34" stroke="#00c000" stroke-width="2"/>
<line x1="1237.64" y1="883.35" x2="1246.14" y2="883.35" stroke="#00c000" stroke-width="2"/>
<line x1="1241.89" y1="681.94" x2="1241.89" y2="730.44" stroke="#000000" stroke-width="2"/>
<line x1="1237.64" y1="681.94" x2="1246.14" y2="681.94" stroke="#000000" stroke-width="2"/>
<line x1="1237.64" y1="730.44" x2="1246.14" y2="730.44" stroke="#000000" stroke-width="2"/>
<line x1="1260.15" y1="832.49" x2="1260.15" y2="863.97" stroke="#34084f" stroke-width="2"/>
<line x1="1255.9" y1="832.49" x2="1264.4" y2="832.49" stroke="#34084f" stroke-width="2"/>
<line x1="1255.9" y1="863.97" x2="1264.4" y2="863.97" stroke="#34084f" stroke-width="2"/>
<line x1="1278.42" y1="843.54" x2="1278.42" y2="847.8" stroke="#a31ee6" stroke-width="2"/>
<line x1="1274.17" y1="843.54" x2="1282.67" y2="843.54" stroke="#a31ee6" stroke-width="2"/>
<line x1="1274.17" y1="847.8" x2="1282.67" y2="847.8" stroke="#a31ee6" stroke-width="2"/>
<line x1="1278.42" y1="628.73" x2="1278.42" y2="716.36" stroke="#3a0000" stroke-width="2"/>
<line x1="1270.42" y1="628.73" x2="1286.42" y2="628.73" stroke="#3a0000" stroke-width="2"/>
<line x1="1270.42" y1="716.36" x2="1286.42" y2="716.36" stroke="#3a0000" stroke-width="2"/>
<line x1="1296.68" y1="729.44" x2="1296.68" y2="794.53" stroke="#2e2e2e" stroke-width="2"/>
<line x1="1292.43" y1="729.44" x2="1300.93" y2="729.44" stroke="#2e2e2e" stroke-width="2"/>
<line x1="1292.43" y1="794.53" x2="1300.93" y2="794.53" stroke="#2e2e2e" stroke-width="2"/>
<line x1="1314.95" y1="800.12" x2="1314.95" y2="836.71" stroke="#6a0fb5" stroke-width="2"/>
<line x1="1310.7" y1="800.12" x2="1319.2" y2="800.12" stroke="#6a0fb5" stroke-width="2"/>
<line x1="1310.7" y1="836.71" x2="1319.2" y2="836.71" stroke="#6a0fb5" stroke-width="2"/>
<line x1="1333.21" y1="762.43" x2="1333.21" y2="799.87" stroke="#34084f" stroke-width="2"/>
<line x1="1328.96" y1="762.43" x2="1337.46" y2="762.43" stroke="#34084f" stroke-width="2"/>
<line x1="1328.96" y1="799.87" x2="1337.46" y2="799.87" stroke="#34084f" stroke-width="2"/>
<line x1="1351.48" y1="765.21" x2="1351.48" y2="817.11" stroke="#0000ff" stroke-width="2"/>
<line x1="1347.23" y1="765.21" x2="1355.73" y2="765.21" stroke="#0000ff" stroke-width="2"/>
<line x1="1347.23" y1="817.11" x2="1355.73" y2="817.11" stroke="#0000ff" stroke-width="2"/>
<line x1="1369.75" y1="654.69" x2="1369.75" y2="708.71" stroke="#2e2e2e" stroke-width="2"/>
<line x1="1365.5" y1="654.69" x2="1374" y2="654.69" stroke="#2e2e2e" stroke-width="2"/>
<line x1="1365.5" y1="708.71" x2="1374" y2="708.71" stroke="#2e2e2e" stroke-width="2"/>
<line x1="1388.01" y1="758.81" x2="1388.01" y2="796.25" stroke="#ff0000" stroke-width="2"/>
<line x1="1383.76" y1="758.81" x2="1392.26" y2="758.81" stroke="#ff0000" stroke-width="2"/>
<line x1="1383.76" y1="796.25" x2="1392.26" y2="796.25" stroke="#ff0000" stroke-width="2"/>
<line x1="1406.28" y1="701.31" x2="1406.28" y2="739.6" stroke="#34084f" stroke-width="2"/>
<line x1="1402.03" y1="701.31" x2="1410.53" y2="701.31" stroke="#34084f" stroke-width="2"/>
<line x1="1402.03" y1="739.6" x2="1410.53" y2="739.6" stroke="#34084f" stroke-width="2"/>
<line x1="1424.54" y1="733.04" x2="1424.54" y2="759.41" stroke="#00c000" stroke-width="2"/>
<line x1="1420.29" y1="733.04" x2="1428.79" y2="733.04" stroke="#00c000" stroke-width="2"/>
<line x1="1420.29" y1="759.41" x2="1428.79" y2="759.41" stroke="#00c000" stroke-width="2"/>
<line x1="1461.07" y1="716.2" x2="1461.07" y2="722.58" stroke="#a31ee6" stroke-width="2"/>
<line x1="1456.82" y1="716.2" x2="1465.32" y2="716.2" stroke="#a31ee6" stroke-width="2"/>
<line x1="1456.82" y1="722.58" x2="1465.32" y2="722.58" stroke="#a31ee6" stroke-width="2"/>
<line x1="1479.34" y1="639.56" x2="1479.34" y2="682.1" stroke="#34084f" stroke-width="2"/>
<line x1="1475.09" y1="639.56" x2="1483.59" y2="639.56" stroke="#34084f" stroke-width="2"/>
<line x1="1475.09" y1="682.1" x2="1483.59" y2="682.1" stroke="#34084f" stroke-width="2"/>
<line x1="1497.61" y1="668.31" x2="1497.61" y2="715.11" stroke="#6a0fb5" stroke-width="2"/>
<line x1="1493.36" y1="668.31" x2="1501.86" y2="668.31" stroke="#6a0fb5" stroke-width="2"/>
<line x1="1493.36" y1="715.11" x2="1501.86" y2="715.11" stroke="#6a0fb5" stroke-width="2"/>
<line x1="1515.87" y1="680.22" x2="1515.87" y2="695.11" stroke="#a31ee6" stroke-width="2"/>
<line x1="1511.62" y1="680.22" x2="1520.12" y2="680.22" stroke="#a31ee6" stroke-width="2"/>
<line x1="1511.62" y1="695.11" x2="1520.12" y2="695.11" stroke="#a31ee6" stroke-width="2"/>
<line x1="1534.14" y1="638.08" x2="1534.14" y2="696.36" stroke="#0000ff" stroke-width="2"/>
<line x1="1529.89" y1="638.08" x2="1538.39" y2="638.08" stroke="#0000ff" stroke-width="2"/>
<line x1="1529.89" y1="696.36" x2="1538.39" y2="696.36" stroke="#0000ff" stroke-width="2"/>
<line x1="1570.67" y1="634.87" x2="1570.67" y2="671.88" stroke="#ff0000" stroke-width="2"/>
<line x1="1566.42" y1="634.87" x2="1574.92" y2="634.87" stroke="#ff0000" stroke-width="2"/>
<line x1="1566.42" y1="671.88" x2="1574.92" y2="671.88" stroke="#ff0000" stroke-width="2"/>
<line x1="1607.2" y1="622.93" x2="1607.2" y2="629.31" stroke="#a31ee6" stroke-width="2"/>
<line x1="1602.95" y1="622.93" x2="1611.45" y2="622.93" stroke="#a31ee6" stroke-width="2"/>
<line x1="1602.95" y1="629.31" x2="1611.45" y2="629.31" stroke="#a31ee6" stroke-width="2"/>
<line x1="1432.9" y1="771.7" x2="1457.6" y2="771.7" stroke="#3a3a3a" stroke-width="1.6"/>
<text transform="translate(1470.2,777.5) scale(1.097,1)" font-family='"Liberation Sans", Arial, sans-serif' font-size="17.4">RBCs 10%</text>
<line x1="1432.9" y1="800.88" x2="1457.6" y2="800.88" stroke="#5a5a5a" stroke-width="1.6"/>
<text transform="translate(1470.2,806.68) scale(1.097,1)" font-family='"Liberation Sans", Arial, sans-serif' font-size="17.4">RBCs 5%</text>
<line x1="1432.9" y1="830.06" x2="1457.6" y2="830.06" stroke="#4a2a6a" stroke-width="1.6"/>
<text transform="translate(1470.2,835.86) scale(1.097,1)" font-family='"Liberation Sans", Arial, sans-serif' font-size="17.4">RBCs 2%</text>
<line x1="1432.9" y1="859.24" x2="1457.6" y2="859.24" stroke="#7a30c0" stroke-width="1.6"/>
<text transform="translate(1470.2,865.04) scale(1.097,1)" font-family='"Liberation Sans", Arial, sans-serif' font-size="17.4">RBCs 1%</text>
<line x1="1432.9" y1="888.42" x2="1457.6" y2="888.42" stroke="#a040f0" stroke-width="1.6"/>
<text transform="translate(1470.2,894.22) scale(1.097,1)" font-family='"Liberation Sans", Arial, sans-serif' font-size="17.4">RBCs 0.53%</text>
<line x1="1432.9" y1="917.6" x2="1457.6" y2="917.6" stroke="#603030" stroke-width="1.6"/>
<text transform="translate(1470.2,923.4) scale(1.097,1)" font-family='"Liberation Sans", Arial, sans-serif' font-size="17.4">RBCs Lysed 10%</text>
<line x1="1432.9" y1="946.78" x2="1457.6" y2="946.78" stroke="#a04040" stroke-width="1.6"/>
<text transform="translate(1470.2,952.58) scale(1.097,1)" font-family='"Liberation Sans", Arial, sans-serif' font-size="17.4">RBCs Lysed 1%</text>
<line x1="1432.9" y1="975.96" x2="1457.6" y2="975.96" stroke="#ff3030" stroke-width="1.6"/>
<text transform="translate(1470.2,981.76) scale(1.097,1)" font-family='"Liberation Sans", Arial, sans-serif' font-size="17.4">RBCs Lysed 0.53%</text>
<line x1="1432.9" y1="1005.14" x2="1457.6" y2="1005.14" stroke="#20c020" stroke-width="1.6"/>
<text transform="translate(1470.2,1010.94) scale(1.097,1)" font-family='"Liberation Sans", Arial, sans-serif' font-size="17.4">SAGM</text>
<line x1="1432.9" y1="1034.32" x2="1457.6" y2="1034.32" stroke="#2020ff" stroke-width="1.6"/>
<text transform="translate(1470.2,1040.12) scale(1.097,1)" font-family='"Liberation Sans", Arial, sans-serif' font-size="17.4">Water (MilliQ)</text>
<clipPath id="clipE"><rect x="0" y="1150" width="835.3" height="561"/></clipPath>
<g clip-path="url(#clipE)">
<rect x="161.8" y="1172.3" width="4" height="438" fill="#000"/>
<rect x="151.8" y="1598.3" width="653.1" height="4" fill="#000"/>
<rect x="151.8" y="1598.3" width="10" height="4" fill="#000"/>
<rect x="151.8" y="1491.8" width="10" height="4" fill="#000"/>
<rect x="151.8" y="1385.3" width="10" height="4" fill="#000"/>
<rect x="151.8" y="1278.8" width="10" height="4" fill="#000"/>
<rect x="151.8" y="1172.3" width="10" height="4" fill="#000"/>
<rect x="161.8" y="1600.3" width="4" height="10" fill="#000"/>
<rect x="321.57" y="1600.3" width="4" height="10" fill="#000"/>
<rect x="481.35" y="1600.3" width="4" height="10" fill="#000"/>
<rect x="641.12" y="1600.3" width="4" height="10" fill="#000"/>
<rect x="706.03" y="1600.3" width="2" height="10" fill="#000"/>
<rect x="800.9" y="1600.3" width="4" height="10" fill="#000"/>
<text x="147.5" y="1610.54" font-family='"Liberation Sans", Arial, sans-serif' font-size="32" font-weight="bold" text-anchor="end">0.0</text>
<text x="147.5" y="1504.04" font-family='"Liberation Sans", Arial, sans-serif' font-size="32" font-weight="bold" text-anchor="end">0.2</text>
<text x="147.5" y="1397.54" font-family='"Liberation Sans", Arial, sans-serif' font-size="32" font-weight="bold" text-anchor="end">0.4</text>
<text x="147.5" y="1291.04" font-family='"Liberation Sans", Arial, sans-serif' font-size="32" font-weight="bold" text-anchor="end">0.6</text>
<text x="147.5" y="1184.54" font-family='"Liberation Sans", Arial, sans-serif' font-size="32" font-weight="bold" text-anchor="end">0.8</text>
<text x="163.8" y="1647.5" font-family='"Liberation Sans", Arial, sans-serif' font-size="32" font-weight="bold" text-anchor="middle">300</text>
<text x="323.57" y="1647.5" font-family='"Liberation Sans", Arial, sans-serif' font-size="32" font-weight="bold" text-anchor="middle">500</text>
<text x="483.35" y="1647.5" font-family='"Liberation Sans", Arial, sans-serif' font-size="32" font-weight="bold" text-anchor="middle">700</text>
<text x="643.12" y="1647.5" font-family='"Liberation Sans", Arial, sans-serif' font-size="32" font-weight="bold" text-anchor="middle">900</text>
<text x="802.9" y="1647.5" font-family='"Liberation Sans", Arial, sans-serif' font-size="32" font-weight="bold" text-anchor="middle">1100</text>
<text x="706.2" y="1641.2" font-family='"Liberation Sans", Arial, sans-serif' font-size="22" font-weight="bold" text-anchor="middle">980</text>
</g>
<text transform="translate(84.7,1544.2) rotate(-90)" font-family='"Liberation Sans", Arial, sans-serif' font-size="35" font-weight="bold">Absorbance  (cm<tspan font-size="21" dy="-13">-1</tspan><tspan dy="13">)</tspan></text>
<text x="340" y="1697.8" font-family='"Liberation Sans", Arial, sans-serif' font-size="35.7" font-weight="bold" text-anchor="start">Wavelength (nm)</text>
<line x1="706.95" y1="1595.6" x2="706.95" y2="1172" stroke="#000" stroke-width="4.4" stroke-linecap="round" stroke-dasharray="0 12.78"/>
<clipPath id="clipE2"><rect x="160" y="1173.5" width="660" height="430"/></clipPath>
<g clip-path="url(#clipE2)">
<path d="M163.88,1332.36 L164.52,1356.26 L165.16,1375.77 L165.8,1390.17 L166.44,1401.77 L167.08,1408.47 L167.71,1414.88 L168.35,1420.98 L168.99,1423.52 L169.63,1427.42 L170.27,1429.62 L170.91,1431.53 L171.55,1433.75 L172.19,1437.02 L172.83,1441.51 L173.47,1444.42 L174.11,1448.02 L174.74,1451.86 L175.38,1455.44 L176.02,1460.12 L176.66,1463.02 L177.3,1467.5 L177.94,1470.79 L178.58,1474.03 L179.22,1476.67 L179.86,1478.71 L180.5,1481.21 L181.14,1482.86 L181.77,1485.57 L182.41,1487.02 L183.05,1488.97 L183.69,1491.34 L184.33,1493.26 L184.97,1494.45 L185.61,1496.92 L186.25,1498.62 L186.89,1501.14 L187.53,1503.67 L188.17,1507.12 L188.8,1510.17 L189.44,1513.42 L190.08,1515.8 L190.72,1519.8 L191.36,1521.56 L192,1525.1 L192.64,1527.98 L193.28,1530.76 L193.92,1533.55 L194.56,1535.87 L195.2,1538.53 L195.83,1540.15 L196.47,1540.58 L197.11,1541.81 L197.75,1543.57 L198.39,1544.11 L199.03,1545.02 L199.67,1545.97 L200.31,1546.06 L200.95,1546.86 L201.59,1547.98 L202.23,1547.96 L202.86,1548.34 L203.5,1549.93 L204.14,1550.47 L204.78,1550.75 L205.42,1551.68 L206.06,1552.4 L206.7,1553.19 L207.34,1553.36 L207.98,1554.45 L208.62,1555.15 L209.26,1556.05 L209.9,1556.69 L210.53,1556.84 L211.17,1558.36 L211.81,1558.07 L212.45,1559.81 L213.09,1559.78 L213.73,1561.12 L214.37,1560.92 L215.01,1561.57 L215.65,1561.88 L216.29,1562.37 L216.93,1563.58 L217.56,1563.87 L218.2,1564.11 L218.84,1565.06 L219.48,1565.99 L220.12,1566.53 L220.76,1567.1 L221.4,1566.77 L222.04,1567.99 L222.68,1567.84 L223.32,1568.49 L223.96,1569.25 L224.59,1570.67 L225.23,1570.07 L225.87,1570.57 L226.51,1572.26 L227.15,1571.94 L227.79,1572.75 L228.43,1572.94 L229.07,1573.35 L229.71,1573.76 L230.35,1574.49 L230.99,1575.13 L231.62,1574.47 L232.26,1574.56 L232.9,1575.7 L233.54,1575.89 L234.18,1575.88 L234.82,1576.04 L235.46,1575.6 L236.1,1576.63 L236.74,1576.51 L237.38,1576.35 L238.02,1576.64 L238.65,1576.96 L239.29,1576.48 L239.93,1577.36 L240.57,1577.34 L241.21,1577.12 L241.85,1576.68 L242.49,1577.41 L243.13,1577.64 L243.77,1576.63 L244.41,1577.7 L245.05,1577.12 L245.68,1577.56 L246.32,1577.16 L246.96,1577.14 L247.6,1577.92 L248.24,1577.57 L248.88,1577.6 L249.52,1577.81 L250.16,1578.03 L250.8,1578.03 L251.44,1577.28 L252.08,1577.93 L252.71,1577.64 L253.35,1576.8 L253.99,1576.93 L254.63,1576.87 L255.27,1577.82 L255.91,1577.64 L256.55,1577.73 L257.19,1577.41 L257.83,1577.35 L258.47,1577.52 L259.11,1577.09 L259.74,1577.22 L260.38,1577.2 L261.02,1577.85 L261.66,1577.09 L262.3,1577.22 L262.94,1577.66 L263.58,1577.56 L264.22,1576.78 L264.86,1577.6 L265.5,1577.6 L266.14,1577.26 L266.77,1577.25 L267.41,1578.02 L268.05,1577.31 L268.69,1577.05 L269.33,1576.83 L269.97,1577.14 L270.61,1577.89 L271.25,1577.73 L271.89,1577.51 L272.53,1577.23 L273.17,1577.92 L273.81,1577.54 L274.44,1577.63 L275.08,1576.8 L275.72,1576.8 L276.36,1577.09 L277,1577.39 L277.64,1577.85 L278.28,1576.86 L278.92,1576.91 L279.56,1576.98 L280.2,1578.07 L280.84,1577.17 L281.47,1578.05 L282.11,1577.06 L282.75,1577.5 L283.39,1577.03 L284.03,1577.78 L284.67,1577.56 L285.31,1577.42 L285.95,1578.12 L286.59,1577.68 L287.23,1577.49 L287.87,1577.93 L288.5,1578.13 L289.14,1578.1 L289.78,1577.71 L290.42,1577.81 L291.06,1578.42 L291.7,1578.47 L292.34,1578.45 L292.98,1579.77 L293.62,1580.16 L294.26,1579.5 L294.9,1579.93 L295.53,1580.86 L296.17,1580.59 L296.81,1580.87 L297.45,1581.41 L298.09,1581.71 L298.73,1582.03 L299.37,1581.74 L300.01,1582.49 L300.65,1581.96 L301.29,1581.93 L301.93,1582.28 L302.56,1582.92 L303.2,1582.82 L303.84,1582.71 L304.48,1582.92 L305.12,1582.65 L305.76,1582.45 L306.4,1582.91 L307.04,1582.98 L307.68,1582.19 L308.32,1582.15 L308.96,1583.02 L309.59,1582.18 L310.23,1582.77 L310.87,1582.15 L311.51,1582.4 L312.15,1581.63 L312.79,1582.48 L313.43,1581.37 L314.07,1582 L314.71,1582.18 L315.35,1581.69 L315.99,1582.08 L316.62,1581.17 L317.26,1581.58 L317.9,1581.56 L318.54,1581.79 L319.18,1581.64 L319.82,1581.17 L320.46,1581.66 L321.1,1581.16 L321.74,1580.58 L322.38,1581.26 L323.02,1581.57 L323.65,1580.83 L324.29,1581.1 L324.93,1581.27 L325.57,1582.02 L326.21,1581.86 L326.85,1581.86 L327.49,1582.13 L328.13,1582.49 L328.77,1582.65 L329.41,1582.98 L330.05,1582.49 L330.68,1583.56 L331.32,1583.63 L331.96,1583.88 L332.6,1584.69 L333.24,1584.9 L333.88,1585.23 L334.52,1584.8 L335.16,1585.8 L335.8,1585.48 L336.44,1586.33 L337.08,1586.28 L337.72,1586.64 L338.35,1587.54 L338.99,1587.66 L339.63,1587.68 L340.27,1588.11 L340.91,1588.43 L341.55,1589.46 L342.19,1588.63 L342.83,1588.91 L343.47,1590.04 L344.11,1589.97 L344.75,1589.51 L345.38,1590.29 L346.02,1590.52 L346.66,1590.36 L347.3,1591.25 L347.94,1590.53 L348.58,1591.79 L349.22,1591.86 L349.86,1591.61 L350.5,1591.89 L351.14,1591.64 L351.78,1592.18 L352.41,1591.59 L353.05,1591.73 L353.69,1591.35 L354.33,1592.05 L354.97,1592.14 L355.61,1591.64 L356.25,1591.95 L356.89,1591.62 L357.53,1591.99 L358.17,1591.3 L358.81,1590.91 L359.44,1590.74 L360.08,1590.6 L360.72,1590.99 L361.36,1590.98 L362,1590.56 L362.64,1590.61 L363.28,1591.18 L363.92,1590.76 L364.56,1591.01 L365.2,1590.39 L365.84,1590.36 L366.47,1590.31 L367.11,1589.51 L367.75,1589.5 L368.39,1590.33 L369.03,1589.62 L369.67,1589.66 L370.31,1589.08 L370.95,1588.81 L371.59,1588.81 L372.23,1589.71 L372.87,1588.47 L373.5,1589.28 L374.14,1588.94 L374.78,1588.77 L375.42,1588.09 L376.06,1588.78 L376.7,1588.71 L377.34,1587.58 L377.98,1588.71 L378.62,1588.3 L379.26,1588.11 L379.9,1588.29 L380.53,1588.17 L381.17,1588.32 L381.81,1587.37 L382.45,1588.03 L383.09,1587.48 L383.73,1587.78 L384.37,1588.18 L385.01,1587.82 L385.65,1587.03 L386.29,1587.52 L386.93,1587.88 L387.56,1586.71 L388.2,1587.07 L388.84,1587.02 L389.48,1586.64 L390.12,1586.59 L390.76,1586.62 L391.4,1587.19 L392.04,1587.3 L392.68,1587.01 L393.32,1586.62 L393.96,1586.9 L394.59,1587.04 L395.23,1586.72 L395.87,1586.63 L396.51,1586.16 L397.15,1586.59 L397.79,1586.85 L398.43,1586.12 L399.07,1586.35 L399.71,1586.71 L400.35,1586.64 L400.99,1585.92 L401.63,1585.94 L402.26,1587.14 L402.9,1586.04 L403.54,1586.63 L404.18,1586.56 L404.82,1586.66 L405.46,1586.22 L406.1,1586.76 L406.74,1586.69 L407.38,1586.66 L408.02,1586.19 L408.66,1586.75 L409.29,1586.46 L409.93,1585.8 L410.57,1586.19 L411.21,1585.56 L411.85,1585.85 L412.49,1586.59 L413.13,1586.15 L413.77,1586.03 L414.41,1585.54 L415.05,1585.49 L415.69,1586.58 L416.32,1585.47 L416.96,1585.74 L417.6,1585.87 L418.24,1585.42 L418.88,1586.06 L419.52,1585.71 L420.16,1585.51 L420.8,1585.51 L421.44,1585.83 L422.08,1585.82 L422.72,1585.43 L423.35,1586.26 L423.99,1585.6 L424.63,1585.46 L425.27,1586.35 L425.91,1585.41 L426.55,1586.33 L427.19,1586.41 L427.83,1585.87 L428.47,1585.27 L429.11,1585.25 L429.75,1585.7 L430.38,1585.41 L431.02,1586.12 L431.66,1585.61 L432.3,1586.22 L432.94,1586.1 L433.58,1585.23 L434.22,1585.26 L434.86,1585.46 L435.5,1585.79 L436.14,1585.27 L436.78,1586.17 L437.41,1585.73 L438.05,1585.61 L438.69,1586.33 L439.33,1585.33 L439.97,1586 L440.61,1585.18 L441.25,1585.16 L441.89,1585.34 L442.53,1585.29 L443.17,1585.96 L443.81,1586.14 L444.44,1585.87 L445.08,1585.83 L445.72,1585.13 L446.36,1585.27 L447,1585.25 L447.64,1585.43 L448.28,1585.3 L448.92,1585.72 L449.56,1585.16 L450.2,1585.07 L450.84,1585.78 L451.47,1585.15 L452.11,1585.39 L452.75,1585.48 L453.39,1585.63 L454.03,1585.09 L454.67,1585.84 L455.31,1586.12 L455.95,1586.22 L456.59,1585.26 L457.23,1585.61 L457.87,1585.99 L458.5,1585.86 L459.14,1585.46 L459.78,1585.36 L460.42,1586.23 L461.06,1585.59 L461.7,1585.68 L462.34,1585.5 L462.98,1586.32 L463.62,1586.49 L464.26,1585.84 L464.9,1586.42 L465.54,1586.89 L466.17,1586.61 L466.81,1586.29 L467.45,1587.02 L468.09,1587.36 L468.73,1586.79 L469.37,1587.85 L470.01,1587.98 L470.65,1588.23 L471.29,1587.42 L471.93,1588.16 L472.57,1588.53 L473.2,1588.96 L473.84,1588.8 L474.48,1589.13 L475.12,1588.4 L475.76,1589.6 L476.4,1589.01 L477.04,1589.6 L477.68,1590.5 L478.32,1590.59 L478.96,1590.72 L479.6,1591.02 L480.23,1591.43 L480.87,1591.33 L481.51,1592.36 L482.15,1592.71 L482.79,1592.45 L483.43,1593.06 L484.07,1592.91 L484.71,1593.7 L485.35,1593.47 L485.99,1593.48 L486.63,1594.4 L487.26,1594.73 L487.9,1594.31 L488.54,1595.29 L489.18,1595.02 L489.82,1594.72 L490.46,1595.74 L491.1,1595.35 L491.74,1595.99 L492.38,1595.61 L493.02,1595.89 L493.66,1596.94 L494.29,1595.94 L494.93,1596.95 L495.57,1596.08 L496.21,1596.7 L496.85,1597.12 L497.49,1596 L498.13,1596.24 L498.77,1596.57 L499.41,1595.71 L500.05,1596.34 L500.69,1596.09 L501.32,1595.64 L501.96,1595.4 L502.6,1595.38 L503.24,1594.78 L503.88,1594.91 L504.52,1594.57 L505.16,1595.13 L505.8,1593.9 L506.44,1594.77 L507.08,1593.77 L507.72,1593.62 L508.35,1593.82 L508.99,1592.6 L509.63,1592.5 L510.27,1592.69 L510.91,1591.73 L511.55,1592.2 L512.19,1591.88 L512.83,1591.28 L513.47,1591.56 L514.11,1591.09 L514.75,1590.57 L515.38,1590.93 L516.02,1590.51 L516.66,1590.82 L517.3,1589.65 L517.94,1590.03 L518.58,1590.6 L519.22,1590.04 L519.86,1590.62 L520.5,1590.11 L521.14,1589.59 L521.78,1589.81 L522.41,1590.1 L523.05,1589.76 L523.69,1589.37 L524.33,1590.24 L524.97,1589.36 L525.61,1590.16 L526.25,1589.68 L526.89,1590.26 L527.53,1589.8 L528.17,1589.21 L528.81,1589.82 L529.45,1589.45 L530.08,1589.76 L530.72,1590.29 L531.36,1589.73 L532,1590 L532.64,1589.09 L533.28,1589.31 L533.92,1589.18 L534.56,1589.57 L535.2,1589.05 L535.84,1589.15 L536.48,1589.7 L537.11,1589.53 L537.75,1589.91 L538.39,1589.75 L539.03,1590.23 L539.67,1589.37 L540.31,1589.86 L540.95,1589.75 L541.59,1589.81 L542.23,1589.22 L542.87,1589.98 L543.51,1589.57 L544.14,1590.09 L544.78,1589.99 L545.42,1589.46 L546.06,1589.75 L546.7,1589.9 L547.34,1590.12 L547.98,1590.4 L548.62,1590.46 L549.26,1589.48 L549.9,1589.68 L550.54,1589.6 L551.17,1589.82 L551.81,1590.56 L552.45,1589.8 L553.09,1590.5 L553.73,1589.49 L554.37,1589.53 L555.01,1589.55 L555.65,1590.25 L556.29,1590.01 L556.93,1590.77 L557.57,1589.77 L558.2,1590 L558.84,1590.55 L559.48,1590.35 L560.12,1590.77 L560.76,1590.25 L561.4,1589.82 L562.04,1590.77 L562.68,1591.08 L563.32,1591.06 L563.96,1590.58 L564.6,1590.1 L565.23,1591.2 L565.87,1590.65 L566.51,1590.78 L567.15,1590.47 L567.79,1590.58 L568.43,1590.62 L569.07,1590.76 L569.71,1590.77 L570.35,1591.34 L570.99,1590.89 L571.63,1591.16 L572.26,1591.02 L572.9,1590.8 L573.54,1590.55 L574.18,1590.68 L574.82,1591.27 L575.46,1590.48 L576.1,1590.9 L576.74,1591.4 L577.38,1590.8 L578.02,1590.49 L578.66,1590.87 L579.29,1590.54 L579.93,1590.51 L580.57,1590.45 L581.21,1591.37 L581.85,1590.92 L582.49,1590.99 L583.13,1589.86 L583.77,1590.1 L584.41,1589.62 L585.05,1589.89 L585.69,1590.06 L586.32,1590.06 L586.96,1589.4 L587.6,1588.99 L588.24,1588.67 L588.88,1588.09 L589.52,1588.99 L590.16,1588.38 L590.8,1587.55 L591.44,1587.87 L592.08,1587.49 L592.72,1587.11 L593.36,1587.4 L593.99,1586.87 L594.63,1587.55 L595.27,1586.84 L595.91,1587.23 L596.55,1586.55 L597.19,1587.06 L597.83,1586.55 L598.47,1586.33 L599.11,1586.25 L599.75,1586.96 L600.39,1585.95 L601.02,1587.17 L601.66,1586.61 L602.3,1586.67 L602.94,1585.83 L603.58,1586.28 L604.22,1586.01 L604.86,1586.46 L605.5,1586.64 L606.14,1586.8 L606.78,1586.62 L607.42,1586.3 L608.05,1585.75 L608.69,1586.04 L609.33,1585.67 L609.97,1585.76 L610.61,1586 L611.25,1585.74 L611.89,1585.64 L612.53,1585.97 L613.17,1585.45 L613.81,1584.81 L614.45,1585.1 L615.08,1584.7 L615.72,1584.38 L616.36,1585.33 L617,1584.18 L617.64,1584.17 L618.28,1583.12 L618.92,1583.09 L619.56,1583.01 L620.2,1582.97 L620.84,1582.73 L621.48,1581.54 L622.11,1580.87 L622.75,1581.25 L623.39,1581.16 L624.03,1581.35 L624.67,1580.61 L625.31,1581.67 L625.95,1581.42 L626.59,1581.72 L627.23,1582.23 L627.87,1581.59 L628.51,1582.25 L629.14,1582.33 L629.78,1581.97 L630.42,1582.06 L631.06,1582.64 L631.7,1582.88 L632.34,1582.31 L632.98,1582.58 L633.62,1582.36 L634.26,1582.01 L634.9,1582.24 L635.54,1582.95 L636.17,1582.55 L636.81,1581.97 L637.45,1582.69 L638.09,1581.95 L638.73,1582.14 L639.37,1582.43 L640.01,1581.77 L640.65,1582.48 L641.29,1582.16 L641.93,1582.08 L642.57,1581.95 L643.2,1581.77 L643.84,1581.63 L644.48,1580.62 L645.12,1581.24 L645.76,1581.13 L646.4,1580.46 L647.04,1580.65 L647.68,1580.44 L648.32,1579.84 L648.96,1580.56 L649.6,1579.89 L650.23,1580.33 L650.87,1579.87 L651.51,1579.69 L652.15,1579.27 L652.79,1579.03 L653.43,1578.72 L654.07,1577.49 L654.71,1577.64 L655.35,1577.49 L655.99,1576.86 L656.63,1575.9 L657.27,1575.62 L657.9,1575.54 L658.54,1575.42 L659.18,1574.94 L659.82,1574.41 L660.46,1572.6 L661.1,1572.86 L661.74,1571.42 L662.38,1570.39 L663.02,1570.15 L663.66,1569.06 L664.3,1568.34 L664.93,1567.4 L665.57,1566.84 L666.21,1566.42 L666.85,1565.69 L667.49,1564.52 L668.13,1563.86 L668.77,1562.13 L669.41,1562.26 L670.05,1561.13 L670.69,1559.85 L671.33,1558.62 L671.96,1557.51 L672.6,1556.08 L673.24,1555.63 L673.88,1553.81 L674.52,1553.22 L675.16,1551.97 L675.8,1549.94 L676.44,1549.46 L677.08,1547 L677.72,1545.8 L678.36,1544.36 L678.99,1543.01 L679.63,1540.74 L680.27,1538.67 L680.91,1536.9 L681.55,1534.65 L682.19,1532.73 L682.83,1530.58 L683.47,1527.88 L684.11,1525.27 L684.75,1521.99 L685.39,1518.56 L686.02,1515.6 L686.66,1513.09 L687.3,1508.97 L687.94,1504.84 L688.58,1501.56 L689.22,1498.42 L689.86,1496.9 L690.5,1494.5 L691.14,1492.6 L691.78,1492.75 L692.42,1490.77 L693.05,1491.15 L693.69,1490.35 L694.33,1489.03 L694.97,1488.33 L695.61,1489.54 L696.25,1489.27 L696.89,1488.23 L697.53,1488.06 L698.17,1487.35 L698.81,1487.22 L699.45,1487.31 L700.08,1487.28 L700.72,1486.99 L701.36,1486.88 L702,1487 L702.64,1487.91 L703.28,1487.44 L703.92,1487.95 L704.56,1487.76 L705.2,1487.45 L705.84,1488.02 L706.48,1488.09 L707.11,1489.24 L707.75,1489.15 L708.39,1490.14 L709.03,1490.61 L709.67,1489.77 L710.31,1490.9 L710.95,1490.1 L711.59,1491.39 L712.23,1492.07 L712.87,1491.25 L713.51,1492.99 L714.14,1492.49 L714.78,1494.38 L715.42,1494.67 L716.06,1494.81 L716.7,1495.69 L717.34,1496.84 L717.98,1497.46 L718.62,1498.63 L719.26,1499.62 L719.9,1501.21 L720.54,1501.95 L721.18,1502.48 L721.81,1504.72 L722.45,1504.79 L723.09,1506.32 L723.73,1507.05 L724.37,1508.85 L725.01,1509.05 L725.65,1509.81 L726.29,1511.46 L726.93,1511.79 L727.57,1513.54 L728.21,1515.08 L728.84,1515.64 L729.48,1516.51 L730.12,1517.78 L730.76,1519.95 L731.4,1520.69 L732.04,1520.89 L732.68,1521.96 L733.32,1524.31 L733.96,1525.17 L734.6,1525.92 L735.24,1527.2 L735.87,1527.56 L736.51,1528.24 L737.15,1530.55 L737.79,1530.24 L738.43,1532.51 L739.07,1532.36 L739.71,1533.94 L740.35,1534.84 L740.99,1535.93 L741.63,1536.79 L742.27,1536.93 L742.9,1538.7 L743.54,1539.01 L744.18,1539.78 L744.82,1541.28 L745.46,1541.8 L746.1,1543.28 L746.74,1542.99 L747.38,1544.36 L748.02,1545.01 L748.66,1546.48 L749.3,1546.22 L749.93,1547.1 L750.57,1547.36 L751.21,1548.67 L751.85,1548.61 L752.49,1549.33 L753.13,1550.64 L753.77,1551.75 L754.41,1551.65 L755.05,1552.58 L755.69,1553.64 L756.33,1553.97 L756.96,1554.13 L757.6,1555.58 L758.24,1556.71 L758.88,1556.67 L759.52,1557.39 L760.16,1558.76 L760.8,1557.71 L761.44,1560.08 L762.08,1559.79 L762.72,1559.76 L763.36,1559.7 L763.99,1561.02 L764.63,1561.05 L765.27,1563.05 L765.91,1563.62 L766.55,1563.44 L767.19,1561.64 L767.83,1564.1 L768.47,1564.78 L769.11,1563.71 L769.75,1565.47 L770.39,1565.44 L771.02,1564.2 L771.66,1566.69 L772.3,1564.84 L772.94,1566.35 L773.58,1566.4 L774.22,1566.01 L774.86,1566.77 L775.5,1563.87 L776.14,1565.84 L776.78,1566.48 L777.42,1565.25 L778.05,1566.92 L778.69,1566.4 L779.33,1564.34 L779.97,1566.56 L780.61,1567.13 L781.25,1566.88 L781.89,1564.49 L782.53,1566.84 L783.17,1564.15 L783.81,1564.95 L784.45,1565.1 L785.09,1566.65 L785.72,1562.73 L786.36,1564.76 L787,1562.16 L787.64,1561.98 L788.28,1562.09 L788.92,1561.51 L789.56,1560.76 L790.2,1563 L790.84,1561.3 L791.48,1563.72 L792.12,1560 L792.75,1563.44 L793.39,1559.36 L794.03,1563.32 L794.67,1558.64 L795.31,1558.68 L795.95,1561.49 L796.59,1560.93 L797.23,1557.09 L797.87,1558.38 L798.51,1557.76 L799.15,1557.98 L799.78,1555.86 L800.42,1559.06 L801.06,1553.69 L801.7,1553.81 L802.34,1556.54" fill="none" stroke="#0000ff" stroke-width="2.1" stroke-linejoin="round"/>
<path d="M165.8,855.21 L166.44,996.37 L167.08,1107.55 L167.71,1174.01 L168.35,1205.34 L168.99,1226.14 L169.63,1246.14 L170.27,1262.89 L170.91,1278.37 L171.55,1295.59 L172.19,1316.11 L172.83,1338.79 L173.47,1356.99 L174.11,1373.51 L174.74,1389.16 L175.38,1400.98 L176.02,1412.11 L176.66,1421.19 L177.3,1429.28 L177.94,1437.26 L178.58,1443.99 L179.22,1451.44 L179.86,1459.96 L180.5,1468.07 L181.14,1475.7 L181.77,1481.52 L182.41,1484.6 L183.05,1487.81 L183.69,1491.09 L184.33,1492.93 L184.97,1495.36 L185.61,1496.84 L186.25,1499.01 L186.89,1501.35 L187.53,1504.01 L188.17,1506.42 L188.8,1509.49 L189.44,1513.5 L190.08,1516.76 L190.72,1519.01 L191.36,1522.71 L192,1525.17 L192.64,1528.43 L193.28,1530.94 L193.92,1533.94 L194.56,1536.09 L195.2,1537.56 L195.83,1539.1 L196.47,1540.51 L197.11,1541.9 L197.75,1542.82 L198.39,1544.03 L199.03,1545.08 L199.67,1545.48 L200.31,1545.8 L200.95,1547.32 L201.59,1548.02 L202.23,1547.71 L202.86,1548.98 L203.5,1549.18 L204.14,1549.88 L204.78,1550.38 L205.42,1551.8 L206.06,1552.59 L206.7,1552.75 L207.34,1553.53 L207.98,1554.39 L208.62,1554.89 L209.26,1555.8 L209.9,1556.08 L210.53,1557.55 L211.17,1557.69 L211.81,1558.06 L212.45,1559.48 L213.09,1559.76 L213.73,1560.69 L214.37,1561.18 L215.01,1562.29 L215.65,1562.96 L216.29,1562.6 L216.93,1563.58 L217.56,1563.93 L218.2,1564.35 L218.84,1565.32 L219.48,1565.93 L220.12,1566.72 L220.76,1566.45 L221.4,1566.92 L222.04,1567.57 L222.68,1567.93 L223.32,1568.76 L223.96,1569.24 L224.59,1570.43 L225.23,1570.24 L225.87,1571.32 L226.51,1571.7 L227.15,1572.36 L227.79,1572.52 L228.43,1572.86 L229.07,1573.4 L229.71,1574.12 L230.35,1574.61 L230.99,1574.14 L231.62,1575.11 L232.26,1575.17 L232.9,1575.83 L233.54,1575.78 L234.18,1576.25 L234.82,1576.11 L235.46,1575.82 L236.1,1575.65 L236.74,1576.24 L237.38,1576.83 L238.02,1576.45 L238.65,1576.59 L239.29,1576.41 L239.93,1576.85 L240.57,1576.42 L241.21,1577.11 L241.85,1577.32 L242.49,1577.07 L243.13,1576.6 L243.77,1576.9 L244.41,1577.23 L245.05,1577.26 L245.68,1577.1 L246.32,1577.39 L246.96,1577.28 L247.6,1576.76 L248.24,1576.83 L248.88,1576.96 L249.52,1577.88 L250.16,1577.33 L250.8,1577.57 L251.44,1576.88 L252.08,1577.64 L252.71,1576.85 L253.35,1577.74 L253.99,1577.5 L254.63,1576.81 L255.27,1577.28 L255.91,1576.85 L256.55,1577.35 L257.19,1577.75 L257.83,1577.13 L258.47,1577.37 L259.11,1577.4 L259.74,1577.87 L260.38,1577.86 L261.02,1576.85 L261.66,1576.82 L262.3,1576.81 L262.94,1577.58 L263.58,1577.98 L264.22,1577.33 L264.86,1577.1 L265.5,1577.21 L266.14,1577.97 L266.77,1577.74 L267.41,1577.14 L268.05,1577.97 L268.69,1576.96 L269.33,1576.78 L269.97,1577.72 L270.61,1577.97 L271.25,1576.79 L271.89,1577.06 L272.53,1577.46 L273.17,1577.43 L273.81,1576.87 L274.44,1577.59 L275.08,1577.97 L275.72,1577.26 L276.36,1577.64 L277,1577.18 L277.64,1576.85 L278.28,1577.61 L278.92,1577.77 L279.56,1578.04 L280.2,1577.07 L280.84,1578.06 L281.47,1576.97 L282.11,1577.32 L282.75,1577.09 L283.39,1577.25 L284.03,1578.08 L284.67,1578.14 L285.31,1577.18 L285.95,1578.08 L286.59,1577.49 L287.23,1578.33 L287.87,1578.21 L288.5,1577.81 L289.14,1578.46 L289.78,1577.96 L290.42,1577.96 L291.06,1578.86 L291.7,1579.1 L292.34,1579.67 L292.98,1579.41 L293.62,1580.11 L294.26,1579.72 L294.9,1579.84 L295.53,1580.26 L296.17,1580.49 L296.81,1580.75 L297.45,1580.62 L298.09,1581.35 L298.73,1581.16 L299.37,1582.03 L300.01,1582.51 L300.65,1582.59 L301.29,1582.01 L301.93,1582.87 L302.56,1582.27 L303.2,1582.18 L303.84,1582.67 L304.48,1583.18 L305.12,1582.55 L305.76,1582.84 L306.4,1582.13 L307.04,1582.97 L307.68,1582.9 L308.32,1582.53 L308.96,1582.45 L309.59,1582.77 L310.23,1582.45 L310.87,1582 L311.51,1582.17 L312.15,1582.61 L312.79,1582.07 L313.43,1581.99 L314.07,1581.86 L314.71,1582.32 L315.35,1581.92 L315.99,1580.98 L316.62,1580.99 L317.26,1580.85 L317.9,1581.02 L318.54,1581.37 L319.18,1580.68 L319.82,1581.45 L320.46,1581.05 L321.1,1581.03 L321.74,1581.21 L322.38,1581.45 L323.02,1581.38 L323.65,1581.04 L324.29,1581.59 L324.93,1581.61 L325.57,1581.72 L326.21,1581.9 L326.85,1581.4 L327.49,1581.92 L328.13,1582.75 L328.77,1582 L329.41,1582.52 L330.05,1582.43 L330.68,1583.09 L331.32,1583.64 L331.96,1583.31 L332.6,1584.52 L333.24,1584.74 L333.88,1584.83 L334.52,1584.69 L335.16,1585.96 L335.8,1586 L336.44,1586.09 L337.08,1586.26 L337.72,1587.35 L338.35,1586.87 L338.99,1587.48 L339.63,1587.88 L340.27,1588.39 L340.91,1588.8 L341.55,1588.37 L342.19,1588.52 L342.83,1589.82 L343.47,1589.99 L344.11,1589.61 L344.75,1589.69 L345.38,1589.82 L346.02,1590.69 L346.66,1591 L347.3,1591.37 L347.94,1591.16 L348.58,1591.09 L349.22,1590.84 L349.86,1592.05 L350.5,1592.09 L351.14,1591.46 L351.78,1591.51 L352.41,1592.25 L353.05,1592.3 L353.69,1592.37 L354.33,1591.56 L354.97,1592 L355.61,1592.01 L356.25,1591.41 L356.89,1592.05 L357.53,1591.45 L358.17,1591.95 L358.81,1591.9 L359.44,1591.05 L360.08,1590.8 L360.72,1591.14 L361.36,1591.13 L362,1590.66 L362.64,1591.37 L363.28,1591.03 L363.92,1590.14 L364.56,1590 L365.2,1591.06 L365.84,1591 L366.47,1589.91 L367.11,1590.2 L367.75,1589.68 L368.39,1589.71 L369.03,1589.83 L369.67,1589.36 L370.31,1589.36 L370.95,1589.98 L371.59,1589.27 L372.23,1588.61 L372.87,1588.61 L373.5,1588.65 L374.14,1588.57 L374.78,1588.2 L375.42,1588.76 L376.06,1588.53 L376.7,1588.13 L377.34,1587.8 L377.98,1588.36 L378.62,1588.48 L379.26,1588.29 L379.9,1588.02 L380.53,1588.39 L381.17,1587.66 L381.81,1587.26 L382.45,1587.91 L383.09,1587.07 L383.73,1587.71 L384.37,1587.51 L385.01,1586.89 L385.65,1587.18 L386.29,1587.4 L386.93,1587.03 L387.56,1587.35 L388.2,1586.98 L388.84,1587.58 L389.48,1587.72 L390.12,1587.01 L390.76,1587.07 L391.4,1587.11 L392.04,1587.51 L392.68,1586.43 L393.32,1587.44 L393.96,1586.31 L394.59,1587.11 L395.23,1587.12 L395.87,1586.25 L396.51,1586.19 L397.15,1586.49 L397.79,1586.13 L398.43,1587.1 L399.07,1586.19 L399.71,1586.47 L400.35,1586.85 L400.99,1586.44 L401.63,1587.03 L402.26,1586.13 L402.9,1586.3 L403.54,1586.95 L404.18,1586.78 L404.82,1586.66 L405.46,1586.41 L406.1,1586.69 L406.74,1586.58 L407.38,1586.23 L408.02,1586.72 L408.66,1585.92 L409.29,1586.28 L409.93,1586.31 L410.57,1586.08 L411.21,1586.58 L411.85,1585.62 L412.49,1586.59 L413.13,1586.02 L413.77,1585.47 L414.41,1586.5 L415.05,1585.77 L415.69,1585.4 L416.32,1585.36 L416.96,1586.17 L417.6,1585.8 L418.24,1585.39 L418.88,1585.78 L419.52,1585.45 L420.16,1585.67 L420.8,1586.51 L421.44,1586.1 L422.08,1585.39 L422.72,1585.93 L423.35,1585.97 L423.99,1586.13 L424.63,1586.3 L425.27,1585.65 L425.91,1585.99 L426.55,1585.36 L427.19,1586.42 L427.83,1585.35 L428.47,1586.35 L429.11,1585.41 L429.75,1585.87 L430.38,1585.5 L431.02,1585.86 L431.66,1586.23 L432.3,1585.22 L432.94,1585.6 L433.58,1586.14 L434.22,1585.65 L434.86,1586.14 L435.5,1585.89 L436.14,1585.63 L436.78,1585.61 L437.41,1586.25 L438.05,1586.13 L438.69,1585.79 L439.33,1585.71 L439.97,1585.27 L440.61,1585.62 L441.25,1585.32 L441.89,1585.88 L442.53,1586.11 L443.17,1585.99 L443.81,1586.31 L444.44,1585.87 L445.08,1585.52 L445.72,1585.25 L446.36,1586.03 L447,1585.42 L447.64,1585.36 L448.28,1585.43 L448.92,1585.08 L449.56,1585.57 L450.2,1585.74 L450.84,1585.62 L451.47,1586.3 L452.11,1586.3 L452.75,1585.67 L453.39,1585.82 L454.03,1586.13 L454.67,1585.85 L455.31,1585.48 L455.95,1585.63 L456.59,1585.79 L457.23,1585.31 L457.87,1586.23 L458.5,1585.16 L459.14,1585.43 L459.78,1585.78 L460.42,1585.46 L461.06,1585.19 L461.7,1585.61 L462.34,1585.66 L462.98,1585.7 L463.62,1585.53 L464.26,1585.67 L464.9,1586.56 L465.54,1587.01 L466.17,1586.82 L466.81,1586.85 L467.45,1587.14 L468.09,1587.03 L468.73,1586.57 L469.37,1587.69 L470.01,1587.61 L470.65,1587.2 L471.29,1588.27 L471.93,1588.16 L472.57,1588.09 L473.2,1587.98 L473.84,1588.04 L474.48,1588.99 L475.12,1588.3 L475.76,1589.19 L476.4,1589.82 L477.04,1590.06 L477.68,1589.99 L478.32,1589.81 L478.96,1591.07 L479.6,1591.21 L480.23,1590.79 L480.87,1591.09 L481.51,1592.22 L482.15,1592.74 L482.79,1592.3 L483.43,1592.44 L484.07,1593.7 L484.71,1593.39 L485.35,1594.16 L485.99,1593.83 L486.63,1594.7 L487.26,1594.89 L487.9,1594.57 L488.54,1594.26 L489.18,1595.65 L489.82,1595.77 L490.46,1595.85 L491.1,1595.27 L491.74,1596.2 L492.38,1596.33 L493.02,1596.29 L493.66,1595.88 L494.29,1596.72 L494.93,1596.56 L495.57,1596.6 L496.21,1596.57 L496.85,1596.61 L497.49,1596.1 L498.13,1596.79 L498.77,1596.29 L499.41,1596.65 L500.05,1595.56 L500.69,1595.97 L501.32,1595.07 L501.96,1595.32 L502.6,1595.72 L503.24,1594.61 L503.88,1595.23 L504.52,1594.6 L505.16,1594.26 L505.8,1594.93 L506.44,1594.63 L507.08,1594.11 L507.72,1593.95 L508.35,1593.75 L508.99,1593.53 L509.63,1593.13 L510.27,1592.05 L510.91,1592.42 L511.55,1592.13 L512.19,1592.11 L512.83,1591.91 L513.47,1591.57 L514.11,1590.52 L514.75,1590.3 L515.38,1591.02 L516.02,1590.57 L516.66,1590.21 L517.3,1590.15 L517.94,1590.56 L518.58,1590.7 L519.22,1589.73 L519.86,1590.55 L520.5,1590.18 L521.14,1589.69 L521.78,1589.76 L522.41,1590.08 L523.05,1589.56 L523.69,1589.29 L524.33,1589.92 L524.97,1589.38 L525.61,1589.82 L526.25,1589.97 L526.89,1589.19 L527.53,1589.45 L528.17,1590.24 L528.81,1589.71 L529.45,1589.9 L530.08,1589.74 L530.72,1589.39 L531.36,1589.92 L532,1589.57 L532.64,1590.02 L533.28,1589.75 L533.92,1589.18 L534.56,1589.36 L535.2,1589.84 L535.84,1589.94 L536.48,1589.52 L537.11,1589.68 L537.75,1589.03 L538.39,1589.91 L539.03,1589.11 L539.67,1589.99 L540.31,1589.28 L540.95,1589.2 L541.59,1590.07 L542.23,1589.76 L542.87,1589.43 L543.51,1589.82 L544.14,1590.23 L544.78,1589.4 L545.42,1589.78 L546.06,1590.18 L546.7,1590.37 L547.34,1589.79 L547.98,1590.11 L548.62,1589.46 L549.26,1590.33 L549.9,1590.53 L550.54,1589.42 L551.17,1590.07 L551.81,1589.54 L552.45,1589.93 L553.09,1589.56 L553.73,1589.52 L554.37,1590.64 L555.01,1590.42 L555.65,1590.57 L556.29,1589.62 L556.93,1589.98 L557.57,1589.72 L558.2,1589.67 L558.84,1589.95 L559.48,1589.88 L560.12,1589.82 L560.76,1590.28 L561.4,1590.04 L562.04,1589.87 L562.68,1590.54 L563.32,1590.9 L563.96,1590.36 L564.6,1591.16 L565.23,1590.87 L565.87,1590.81 L566.51,1590.29 L567.15,1591.31 L567.79,1590.96 L568.43,1591 L569.07,1590.57 L569.71,1590.32 L570.35,1590.85 L570.99,1590.4 L571.63,1590.96 L572.26,1590.88 L572.9,1591.13 L573.54,1591.3 L574.18,1590.43 L574.82,1590.81 L575.46,1591.25 L576.1,1590.91 L576.74,1591.09 L577.38,1591.57 L578.02,1590.73 L578.66,1590.51 L579.29,1590.84 L579.93,1591.41 L580.57,1591.02 L581.21,1591.22 L581.85,1591.16 L582.49,1590.88 L583.13,1589.97 L583.77,1589.88 L584.41,1589.77 L585.05,1589.41 L585.69,1590.26 L586.32,1589.92 L586.96,1589.93 L587.6,1589.76 L588.24,1588.73 L588.88,1588.82 L589.52,1588.4 L590.16,1587.81 L590.8,1588.36 L591.44,1588.22 L592.08,1587.31 L592.72,1588.17 L593.36,1586.87 L593.99,1587.49 L594.63,1587.79 L595.27,1587.46 L595.91,1587.55 L596.55,1586.5 L597.19,1587.44 L597.83,1587.38 L598.47,1586.6 L599.11,1587.06 L599.75,1586.85 L600.39,1586.22 L601.02,1586.63 L601.66,1586.2 L602.3,1586.73 L602.94,1586.88 L603.58,1586.92 L604.22,1585.89 L604.86,1586.76 L605.5,1586.78 L606.14,1586.63 L606.78,1586.12 L607.42,1585.86 L608.05,1586.05 L608.69,1585.83 L609.33,1585.93 L609.97,1585.55 L610.61,1585.66 L611.25,1586.13 L611.89,1585.85 L612.53,1584.92 L613.17,1585.52 L613.81,1585.13 L614.45,1585.66 L615.08,1584.9 L615.72,1584.7 L616.36,1585.13 L617,1583.82 L617.64,1584.16 L618.28,1583.83 L618.92,1583.01 L619.56,1582.3 L620.2,1582.05 L620.84,1582.08 L621.48,1582.38 L622.11,1581.47 L622.75,1580.96 L623.39,1580.45 L624.03,1581.19 L624.67,1580.98 L625.31,1581 L625.95,1581.25 L626.59,1582.35 L627.23,1581.46 L627.87,1582.55 L628.51,1581.72 L629.14,1581.81 L629.78,1582.23 L630.42,1582.4 L631.06,1582.72 L631.7,1582.72 L632.34,1582.07 L632.98,1582.42 L633.62,1582.66 L634.26,1582.78 L634.9,1581.94 L635.54,1581.98 L636.17,1581.96 L636.81,1581.9 L637.45,1582.57 L638.09,1581.89 L638.73,1581.99 L639.37,1581.62 L640.01,1581.75 L640.65,1581.53 L641.29,1581.46 L641.93,1581.63 L642.57,1581.36 L643.2,1582.02 L643.84,1581.5 L644.48,1580.82 L645.12,1581.58 L645.76,1581.13 L646.4,1580.6 L647.04,1580.66 L647.68,1580.98 L648.32,1580.69 L648.96,1579.88 L649.6,1579.86 L650.23,1579.62 L650.87,1579.04 L651.51,1578.8 L652.15,1579.37 L652.79,1578.32 L653.43,1578.46 L654.07,1577.95 L654.71,1578.25 L655.35,1577.45 L655.99,1576.32 L656.63,1575.88 L657.27,1576.09 L657.9,1575.83 L658.54,1574.38 L659.18,1574.39 L659.82,1573.21 L660.46,1573.72 L661.1,1572.32 L661.74,1572.01 L662.38,1571.63 L663.02,1570.27 L663.66,1568.94 L664.3,1568.8 L664.93,1568.33 L665.57,1566.89 L666.21,1565.83 L666.85,1565.11 L667.49,1564.87 L668.13,1563.28 L668.77,1562.34 L669.41,1561.78 L670.05,1560.41 L670.69,1560.32 L671.33,1559.06 L671.96,1557.76 L672.6,1555.97 L673.24,1555.13 L673.88,1553.98 L674.52,1552.56 L675.16,1551.42 L675.8,1550.94 L676.44,1548.5 L677.08,1547.22 L677.72,1546.4 L678.36,1544.32 L678.99,1542.82 L679.63,1541.58 L680.27,1538.72 L680.91,1537.34 L681.55,1534.91 L682.19,1532.42 L682.83,1529.86 L683.47,1527.79 L684.11,1525.19 L684.75,1523.04 L685.39,1519.93 L686.02,1515.79 L686.66,1513.12 L687.3,1508.92 L687.94,1506.03 L688.58,1501.89 L689.22,1499.61 L689.86,1495.81 L690.5,1494.23 L691.14,1492.56 L691.78,1492.19 L692.42,1490.37 L693.05,1490.4 L693.69,1489.97 L694.33,1489.5 L694.97,1489.35 L695.61,1488.52 L696.25,1489.08 L696.89,1488.9 L697.53,1487.41 L698.17,1488.43 L698.81,1487.32 L699.45,1488.35 L700.08,1487.42 L700.72,1488.12 L701.36,1487.66 L702,1487.68 L702.64,1487.26 L703.28,1488.34 L703.92,1488.08 L704.56,1487.54 L705.2,1487.8 L705.84,1488.04 L706.48,1488.65 L707.11,1488.63 L707.75,1489.39 L708.39,1489.84 L709.03,1489.32 L709.67,1490.27 L710.31,1490.99 L710.95,1490.01 L711.59,1491.7 L712.23,1491.08 L712.87,1492.43 L713.51,1491.93 L714.14,1492.92 L714.78,1493.1 L715.42,1494.41 L716.06,1494.84 L716.7,1496.27 L717.34,1496.55 L717.98,1498.27 L718.62,1498.42 L719.26,1499.87 L719.9,1500.45 L720.54,1502.88 L721.18,1503.39 L721.81,1503.55 L722.45,1505.56 L723.09,1506.1 L723.73,1507.29 L724.37,1508.97 L725.01,1509.97 L725.65,1510.33 L726.29,1511.61 L726.93,1511.91 L727.57,1513.93 L728.21,1515.34 L728.84,1516.53 L729.48,1517.2 L730.12,1517.42 L730.76,1518.68 L731.4,1520.36 L732.04,1521.47 L732.68,1522.37 L733.32,1523.22 L733.96,1525.35 L734.6,1524.98 L735.24,1526.12 L735.87,1527.81 L736.51,1529.04 L737.15,1529.75 L737.79,1530.81 L738.43,1532.11 L739.07,1533.41 L739.71,1533.43 L740.35,1534.13 L740.99,1535.46 L741.63,1536.96 L742.27,1537.63 L742.9,1538.92 L743.54,1538.59 L744.18,1540.55 L744.82,1541.23 L745.46,1541.6 L746.1,1542.28 L746.74,1543.55 L747.38,1544.86 L748.02,1545.22 L748.66,1545.3 L749.3,1547 L749.93,1547.54 L750.57,1548.54 L751.21,1549.1 L751.85,1549.89 L752.49,1550.32 L753.13,1550.29 L753.77,1550.98 L754.41,1553.05 L755.05,1553.61 L755.69,1554.07 L756.33,1553.99 L756.96,1554.53 L757.6,1555.18 L758.24,1557.1 L758.88,1557.72 L759.52,1556.39 L760.16,1557.99 L760.8,1558.08 L761.44,1560.09 L762.08,1559.44 L762.72,1560.79 L763.36,1560.66 L763.99,1561.18 L764.63,1560.37 L765.27,1562.24 L765.91,1561.49 L766.55,1563.2 L767.19,1562.65 L767.83,1562.2 L768.47,1564.54 L769.11,1564.27 L769.75,1562.7 L770.39,1563.45 L771.02,1563.48 L771.66,1564.65 L772.3,1565.62 L772.94,1566.58 L773.58,1564.07 L774.22,1566.86 L774.86,1563.87 L775.5,1563.91 L776.14,1563.84 L776.78,1564.51 L777.42,1564.99 L778.05,1566.09 L778.69,1564.33 L779.33,1565.35 L779.97,1565.64 L780.61,1567.2 L781.25,1567.26 L781.89,1564.83 L782.53,1567 L783.17,1564.4 L783.81,1565.38 L784.45,1566.54 L785.09,1564.39 L785.72,1563.12 L786.36,1561.97 L787,1565.18 L787.64,1564.3 L788.28,1563.63 L788.92,1563.37 L789.56,1564.32 L790.2,1563.6 L790.84,1564.5 L791.48,1561.81 L792.12,1559.36 L792.75,1563.44 L793.39,1560.07 L794.03,1560.71 L794.67,1561.4 L795.31,1561.01 L795.95,1557.13 L796.59,1561.38 L797.23,1558.32 L797.87,1558.11 L798.51,1555.36 L799.15,1558.95 L799.78,1559.43 L800.42,1554.09 L801.06,1556.79 L801.7,1555.84 L802.34,1557.08" fill="none" stroke="#00c000" stroke-width="2.1" stroke-linejoin="round"/>
<path d="M163.88,1277.78 L164.52,1295.81 L165.16,1310.33 L165.8,1322.8 L166.44,1333 L167.08,1342.34 L167.71,1349.89 L168.35,1357.25 L168.99,1364.94 L169.63,1371.97 L170.27,1379.26 L170.91,1384.28 L171.55,1388.55 L172.19,1390.31 L172.83,1393.3 L173.47,1394.96 L174.11,1397.28 L174.74,1398.77 L175.38,1400.68 L176.02,1401.67 L176.66,1402.38 L177.3,1404.87 L177.94,1406.47 L178.58,1407.57 L179.22,1410.59 L179.86,1412.46 L180.5,1413.65 L181.14,1415.26 L181.77,1418.3 L182.41,1419.29 L183.05,1421.14 L183.69,1424.02 L184.33,1425.2 L184.97,1427.32 L185.61,1429.29 L186.25,1430.63 L186.89,1433.8 L187.53,1435.42 L188.17,1436.75 L188.8,1439.14 L189.44,1441.07 L190.08,1442.44 L190.72,1444.13 L191.36,1446.97 L192,1448.65 L192.64,1450.79 L193.28,1452.38 L193.92,1453.67 L194.56,1454.81 L195.2,1456.85 L195.83,1457.08 L196.47,1458.18 L197.11,1459.55 L197.75,1460.39 L198.39,1460.95 L199.03,1461.79 L199.67,1461.52 L200.31,1462.58 L200.95,1463.92 L201.59,1464.34 L202.23,1465.26 L202.86,1466.87 L203.5,1466.93 L204.14,1468.56 L204.78,1470.01 L205.42,1471.11 L206.06,1471.91 L206.7,1472.85 L207.34,1473.75 L207.98,1475.17 L208.62,1477.02 L209.26,1478.98 L209.9,1479.45 L210.53,1481.67 L211.17,1483.35 L211.81,1483.99 L212.45,1486.32 L213.09,1487.5 L213.73,1488.39 L214.37,1489.79 L215.01,1490.59 L215.65,1492.46 L216.29,1493.96 L216.93,1494.07 L217.56,1495.5 L218.2,1496.2 L218.84,1496.5 L219.48,1497.2 L220.12,1496.89 L220.76,1498.3 L221.4,1497.59 L222.04,1497.83 L222.68,1498.42 L223.32,1498.21 L223.96,1496.77 L224.59,1497.36 L225.23,1497.06 L225.87,1496.16 L226.51,1494.63 L227.15,1493.41 L227.79,1491.69 L228.43,1489.68 L229.07,1488.49 L229.71,1486.13 L230.35,1482.69 L230.99,1480.67 L231.62,1477.21 L232.26,1474.95 L232.9,1471.74 L233.54,1468.46 L234.18,1463.72 L234.82,1460.01 L235.46,1454.52 L236.1,1447.8 L236.74,1440.51 L237.38,1433.37 L238.02,1425.77 L238.65,1418.29 L239.29,1411.35 L239.93,1405.16 L240.57,1397.57 L241.21,1389.68 L241.85,1382.08 L242.49,1373.41 L243.13,1363.35 L243.77,1350.54 L244.41,1338.48 L245.05,1327.92 L245.68,1317.54 L246.32,1307.13 L246.96,1298.3 L247.6,1289.49 L248.24,1280.49 L248.88,1270.81 L249.52,1259.39 L250.16,1248.33 L250.8,1238.62 L251.44,1231.33 L252.08,1225.09 L252.71,1218.93 L253.35,1215.32 L253.99,1210.34 L254.63,1206.47 L255.27,1204.82 L255.91,1203.75 L256.55,1204.76 L257.19,1206.1 L257.83,1208.4 L258.47,1214.28 L259.11,1222.68 L259.74,1232.21 L260.38,1245.27 L261.02,1257.22 L261.66,1270.94 L262.3,1284.37 L262.94,1298.65 L263.58,1312.88 L264.22,1327.41 L264.86,1342.16 L265.5,1355.27 L266.14,1366.61 L266.77,1378.88 L267.41,1390.47 L268.05,1400.76 L268.69,1411.72 L269.33,1422.75 L269.97,1433.2 L270.61,1443.29 L271.25,1450.81 L271.89,1459.25 L272.53,1466.25 L273.17,1473.48 L273.81,1480.54 L274.44,1485.31 L275.08,1492.04 L275.72,1496.46 L276.36,1501.47 L277,1505.76 L277.64,1509.68 L278.28,1512.63 L278.92,1516.46 L279.56,1519.13 L280.2,1521.46 L280.84,1524.79 L281.47,1527 L282.11,1528.59 L282.75,1529.99 L283.39,1531.32 L284.03,1533.84 L284.67,1534.86 L285.31,1536.39 L285.95,1537.7 L286.59,1538.7 L287.23,1539.14 L287.87,1541.04 L288.5,1541.01 L289.14,1541.96 L289.78,1543.02 L290.42,1544.34 L291.06,1545.31 L291.7,1545.13 L292.34,1546.98 L292.98,1547.21 L293.62,1548.11 L294.26,1549.11 L294.9,1548.83 L295.53,1550.55 L296.17,1550.68 L296.81,1551.22 L297.45,1552.24 L298.09,1553.66 L298.73,1553.56 L299.37,1555.01 L300.01,1554.77 L300.65,1556.56 L301.29,1556.51 L301.93,1557.17 L302.56,1557.94 L303.2,1558.92 L303.84,1559.34 L304.48,1559.23 L305.12,1559.4 L305.76,1559.86 L306.4,1560.47 L307.04,1561.44 L307.68,1561.08 L308.32,1561.99 L308.96,1562.31 L309.59,1561.98 L310.23,1562.36 L310.87,1563.15 L311.51,1563.53 L312.15,1563.83 L312.79,1563.54 L313.43,1563.27 L314.07,1564.08 L314.71,1563.85 L315.35,1564.47 L315.99,1564.36 L316.62,1563.93 L317.26,1564.22 L317.9,1563.79 L318.54,1563.88 L319.18,1564.58 L319.82,1564.95 L320.46,1564.19 L321.1,1563.93 L321.74,1563.98 L322.38,1565.08 L323.02,1564.94 L323.65,1564.94 L324.29,1564.86 L324.93,1564.88 L325.57,1565.27 L326.21,1565.03 L326.85,1564.48 L327.49,1565.64 L328.13,1564.97 L328.77,1566.07 L329.41,1566.24 L330.05,1565.95 L330.68,1565.43 L331.32,1566.53 L331.96,1565.73 L332.6,1567.03 L333.24,1566.11 L333.88,1566.67 L334.52,1566.49 L335.16,1567.06 L335.8,1567.46 L336.44,1566.79 L337.08,1567.48 L337.72,1566.97 L338.35,1566.43 L338.99,1565.99 L339.63,1565.84 L340.27,1565.42 L340.91,1563.9 L341.55,1564.06 L342.19,1562.25 L342.83,1561.93 L343.47,1561.85 L344.11,1560.38 L344.75,1559.56 L345.38,1559.06 L346.02,1557.69 L346.66,1557.63 L347.3,1556.51 L347.94,1555.34 L348.58,1554.94 L349.22,1554.03 L349.86,1552.94 L350.5,1552.62 L351.14,1551.69 L351.78,1551.23 L352.41,1549.81 L353.05,1549.75 L353.69,1549.63 L354.33,1548.56 L354.97,1549.04 L355.61,1547.87 L356.25,1548.21 L356.89,1548.04 L357.53,1548.56 L358.17,1549.13 L358.81,1549.75 L359.44,1550.41 L360.08,1550.94 L360.72,1552.44 L361.36,1553.05 L362,1554.32 L362.64,1555.22 L363.28,1556.11 L363.92,1557.24 L364.56,1557.68 L365.2,1558.98 L365.84,1559.78 L366.47,1559.4 L367.11,1560.02 L367.75,1560.33 L368.39,1561.61 L369.03,1561.59 L369.67,1562 L370.31,1561.98 L370.95,1561.67 L371.59,1561.53 L372.23,1561.32 L372.87,1561.23 L373.5,1560.81 L374.14,1559.89 L374.78,1558.9 L375.42,1558.9 L376.06,1558.22 L376.7,1557.11 L377.34,1555.96 L377.98,1554.35 L378.62,1553.25 L379.26,1551.1 L379.9,1550.28 L380.53,1548.23 L381.17,1547 L381.81,1545.61 L382.45,1543.58 L383.09,1542.75 L383.73,1542.73 L384.37,1541.39 L385.01,1542.04 L385.65,1543.23 L386.29,1543.44 L386.93,1545.97 L387.56,1547.92 L388.2,1549.39 L388.84,1552.02 L389.48,1555.29 L390.12,1557.21 L390.76,1560.14 L391.4,1562.13 L392.04,1564.78 L392.68,1566.68 L393.32,1568.8 L393.96,1571.18 L394.59,1572.36 L395.23,1573.98 L395.87,1574.96 L396.51,1576.13 L397.15,1576.48 L397.79,1578.22 L398.43,1579.04 L399.07,1579.15 L399.71,1580.16 L400.35,1579.88 L400.99,1580.92 L401.63,1581.22 L402.26,1581.06 L402.9,1581.13 L403.54,1581.54 L404.18,1581.97 L404.82,1582.3 L405.46,1581.79 L406.1,1582.41 L406.74,1582.16 L407.38,1583.23 L408.02,1582.5 L408.66,1582.65 L409.29,1583.48 L409.93,1582.57 L410.57,1582.55 L411.21,1583.62 L411.85,1583.71 L412.49,1583.96 L413.13,1583.45 L413.77,1583.11 L414.41,1583.34 L415.05,1584.06 L415.69,1583.06 L416.32,1583.87 L416.96,1583.72 L417.6,1583.88 L418.24,1583.73 L418.88,1583.65 L419.52,1583.63 L420.16,1583.34 L420.8,1583.23 L421.44,1583.42 L422.08,1583.34 L422.72,1584.03 L423.35,1584.07 L423.99,1583.35 L424.63,1583.3 L425.27,1584.01 L425.91,1584.19 L426.55,1584.18 L427.19,1583.64 L427.83,1583.64 L428.47,1583.54 L429.11,1583.92 L429.75,1583.67 L430.38,1583.43 L431.02,1584.29 L431.66,1584.51 L432.3,1583.47 L432.94,1584.19 L433.58,1583.3 L434.22,1583.58 L434.86,1583.99 L435.5,1584.5 L436.14,1583.56 L436.78,1584.1 L437.41,1583.83 L438.05,1583.29 L438.69,1583.8 L439.33,1583.89 L439.97,1584.15 L440.61,1583.77 L441.25,1583.3 L441.89,1583.85 L442.53,1583.47 L443.17,1583.46 L443.81,1583.32 L444.44,1584.2 L445.08,1584.35 L445.72,1584.18 L446.36,1584.55 L447,1584.31 L447.64,1583.84 L448.28,1583.72 L448.92,1583.77 L449.56,1583.51 L450.2,1583.71 L450.84,1583.55 L451.47,1584.6 L452.11,1584.47 L452.75,1584.38 L453.39,1583.51 L454.03,1584.26 L454.67,1584.37 L455.31,1584.54 L455.95,1584.04 L456.59,1584.5 L457.23,1583.85 L457.87,1584.34 L458.5,1583.89 L459.14,1583.67 L459.78,1583.99 L460.42,1584.76 L461.06,1584.56 L461.7,1584.49 L462.34,1583.89 L462.98,1584.77 L463.62,1583.87 L464.26,1584.59 L464.9,1584.3 L465.54,1584.91 L466.17,1584.35 L466.81,1585.02 L467.45,1585.51 L468.09,1584.94 L468.73,1585.29 L469.37,1585.44 L470.01,1586.21 L470.65,1586.4 L471.29,1586.41 L471.93,1586.29 L472.57,1587.03 L473.2,1586.4 L473.84,1586.99 L474.48,1586.76 L475.12,1587.05 L475.76,1586.86 L476.4,1587.9 L477.04,1588.52 L477.68,1587.82 L478.32,1589.06 L478.96,1588.97 L479.6,1589.26 L480.23,1589.87 L480.87,1589.23 L481.51,1589.67 L482.15,1590.33 L482.79,1590.65 L483.43,1591.12 L484.07,1591.8 L484.71,1592.14 L485.35,1591.81 L485.99,1592.9 L486.63,1592.57 L487.26,1592.32 L487.9,1592.66 L488.54,1593.89 L489.18,1593.88 L489.82,1593.95 L490.46,1594.57 L491.1,1594.12 L491.74,1594.99 L492.38,1595.25 L493.02,1595.38 L493.66,1594.96 L494.29,1595.14 L494.93,1595.43 L495.57,1595.04 L496.21,1595.82 L496.85,1595.69 L497.49,1594.59 L498.13,1595.23 L498.77,1595.28 L499.41,1595.14 L500.05,1594.07 L500.69,1594.49 L501.32,1594.18 L501.96,1594.43 L502.6,1594.19 L503.24,1593.49 L503.88,1593.04 L504.52,1593.17 L505.16,1593.65 L505.8,1592.84 L506.44,1592.75 L507.08,1592.07 L507.72,1591.74 L508.35,1591.93 L508.99,1591.72 L509.63,1591.13 L510.27,1590.47 L510.91,1590.96 L511.55,1590.31 L512.19,1589.79 L512.83,1589.5 L513.47,1589.94 L514.11,1589.39 L514.75,1589.37 L515.38,1588.65 L516.02,1588.61 L516.66,1588.19 L517.3,1588.16 L517.94,1588.92 L518.58,1588.43 L519.22,1589.02 L519.86,1588.06 L520.5,1588.69 L521.14,1588.01 L521.78,1587.99 L522.41,1588.53 L523.05,1588.14 L523.69,1587.68 L524.33,1588.25 L524.97,1588.32 L525.61,1587.95 L526.25,1587.93 L526.89,1587.67 L527.53,1588.32 L528.17,1587.97 L528.81,1587.63 L529.45,1588.05 L530.08,1588.46 L530.72,1588.75 L531.36,1587.85 L532,1587.61 L532.64,1587.96 L533.28,1587.76 L533.92,1587.57 L534.56,1588.3 L535.2,1588.68 L535.84,1588.42 L536.48,1588.02 L537.11,1588.07 L537.75,1588.32 L538.39,1587.46 L539.03,1587.48 L539.67,1588.56 L540.31,1588.46 L540.95,1587.79 L541.59,1588.54 L542.23,1587.63 L542.87,1587.49 L543.51,1588.31 L544.14,1588.53 L544.78,1588.18 L545.42,1587.64 L546.06,1587.97 L546.7,1588.67 L547.34,1587.74 L547.98,1588.74 L548.62,1588.82 L549.26,1588.27 L549.9,1588.25 L550.54,1589 L551.17,1589 L551.81,1588.9 L552.45,1588.67 L553.09,1588.63 L553.73,1588.34 L554.37,1588.2 L555.01,1589.02 L555.65,1588.8 L556.29,1588.86 L556.93,1589.47 L557.57,1589.19 L558.2,1589.51 L558.84,1588.95 L559.48,1589.2 L560.12,1588.68 L560.76,1588.77 L561.4,1589.11 L562.04,1588.79 L562.68,1589.45 L563.32,1589.92 L563.96,1589.53 L564.6,1589.17 L565.23,1589.64 L565.87,1588.93 L566.51,1589.63 L567.15,1589.18 L567.79,1589.97 L568.43,1589.93 L569.07,1590.08 L569.71,1589.43 L570.35,1589.38 L570.99,1589.35 L571.63,1589.11 L572.26,1589.78 L572.9,1589.57 L573.54,1589.91 L574.18,1590.16 L574.82,1589.65 L575.46,1590.16 L576.1,1589.65 L576.74,1589.36 L577.38,1589.68 L578.02,1590.38 L578.66,1590.2 L579.29,1589.4 L579.93,1589.61 L580.57,1589.27 L581.21,1589.54 L581.85,1589.71 L582.49,1589.92 L583.13,1589.41 L583.77,1589.73 L584.41,1588.53 L585.05,1589.38 L585.69,1588.93 L586.32,1588.78 L586.96,1588.49 L587.6,1588.46 L588.24,1588.17 L588.88,1588.13 L589.52,1586.91 L590.16,1587.66 L590.8,1587.44 L591.44,1586.67 L592.08,1586.78 L592.72,1586.16 L593.36,1586.3 L593.99,1586.73 L594.63,1586.51 L595.27,1586.38 L595.91,1586.33 L596.55,1585.88 L597.19,1586.07 L597.83,1585.61 L598.47,1585.38 L599.11,1585.94 L599.75,1585.49 L600.39,1585.01 L601.02,1586.03 L601.66,1586.03 L602.3,1585.49 L602.94,1585.63 L603.58,1585.63 L604.22,1585.57 L604.86,1585.03 L605.5,1585.74 L606.14,1585.1 L606.78,1584.51 L607.42,1585.11 L608.05,1585.45 L608.69,1584.36 L609.33,1584.82 L609.97,1585.11 L610.61,1585.11 L611.25,1584.95 L611.89,1584.77 L612.53,1585.02 L613.17,1584.24 L613.81,1583.95 L614.45,1583.81 L615.08,1583.76 L615.72,1584.45 L616.36,1583.58 L617,1583.91 L617.64,1582.46 L618.28,1582.58 L618.92,1581.77 L619.56,1582.03 L620.2,1581.17 L620.84,1580.56 L621.48,1580.96 L622.11,1580.62 L622.75,1579.93 L623.39,1580.45 L624.03,1579.58 L624.67,1580 L625.31,1579.49 L625.95,1581.01 L626.59,1581.3 L627.23,1580.68 L627.87,1581.45 L628.51,1580.87 L629.14,1581.23 L629.78,1581.51 L630.42,1581.43 L631.06,1582.01 L631.7,1581.84 L632.34,1581.52 L632.98,1581.24 L633.62,1581.87 L634.26,1581.57 L634.9,1581.12 L635.54,1580.88 L636.17,1581.25 L636.81,1581.27 L637.45,1581.31 L638.09,1581.35 L638.73,1580.9 L639.37,1581.52 L640.01,1580.49 L640.65,1580.46 L641.29,1580.89 L641.93,1580.23 L642.57,1581.08 L643.2,1580.02 L643.84,1580.04 L644.48,1580.51 L645.12,1579.69 L645.76,1580.05 L646.4,1579.86 L647.04,1579.99 L647.68,1578.91 L648.32,1578.9 L648.96,1579.48 L649.6,1578.65 L650.23,1578.72 L650.87,1578.54 L651.51,1578.63 L652.15,1577.87 L652.79,1577.66 L653.43,1577.26 L654.07,1577.54 L654.71,1576.88 L655.35,1576.19 L655.99,1575.71 L656.63,1574.85 L657.27,1574.47 L657.9,1574.62 L658.54,1574.46 L659.18,1573.26 L659.82,1572.86 L660.46,1571.72 L661.1,1571.46 L661.74,1570.61 L662.38,1570.09 L663.02,1568.71 L663.66,1568.1 L664.3,1567.17 L664.93,1567.15 L665.57,1565.76 L666.21,1565.79 L666.85,1564.68 L667.49,1563.47 L668.13,1561.98 L668.77,1561.16 L669.41,1560.3 L670.05,1559.33 L670.69,1559.23 L671.33,1557.66 L671.96,1556.88 L672.6,1554.92 L673.24,1554.04 L673.88,1553.13 L674.52,1551.84 L675.16,1550.78 L675.8,1548.96 L676.44,1547.74 L677.08,1546.37 L677.72,1545.36 L678.36,1543.54 L678.99,1541.62 L679.63,1539.78 L680.27,1538.14 L680.91,1535.01 L681.55,1533.58 L682.19,1531.07 L682.83,1528.26 L683.47,1526.27 L684.11,1523.83 L684.75,1519.95 L685.39,1517.1 L686.02,1514.04 L686.66,1510.23 L687.3,1507.05 L687.94,1502.83 L688.58,1499.52 L689.22,1496.95 L689.86,1494.29 L690.5,1492.02 L691.14,1490.55 L691.78,1488.89 L692.42,1489.34 L693.05,1487.44 L693.69,1488.32 L694.33,1486.5 L694.97,1487.41 L695.61,1486.82 L696.25,1487.13 L696.89,1486.36 L697.53,1485.65 L698.17,1486.08 L698.81,1485.26 L699.45,1485.63 L700.08,1485.08 L700.72,1485.3 L701.36,1485.28 L702,1484.61 L702.64,1485.91 L703.28,1485.12 L703.92,1485.38 L704.56,1486.55 L705.2,1486.72 L705.84,1486.06 L706.48,1487.12 L707.11,1487.05 L707.75,1486.52 L708.39,1487.66 L709.03,1487.04 L709.67,1488.74 L710.31,1488.4 L710.95,1489.46 L711.59,1489.59 L712.23,1489.71 L712.87,1490.76 L713.51,1490.73 L714.14,1492.25 L714.78,1492.23 L715.42,1492.92 L716.06,1494.21 L716.7,1495.48 L717.34,1495.7 L717.98,1497.38 L718.62,1498.09 L719.26,1499.37 L719.9,1499.46 L720.54,1500.45 L721.18,1502.04 L721.81,1502.77 L722.45,1502.81 L723.09,1504.08 L723.73,1505.71 L724.37,1506.52 L725.01,1507.83 L725.65,1508.66 L726.29,1509.44 L726.93,1510.24 L727.57,1512.55 L728.21,1513.35 L728.84,1513.84 L729.48,1514.88 L730.12,1516.36 L730.76,1517.66 L731.4,1519.46 L732.04,1520.18 L732.68,1520.92 L733.32,1522 L733.96,1523.27 L734.6,1524.85 L735.24,1524.78 L735.87,1526.89 L736.51,1527.74 L737.15,1527.96 L737.79,1530.1 L738.43,1530.67 L739.07,1531.07 L739.71,1531.83 L740.35,1533.26 L740.99,1535.34 L741.63,1536.07 L742.27,1535.9 L742.9,1537.68 L743.54,1537.56 L744.18,1538.43 L744.82,1539.41 L745.46,1541.2 L746.1,1541.58 L746.74,1541.64 L747.38,1543.56 L748.02,1543.2 L748.66,1545.62 L749.3,1546 L749.93,1546.99 L750.57,1547.75 L751.21,1547.65 L751.85,1547.86 L752.49,1549.55 L753.13,1550.62 L753.77,1550.06 L754.41,1552.33 L755.05,1551.99 L755.69,1553.61 L756.33,1554.29 L756.96,1554.87 L757.6,1553.91 L758.24,1554.36 L758.88,1554.82 L759.52,1557.44 L760.16,1558.4 L760.8,1556.51 L761.44,1559.17 L762.08,1558.56 L762.72,1560.26 L763.36,1559.26 L763.99,1560.62 L764.63,1561.57 L765.27,1561.7 L765.91,1560.5 L766.55,1560.8 L767.19,1562 L767.83,1563.26 L768.47,1562.25 L769.11,1561.64 L769.75,1562.49 L770.39,1562.05 L771.02,1562.06 L771.66,1565.21 L772.3,1564.33 L772.94,1562.75 L773.58,1564.14 L774.22,1565.31 L774.86,1564.26 L775.5,1564 L776.14,1563.22 L776.78,1562.92 L777.42,1563.95 L778.05,1564.37 L778.69,1565.72 L779.33,1565.47 L779.97,1563.1 L780.61,1565.71 L781.25,1564.25 L781.89,1563.95 L782.53,1563.17 L783.17,1564.21 L783.81,1566.01 L784.45,1565.67 L785.09,1562.12 L785.72,1561.88 L786.36,1565.06 L787,1563.17 L787.64,1564.6 L788.28,1562.82 L788.92,1562.52 L789.56,1562.71 L790.2,1561.96 L790.84,1559.97 L791.48,1563.54 L792.12,1559.1 L792.75,1560.28 L793.39,1561.75 L794.03,1559.83 L794.67,1558.85 L795.31,1558.92 L795.95,1558.1 L796.59,1557.84 L797.23,1558.41 L797.87,1556.66 L798.51,1555.49 L799.15,1554.79 L799.78,1556.74 L800.42,1556.11 L801.06,1556.18 L801.7,1553.95 L802.34,1552.02" fill="none" stroke="#ff0000" stroke-width="2.1" stroke-linejoin="round"/>
<path d="M166.6,1041.45 L167.24,1071.68 L167.87,1096.67 L168.51,1118.7 L169.15,1135.84 L169.79,1150.35 L170.43,1165.45 L171.07,1179.85 L171.71,1193.02 L172.35,1206.35 L172.99,1217.64 L173.63,1230.09 L174.27,1241.04 L174.9,1252.81 L175.54,1262.41 L176.18,1273.78 L176.82,1282.9 L177.46,1293.25 L178.1,1300.79 L178.74,1307.85 L179.38,1314.46 L180.02,1321.93 L180.66,1327.12 L181.3,1331.35 L181.93,1334.31 L182.57,1337.26 L183.21,1338.38 L183.85,1339.94 L184.49,1342 L185.13,1343.03 L185.77,1343.48 L186.41,1346.34 L187.05,1347.24 L187.69,1350.84 L188.33,1352.73 L188.96,1355.95 L189.6,1359.79 L190.24,1362.03 L190.88,1365.75 L191.52,1368.77 L192.16,1371.16 L192.8,1373.19 L193.44,1376.26 L194.08,1379.08 L194.72,1380.74 L195.36,1381.41 L195.99,1383.91 L196.63,1384.7 L197.27,1385.21 L197.91,1385.71 L198.55,1387.68 L199.19,1388.31 L199.83,1389.07 L200.47,1389.57 L201.11,1388.93 L201.75,1390.76 L202.39,1391.57 L203.02,1391.5 L203.66,1392.1 L204.3,1392.17 L204.94,1392.85 L205.58,1393.34 L206.22,1394.59 L206.86,1394.48 L207.5,1395.67 L208.14,1396.17 L208.78,1396.28 L209.42,1396.93 L210.05,1397.1 L210.69,1398.83 L211.33,1399.21 L211.97,1400.11 L212.61,1400.3 L213.25,1400.94 L213.89,1401.6 L214.53,1403.05 L215.17,1403.49 L215.81,1404.18 L216.45,1405.56 L217.08,1405.53 L217.72,1406.82 L218.36,1407.86 L219,1407.09 L219.64,1409.2 L220.28,1408.85 L220.92,1409.97 L221.56,1411.42 L222.2,1411.55 L222.84,1412.54 L223.48,1413.19 L224.12,1413.39 L224.75,1414.08 L225.39,1415.34 L226.03,1416.51 L226.67,1416.97 L227.31,1416.94 L227.95,1417.56 L228.59,1418.68 L229.23,1417.93 L229.87,1417.42 L230.51,1418.47 L231.15,1418.03 L231.78,1418.25 L232.42,1416.73 L233.06,1417.2 L233.7,1416.97 L234.34,1416.52 L234.98,1415.87 L235.62,1415.84 L236.26,1414.14 L236.9,1413.37 L237.54,1412.56 L238.18,1412.78 L238.81,1411.67 L239.45,1410.36 L240.09,1409.58 L240.73,1409.24 L241.37,1408.09 L242.01,1406.3 L242.65,1405.61 L243.29,1405.58 L243.93,1404.21 L244.57,1401.89 L245.21,1401.36 L245.84,1400.4 L246.48,1398.87 L247.12,1397.5 L247.76,1395.75 L248.4,1395.61 L249.04,1393.43 L249.68,1393.3 L250.32,1392.39 L250.96,1392.21 L251.6,1391.24 L252.24,1389.44 L252.87,1389.51 L253.51,1389.39 L254.15,1388.21 L254.79,1387.65 L255.43,1386.96 L256.07,1387.45 L256.71,1386.58 L257.35,1387.92 L257.99,1387.65 L258.63,1388.18 L259.27,1388.79 L259.9,1388.74 L260.54,1390.07 L261.18,1389.91 L261.82,1390.49 L262.46,1390.74 L263.1,1392.22 L263.74,1393.2 L264.38,1394.14 L265.02,1393.86 L265.66,1395.68 L266.3,1395.84 L266.93,1396.88 L267.57,1398.49 L268.21,1399.36 L268.85,1399.75 L269.49,1400.12 L270.13,1401.12 L270.77,1402.45 L271.41,1403.22 L272.05,1404.4 L272.69,1404.63 L273.33,1406.29 L273.96,1406.26 L274.6,1407.81 L275.24,1407.89 L275.88,1408.53 L276.52,1409 L277.16,1410.13 L277.8,1410.68 L278.44,1411.55 L279.08,1412.68 L279.72,1413.29 L280.36,1413.74 L280.99,1414.49 L281.63,1414.81 L282.27,1415.66 L282.91,1415.38 L283.55,1416.5 L284.19,1417.25 L284.83,1416.97 L285.47,1418.75 L286.11,1418.95 L286.75,1419.54 L287.39,1419.58 L288.03,1420.44 L288.66,1420.81 L289.3,1421.8 L289.94,1422.66 L290.58,1423.32 L291.22,1423.68 L291.86,1423.99 L292.5,1425.04 L293.14,1424.38 L293.78,1426.06 L294.42,1426.6 L295.06,1426.83 L295.69,1427.26 L296.33,1427.66 L296.97,1428.5 L297.61,1428.34 L298.25,1428.27 L298.89,1429.6 L299.53,1429.03 L300.17,1430.35 L300.81,1429.43 L301.45,1430.43 L302.09,1430.54 L302.72,1431.04 L303.36,1430.68 L304,1431.65 L304.64,1431.87 L305.28,1432.37 L305.92,1431.39 L306.56,1432.66 L307.2,1432.76 L307.84,1431.84 L308.48,1431.49 L309.12,1433.08 L309.75,1432.8 L310.39,1433.17 L311.03,1432.74 L311.67,1432.49 L312.31,1432.07 L312.95,1432.85 L313.59,1432.27 L314.23,1433 L314.87,1432.92 L315.51,1432.99 L316.15,1433.43 L316.78,1433.32 L317.42,1432.18 L318.06,1433.82 L318.7,1432.88 L319.34,1433.81 L319.98,1433.19 L320.62,1433.81 L321.26,1434.16 L321.9,1433.33 L322.54,1433.51 L323.18,1433.16 L323.81,1433.99 L324.45,1432.76 L325.09,1433.8 L325.73,1433.47 L326.37,1433.47 L327.01,1433.08 L327.65,1433.66 L328.29,1434.62 L328.93,1433.86 L329.57,1433.65 L330.21,1433.68 L330.84,1434.45 L331.48,1434.18 L332.12,1433.82 L332.76,1434.7 L333.4,1434.87 L334.04,1434.09 L334.68,1434.16 L335.32,1434.37 L335.96,1434.49 L336.6,1435.97 L337.24,1435.56 L337.87,1436.07 L338.51,1436.4 L339.15,1436.99 L339.79,1437.1 L340.43,1437.37 L341.07,1438.48 L341.71,1438.28 L342.35,1438.68 L342.99,1438.77 L343.63,1438.13 L344.27,1438.81 L344.9,1439.47 L345.54,1439.36 L346.18,1438.16 L346.82,1439.52 L347.46,1439.03 L348.1,1438.77 L348.74,1438.52 L349.38,1437.65 L350.02,1438.53 L350.66,1438.56 L351.3,1437.52 L351.94,1437.14 L352.57,1438.62 L353.21,1436.72 L353.85,1436.91 L354.49,1437.57 L355.13,1437.33 L355.77,1437.01 L356.41,1435.63 L357.05,1435.78 L357.69,1435.04 L358.33,1435.34 L358.97,1433.65 L359.6,1434.16 L360.24,1433.57 L360.88,1434.46 L361.52,1433.43 L362.16,1434.27 L362.8,1434.38 L363.44,1433.7 L364.08,1434.43 L364.72,1433.59 L365.36,1434.49 L366,1435.09 L366.63,1434.43 L367.27,1433.95 L367.91,1435.12 L368.55,1435.08 L369.19,1434.21 L369.83,1433.71 L370.47,1435.23 L371.11,1433.74 L371.75,1434.76 L372.39,1434.18 L373.03,1434.42 L373.66,1433.85 L374.3,1433.99 L374.94,1434.71 L375.58,1434.62 L376.22,1433.87 L376.86,1433.75 L377.5,1433.72 L378.14,1432.86 L378.78,1432.49 L379.42,1431.73 L380.06,1430.71 L380.69,1431.15 L381.33,1429.94 L381.97,1429.73 L382.61,1430.03 L383.25,1429.07 L383.89,1427.83 L384.53,1428.29 L385.17,1428.11 L385.81,1426.48 L386.45,1427.68 L387.09,1426.62 L387.72,1428.46 L388.36,1428.74 L389,1428.27 L389.64,1428.49 L390.28,1430.32 L390.92,1430.68 L391.56,1431.04 L392.2,1431.54 L392.84,1431.79 L393.48,1431.69 L394.12,1432.81 L394.75,1432.79 L395.39,1433.93 L396.03,1435.22 L396.67,1434.69 L397.31,1434.53 L397.95,1435.02 L398.59,1435.3 L399.23,1436.24 L399.87,1435.35 L400.51,1435.99 L401.15,1435.51 L401.78,1435.28 L402.42,1435.93 L403.06,1436.49 L403.7,1436.06 L404.34,1436.96 L404.98,1436.41 L405.62,1435.9 L406.26,1436.74 L406.9,1436.74 L407.54,1437 L408.18,1437.19 L408.81,1436.3 L409.45,1437.87 L410.09,1438.02 L410.73,1437.04 L411.37,1436.81 L412.01,1437.69 L412.65,1437.09 L413.29,1437.31 L413.93,1437.26 L414.57,1437.13 L415.21,1437.54 L415.85,1438.09 L416.48,1437.18 L417.12,1438.64 L417.76,1438.19 L418.4,1438.32 L419.04,1438.98 L419.68,1437.48 L420.32,1439.21 L420.96,1437.91 L421.6,1437.97 L422.24,1439.3 L422.88,1438.86 L423.51,1439.19 L424.15,1438 L424.79,1438.5 L425.43,1439.35 L426.07,1438.95 L426.71,1438.22 L427.35,1438.06 L427.99,1439.22 L428.63,1439.07 L429.27,1439.55 L429.91,1439.64 L430.54,1439.11 L431.18,1439.18 L431.82,1438.3 L432.46,1439.98 L433.1,1439.83 L433.74,1439.6 L434.38,1438.65 L435.02,1438.65 L435.66,1440.11 L436.3,1439.42 L436.94,1440.09 L437.57,1440.07 L438.21,1438.63 L438.85,1439.57 L439.49,1438.76 L440.13,1438.7 L440.77,1439.08 L441.41,1439.69 L442.05,1439.12 L442.69,1438.68 L443.33,1438.48 L443.97,1439.72 L444.6,1438.09 L445.24,1438.06 L445.88,1439.46 L446.52,1438.72 L447.16,1439.07 L447.8,1438.69 L448.44,1439.04 L449.08,1438.09 L449.72,1437.94 L450.36,1438.71 L451,1438.73 L451.63,1438.82 L452.27,1439.12 L452.91,1438.16 L453.55,1437.73 L454.19,1438.65 L454.83,1439.07 L455.47,1438.08 L456.11,1439.01 L456.75,1438.34 L457.39,1438.25 L458.03,1438.04 L458.66,1438.55 L459.3,1437.83 L459.94,1438.71 L460.58,1438.05 L461.22,1437.52 L461.86,1438.78 L462.5,1439.04 L463.14,1438.62 L463.78,1439.57 L464.42,1438.91 L465.06,1438.55 L465.69,1439.34 L466.33,1439.27 L466.97,1440.28 L467.61,1440.26 L468.25,1440.68 L468.89,1440.81 L469.53,1440.09 L470.17,1440.4 L470.81,1441.65 L471.45,1440.81 L472.09,1441.76 L472.72,1441.8 L473.36,1442.88 L474,1442.21 L474.64,1442.4 L475.28,1443.72 L475.92,1444.16 L476.56,1443.58 L477.2,1443.68 L477.84,1445.09 L478.48,1443.76 L479.12,1445.81 L479.76,1444.53 L480.39,1446.46 L481.03,1445.61 L481.67,1445.66 L482.31,1447.23 L482.95,1447.68 L483.59,1447.22 L484.23,1446.86 L484.87,1448.66 L485.51,1447.56 L486.15,1448.8 L486.79,1449.25 L487.42,1448.68 L488.06,1449.2 L488.7,1450.03 L489.34,1449.41 L489.98,1450.05 L490.62,1450.6 L491.26,1451.38 L491.9,1450.45 L492.54,1450.51 L493.18,1451.26 L493.82,1450.89 L494.45,1452.25 L495.09,1452.1 L495.73,1451.55 L496.37,1451.41 L497.01,1452.55 L497.65,1452.67 L498.29,1451.35 L498.93,1452.36 L499.57,1451.28 L500.21,1452.15 L500.85,1451.03 L501.48,1451.13 L502.12,1450.29 L502.76,1449.8 L503.4,1450.32 L504.04,1449.77 L504.68,1450.66 L505.32,1450.14 L505.96,1450.04 L506.6,1448.62 L507.24,1449.99 L507.88,1449.39 L508.51,1449.2 L509.15,1447.58 L509.79,1447.66 L510.43,1448.08 L511.07,1447.65 L511.71,1448.26 L512.35,1446.97 L512.99,1447.29 L513.63,1446.92 L514.27,1447.16 L514.91,1446.43 L515.54,1445.82 L516.18,1445.53 L516.82,1446.36 L517.46,1445.5 L518.1,1445.75 L518.74,1445.12 L519.38,1444.27 L520.02,1445.44 L520.66,1444.91 L521.3,1445.59 L521.94,1445.15 L522.57,1445.35 L523.21,1445.21 L523.85,1445.76 L524.49,1445.89 L525.13,1444.81 L525.77,1445.28 L526.41,1444.36 L527.05,1445.05 L527.69,1444.45 L528.33,1444.25 L528.97,1445.52 L529.6,1445.01 L530.24,1445.04 L530.88,1445.36 L531.52,1445.21 L532.16,1445.46 L532.8,1445.95 L533.44,1444.37 L534.08,1445.07 L534.72,1445.49 L535.36,1445.66 L536,1445.7 L536.63,1444.89 L537.27,1446.22 L537.91,1446.28 L538.55,1444.81 L539.19,1445.57 L539.83,1445.71 L540.47,1445.76 L541.11,1446.06 L541.75,1445.51 L542.39,1444.73 L543.03,1445.51 L543.67,1446.12 L544.3,1445 L544.94,1445.41 L545.58,1446.41 L546.22,1445.28 L546.86,1446.51 L547.5,1445.91 L548.14,1445.61 L548.78,1446.16 L549.42,1445.31 L550.06,1446.69 L550.7,1446.51 L551.33,1446.05 L551.97,1445.16 L552.61,1446.54 L553.25,1446.65 L553.89,1446.63 L554.53,1445.32 L555.17,1445.92 L555.81,1445.66 L556.45,1446.59 L557.09,1446.07 L557.73,1445.6 L558.36,1445.93 L559,1447.09 L559.64,1447.06 L560.28,1446.09 L560.92,1447.12 L561.56,1447.23 L562.2,1446.38 L562.84,1447.12 L563.48,1447.43 L564.12,1447.46 L564.76,1447.7 L565.39,1446.74 L566.03,1446.94 L566.67,1447.69 L567.31,1447.4 L567.95,1447.83 L568.59,1447.89 L569.23,1448.1 L569.87,1447.72 L570.51,1448.32 L571.15,1448.94 L571.79,1447.53 L572.42,1448.21 L573.06,1448.08 L573.7,1448.89 L574.34,1448.1 L574.98,1448.83 L575.62,1449.27 L576.26,1449.36 L576.9,1448.65 L577.54,1448.85 L578.18,1449.03 L578.82,1447.73 L579.45,1448.91 L580.09,1449.18 L580.73,1448.07 L581.37,1448.11 L582.01,1448.15 L582.65,1448.13 L583.29,1447.66 L583.93,1447.66 L584.57,1448.3 L585.21,1448.67 L585.85,1447.99 L586.48,1447.91 L587.12,1448.19 L587.76,1447.31 L588.4,1446.98 L589.04,1448.67 L589.68,1447.84 L590.32,1446.9 L590.96,1447.05 L591.6,1447.81 L592.24,1448.19 L592.88,1447.04 L593.51,1446.5 L594.15,1446.5 L594.79,1446.15 L595.43,1447.57 L596.07,1447.11 L596.71,1446.67 L597.35,1446.97 L597.99,1446.62 L598.63,1445.24 L599.27,1445.54 L599.91,1444.98 L600.54,1445.73 L601.18,1446.25 L601.82,1445.94 L602.46,1445.14 L603.1,1445.7 L603.74,1444.25 L604.38,1445.11 L605.02,1443.91 L605.66,1444.23 L606.3,1445.29 L606.94,1443.61 L607.58,1443.95 L608.21,1443.53 L608.85,1443.21 L609.49,1444.08 L610.13,1443.83 L610.77,1443.35 L611.41,1444.3 L612.05,1442.72 L612.69,1442.24 L613.33,1441.95 L613.97,1442.1 L614.61,1441.92 L615.24,1442.02 L615.88,1441.23 L616.52,1442.19 L617.16,1442.28 L617.8,1440.65 L618.44,1441.72 L619.08,1441.59 L619.72,1440.67 L620.36,1441.47 L621,1441.17 L621.64,1440.28 L622.27,1440.43 L622.91,1441.02 L623.55,1441.23 L624.19,1439.93 L624.83,1440.38 L625.47,1441.02 L626.11,1441.3 L626.75,1441.13 L627.39,1441.08 L628.03,1441.46 L628.67,1442.48 L629.3,1442.2 L629.94,1442.07 L630.58,1441.93 L631.22,1442.77 L631.86,1442.03 L632.5,1442.98 L633.14,1442.95 L633.78,1443.43 L634.42,1442.8 L635.06,1443.04 L635.7,1442.11 L636.33,1441.91 L636.97,1442.3 L637.61,1442.14 L638.25,1441.93 L638.89,1442.51 L639.53,1442.37 L640.17,1441.82 L640.81,1443.11 L641.45,1442.93 L642.09,1441.6 L642.73,1441.75 L643.36,1442.67 L644,1441.41 L644.64,1441.38 L645.28,1441.23 L645.92,1441.29 L646.56,1442.49 L647.2,1441.42 L647.84,1442.21 L648.48,1441.54 L649.12,1440.55 L649.76,1441.11 L650.39,1441.16 L651.03,1441.83 L651.67,1439.98 L652.31,1440.55 L652.95,1440.38 L653.59,1440.37 L654.23,1439.42 L654.87,1439.88 L655.51,1439.77 L656.15,1439.57 L656.79,1438.93 L657.42,1438.71 L658.06,1437.51 L658.7,1438.03 L659.34,1437.08 L659.98,1437.54 L660.62,1435.39 L661.26,1435.16 L661.9,1435.69 L662.54,1433.91 L663.18,1432.8 L663.82,1432.53 L664.45,1431.56 L665.09,1431.1 L665.73,1429.97 L666.37,1427.86 L667.01,1427.04 L667.65,1426.37 L668.29,1425.52 L668.93,1422.95 L669.57,1422.63 L670.21,1421.79 L670.85,1419.87 L671.49,1418.88 L672.12,1417.6 L672.76,1415.33 L673.4,1414.45 L674.04,1413.78 L674.68,1413.05 L675.32,1410.83 L675.96,1409.94 L676.6,1407.43 L677.24,1406.71 L677.88,1404.78 L678.52,1403.34 L679.15,1401.45 L679.79,1400.47 L680.43,1398.42 L681.07,1395.59 L681.71,1393.31 L682.35,1391.27 L682.99,1389.35 L683.63,1388.48 L684.27,1386.94 L684.91,1383.45 L685.55,1382.4 L686.18,1380.11 L686.82,1376.91 L687.46,1375.12 L688.1,1372.42 L688.74,1371.57 L689.38,1369.77 L690.02,1368.01 L690.66,1366.24 L691.3,1365.24 L691.94,1361.89 L692.58,1361.65 L693.21,1360.9 L693.85,1359.86 L694.49,1356.74 L695.13,1355.76 L695.77,1356.42 L696.41,1354.43 L697.05,1352.97 L697.69,1353.45 L698.33,1353.83 L698.97,1351.15 L699.61,1350.94 L700.24,1350.34 L700.88,1350.67 L701.52,1350.93 L702.16,1350.44 L702.8,1349.16 L703.44,1349.15 L704.08,1349.63 L704.72,1348.79 L705.36,1349.16 L706,1350.14 L706.64,1350.63 L707.27,1350.17 L707.91,1351.18 L708.55,1351.19 L709.19,1352.32 L709.83,1351.8 L710.47,1352.26 L711.11,1351.73 L711.75,1352.51 L712.39,1354.6 L713.03,1353.56 L713.67,1355.8 L714.3,1356.23 L714.94,1355.41 L715.58,1357.01 L716.22,1357.57 L716.86,1359.95 L717.5,1358.45 L718.14,1361.54 L718.78,1360.94 L719.42,1363.57 L720.06,1363.76 L720.7,1364.08 L721.33,1365.88 L721.97,1365.63 L722.61,1366.23 L723.25,1367.06 L723.89,1367.62 L724.53,1369.93 L725.17,1371.59 L725.81,1372.23 L726.45,1373.72 L727.09,1373.38 L727.73,1376.48 L728.36,1375.18 L729,1377.04 L729.64,1377.97 L730.28,1379.88 L730.92,1381.03 L731.56,1383.24 L732.2,1382.71 L732.84,1384.73 L733.48,1385.72 L734.12,1387.07 L734.76,1388.25 L735.4,1388.57 L736.03,1389.89 L736.67,1388.54 L737.31,1389.82 L737.95,1392.19 L738.59,1393.7 L739.23,1394.72 L739.87,1395.62 L740.51,1394.45 L741.15,1396.64 L741.79,1397.69 L742.43,1397.47 L743.06,1397.65 L743.7,1399.79 L744.34,1399.22 L744.98,1398.71 L745.62,1398.87 L746.26,1400.57 L746.9,1402.61 L747.54,1403.85 L748.18,1405.23 L748.82,1404.58 L749.46,1402.7 L750.09,1406.14 L750.73,1404.28 L751.37,1405.91 L752.01,1405.72 L752.65,1408.11 L753.29,1411.17 L753.93,1410.62 L754.57,1409.98 L755.21,1412.67 L755.85,1411.63 L756.49,1412.97 L757.12,1412.32 L757.76,1412.08 L758.4,1415.23 L759.04,1417.61 L759.68,1416.94 L760.32,1417.96 L760.96,1419.84 L761.6,1418.02 L762.24,1415.26 L762.88,1420.54 L763.52,1416.22 L764.15,1418.42 L764.79,1423.9 L765.43,1417.84 L766.07,1422.23 L766.71,1424.42 L767.35,1423.96 L767.99,1425.55 L768.63,1426.44 L769.27,1424.02 L769.91,1421.46 L770.55,1425.01 L771.18,1425.17 L771.82,1423.14 L772.46,1427.87 L773.1,1422.82 L773.74,1427.75 L774.38,1426.06 L775.02,1424.81 L775.66,1426.77 L776.3,1425.21 L776.94,1430.4 L777.58,1424.86 L778.21,1428.73 L778.85,1422.85 L779.49,1424.07 L780.13,1426.11 L780.77,1428.94 L781.41,1431.28 L782.05,1427.9 L782.69,1432.44 L783.33,1428.67 L783.97,1433.5 L784.61,1432.3 L785.24,1431.49 L785.88,1432.68 L786.52,1427.84 L787.16,1425.18 L787.8,1428.53 L788.44,1425.32 L789.08,1428.39 L789.72,1427.27 L790.36,1428.49 L791,1430.69 L791.64,1422.92 L792.27,1428.96 L792.91,1418.58 L793.55,1428.06 L794.19,1422.68 L794.83,1424.04 L795.47,1426.92 L796.11,1415.33 L796.75,1422.83 L797.39,1419.42 L798.03,1410.54 L798.67,1421.3 L799.31,1418.53 L799.94,1418.66 L800.58,1409 L801.22,1406.44 L801.86,1409.05 L802.5,1405.18" fill="none" stroke="#a31ee6" stroke-width="2.1" stroke-linejoin="round"/>
</g>
<line x1="363.4" y1="1206.2" x2="399.1" y2="1206.2" stroke="#a31ee6" stroke-width="2"/>
<text x="417.5" y="1215.2" font-family='"Liberation Sans", Arial, sans-serif' font-size="27.7" font-weight="normal" text-anchor="start">RBCs</text>
<line x1="363.4" y1="1250.07" x2="399.1" y2="1250.07" stroke="#ff0000" stroke-width="2"/>
<text x="417.5" y="1259.07" font-family='"Liberation Sans", Arial, sans-serif' font-size="27.7" font-weight="normal" text-anchor="start">Lysed RBCs</text>
<line x1="363.4" y1="1293.94" x2="399.1" y2="1293.94" stroke="#00c000" stroke-width="2"/>
<text x="417.5" y="1302.94" font-family='"Liberation Sans", Arial, sans-serif' font-size="27.7" font-weight="normal" text-anchor="start">SAGM</text>
<line x1="363.4" y1="1337.81" x2="399.1" y2="1337.81" stroke="#0000ff" stroke-width="2"/>
<text x="417.5" y="1346.81" font-family='"Liberation Sans", Arial, sans-serif' font-size="27.7" font-weight="normal" text-anchor="start">Water (MilliQ)</text>
<rect x="982.9" y="1211.3" width="4" height="403.4" fill="#000"/>
<rect x="972.9" y="1610.7" width="635" height="4" fill="#000"/>
<rect x="972.9" y="1610.7" width="10" height="4" fill="#000"/>
<rect x="972.9" y="1481.97" width="10" height="4" fill="#000"/>
<rect x="972.9" y="1353.23" width="10" height="4" fill="#000"/>
<rect x="972.9" y="1224.5" width="10" height="4" fill="#000"/>
<rect x="1051.9" y="1612.7" width="4" height="10" fill="#000"/>
<rect x="1189.9" y="1612.7" width="4" height="10" fill="#000"/>
<rect x="1327.9" y="1612.7" width="4" height="10" fill="#000"/>
<rect x="1439.3" y="1612.7" width="2" height="10" fill="#000"/>
<rect x="1465.9" y="1612.7" width="4" height="10" fill="#000"/>
<rect x="1603.9" y="1612.7" width="4" height="10" fill="#000"/>
<text x="969" y="1622.3" font-family='"Liberation Sans", Arial, sans-serif' font-size="30" font-weight="bold" text-anchor="end">0.0</text>
<text x="969" y="1493.57" font-family='"Liberation Sans", Arial, sans-serif' font-size="30" font-weight="bold" text-anchor="end">0.2</text>
<text x="969" y="1364.83" font-family='"Liberation Sans", Arial, sans-serif' font-size="30" font-weight="bold" text-anchor="end">0.4</text>
<text x="969" y="1236.1" font-family='"Liberation Sans", Arial, sans-serif' font-size="30" font-weight="bold" text-anchor="end">0.6</text>
<text x="1053.9" y="1657" font-family='"Liberation Sans", Arial, sans-serif' font-size="30" font-weight="bold" text-anchor="middle">700</text>
<text x="1191.9" y="1657" font-family='"Liberation Sans", Arial, sans-serif' font-size="30" font-weight="bold" text-anchor="middle">800</text>
<text x="1329.9" y="1657" font-family='"Liberation Sans", Arial, sans-serif' font-size="30" font-weight="bold" text-anchor="middle">900</text>
<text x="1467.9" y="1657" font-family='"Liberation Sans", Arial, sans-serif' font-size="30" font-weight="bold" text-anchor="middle">1000</text>
<text x="1605.9" y="1657" font-family='"Liberation Sans", Arial, sans-serif' font-size="30" font-weight="bold" text-anchor="middle">1100</text>
<text transform="translate(905.9,1560.8) rotate(-90)" font-family='"Liberation Sans", Arial, sans-serif' font-size="34" font-weight="bold">Absorbance (cm<tspan font-size="20.5" dy="-12.5">-1</tspan><tspan dy="12.5">)</tspan></text>
<text x="1157.3" y="1703.7" font-family='"Liberation Sans", Arial, sans-serif' font-size="34.55" font-weight="bold" text-anchor="start">Wavelength (nm)</text>
<line x1="1440.2" y1="1608.2" x2="1440.2" y2="1211" stroke="#000" stroke-width="4.4" stroke-linecap="round" stroke-dasharray="0 11.97"/>
<clipPath id="clipF"><rect x="986" y="1200" width="625" height="412.5"/></clipPath>
<g clip-path="url(#clipF)">
<path d="M984.9,1607.61 L986.28,1607.53 L987.66,1607.37 L989.04,1607.69 L990.42,1607.63 L991.8,1607.72 L993.18,1607.63 L994.56,1607.49 L995.94,1607.66 L997.32,1607.56 L998.7,1607.8 L1000.08,1607.47 L1001.46,1607.8 L1002.84,1607.8 L1004.22,1607.67 L1005.6,1607.53 L1006.98,1607.59 L1008.36,1607.51 L1009.74,1607.61 L1011.12,1607.78 L1012.5,1607.78 L1013.88,1607.66 L1015.26,1607.86 L1016.64,1607.62 L1018.02,1607.61 L1019.4,1607.68 L1020.78,1607.79 L1022.16,1607.95 L1023.54,1607.9 L1024.92,1607.91 L1026.3,1607.9 L1027.68,1607.85 L1029.06,1607.82 L1030.44,1607.96 L1031.82,1607.72 L1033.2,1607.75 L1034.58,1607.71 L1035.96,1607.96 L1037.34,1607.81 L1038.72,1607.8 L1040.1,1607.91 L1041.48,1607.91 L1042.86,1607.74 L1044.24,1607.83 L1045.62,1607.7 L1047,1607.88 L1048.38,1607.73 L1049.76,1607.72 L1051.14,1607.75 L1052.52,1607.71 L1053.9,1607.78 L1055.28,1607.88 L1056.66,1607.94 L1058.04,1607.72 L1059.42,1608 L1060.8,1607.88 L1062.18,1607.94 L1063.56,1607.78 L1064.94,1607.64 L1066.32,1607.87 L1067.7,1607.65 L1069.08,1607.64 L1070.46,1607.68 L1071.84,1607.85 L1073.22,1607.59 L1074.6,1607.72 L1075.98,1607.58 L1077.36,1607.68 L1078.74,1607.49 L1080.12,1607.54 L1081.5,1607.75 L1082.88,1607.72 L1084.26,1607.42 L1085.64,1607.6 L1087.02,1607.57 L1088.4,1607.69 L1089.78,1607.42 L1091.16,1607.32 L1092.54,1607.26 L1093.92,1607.53 L1095.3,1607.22 L1096.68,1607.49 L1098.06,1607.38 L1099.44,1607.35 L1100.82,1607.24 L1102.2,1607.24 L1103.58,1607.21 L1104.96,1607.18 L1106.34,1606.98 L1107.72,1607.25 L1109.1,1607.24 L1110.48,1606.95 L1111.86,1607.14 L1113.24,1606.95 L1114.62,1606.82 L1116,1607.16 L1117.38,1606.83 L1118.76,1607.12 L1120.14,1606.89 L1121.52,1606.89 L1122.9,1606.76 L1124.28,1606.69 L1125.66,1606.98 L1127.04,1606.94 L1128.42,1606.69 L1129.8,1606.62 L1131.18,1606.83 L1132.56,1606.61 L1133.94,1606.78 L1135.32,1606.63 L1136.7,1606.38 L1138.08,1606.42 L1139.46,1606.46 L1140.84,1606.53 L1142.22,1606.31 L1143.6,1606.37 L1144.98,1606.66 L1146.36,1606.35 L1147.74,1606.36 L1149.12,1606.38 L1150.5,1606.38 L1151.88,1606.39 L1153.26,1606.4 L1154.64,1606.17 L1156.02,1606.17 L1157.4,1606.38 L1158.78,1606.1 L1160.16,1606.07 L1161.54,1606.06 L1162.92,1606.26 L1164.3,1606.19 L1165.68,1606.19 L1167.06,1605.9 L1168.44,1605.87 L1169.82,1605.97 L1171.2,1606.15 L1172.58,1606.13 L1173.96,1606.01 L1175.34,1606.09 L1176.72,1605.9 L1178.1,1605.98 L1179.48,1606.02 L1180.86,1605.96 L1182.24,1605.88 L1183.62,1605.71 L1185,1605.83 L1186.38,1605.72 L1187.76,1605.77 L1189.14,1605.85 L1190.52,1605.83 L1191.9,1605.73 L1193.28,1605.72 L1194.66,1605.76 L1196.04,1605.43 L1197.42,1605.52 L1198.8,1605.59 L1200.18,1605.33 L1201.56,1605.5 L1202.94,1605.54 L1204.32,1605.45 L1205.7,1605.28 L1207.08,1605.41 L1208.46,1605.39 L1209.84,1605.1 L1211.22,1605.22 L1212.6,1605.1 L1213.98,1605 L1215.36,1605.24 L1216.74,1605.1 L1218.12,1605.23 L1219.5,1604.85 L1220.88,1604.88 L1222.26,1604.92 L1223.64,1605.08 L1225.02,1604.72 L1226.4,1605.08 L1227.78,1604.88 L1229.16,1604.63 L1230.54,1604.86 L1231.92,1604.63 L1233.3,1604.51 L1234.68,1604.59 L1236.06,1604.72 L1237.44,1604.4 L1238.82,1604.61 L1240.2,1604.34 L1241.58,1604.65 L1242.96,1604.26 L1244.34,1604.3 L1245.72,1604.57 L1247.1,1604.26 L1248.48,1604.41 L1249.86,1604.23 L1251.24,1604.19 L1252.62,1604.3 L1254,1603.95 L1255.38,1603.82 L1256.76,1603.92 L1258.14,1603.93 L1259.52,1603.76 L1260.9,1603.8 L1262.28,1603.65 L1263.66,1603.65 L1265.04,1603.71 L1266.42,1603.34 L1267.8,1603.49 L1269.18,1603.53 L1270.56,1603.5 L1271.94,1603.26 L1273.32,1603.35 L1274.7,1603.05 L1276.08,1603.28 L1277.46,1603.26 L1278.84,1603.18 L1280.22,1602.84 L1281.6,1602.86 L1282.98,1602.76 L1284.36,1602.75 L1285.74,1602.96 L1287.12,1602.81 L1288.5,1602.77 L1289.88,1602.84 L1291.26,1602.78 L1292.64,1602.79 L1294.02,1602.84 L1295.4,1602.53 L1296.78,1602.51 L1298.16,1602.78 L1299.54,1602.65 L1300.92,1602.61 L1302.3,1602.36 L1303.68,1602.45 L1305.06,1602.44 L1306.44,1602.5 L1307.82,1602.33 L1309.2,1602.18 L1310.58,1602.1 L1311.96,1602.49 L1313.34,1602.25 L1314.72,1602.42 L1316.1,1602.06 L1317.48,1602.12 L1318.86,1602.19 L1320.24,1602.2 L1321.62,1602.28 L1323,1601.9 L1324.38,1601.87 L1325.76,1601.82 L1327.14,1601.81 L1328.52,1602.16 L1329.9,1601.78 L1331.28,1602.11 L1332.66,1601.69 L1334.04,1601.76 L1335.42,1601.67 L1336.8,1601.71 L1338.18,1601.62 L1339.56,1601.67 L1340.94,1601.58 L1342.32,1601.93 L1343.7,1601.63 L1345.08,1601.53 L1346.46,1601.49 L1347.84,1601.83 L1349.22,1601.62 L1350.6,1601.56 L1351.98,1601.69 L1353.36,1601.58 L1354.74,1601.39 L1356.12,1601.31 L1357.5,1601.42 L1358.88,1601.3 L1360.26,1601.61 L1361.64,1601.46 L1363.02,1601.59 L1364.4,1601.53 L1365.78,1601.37 L1367.16,1601.29 L1368.54,1601.45 L1369.92,1601.27 L1371.3,1601.15 L1372.68,1601.19 L1374.06,1601.25 L1375.44,1601.18 L1376.82,1601.33 L1378.2,1601.19 L1379.58,1601.14 L1380.96,1601.4 L1382.34,1601.4 L1383.72,1601.25 L1385.1,1601.04 L1386.48,1601.19 L1387.86,1600.99 L1389.24,1601.22 L1390.62,1601.21 L1392,1600.95 L1393.38,1601.16 L1394.76,1601.09 L1396.14,1600.96 L1397.52,1601.15 L1398.9,1601.28 L1400.28,1601.02 L1401.66,1601.12 L1403.04,1601.06 L1404.42,1601.13 L1405.8,1600.96 L1407.18,1601.03 L1408.56,1600.88 L1409.94,1601.07 L1411.32,1601.13 L1412.7,1600.99 L1414.08,1600.87 L1415.46,1600.79 L1416.84,1601.11 L1418.22,1601.21 L1419.6,1601.05 L1420.98,1600.86 L1422.36,1600.93 L1423.74,1600.84 L1425.12,1600.98 L1426.5,1601.08 L1427.88,1600.92 L1429.26,1600.86 L1430.64,1600.95 L1432.02,1601.36 L1433.4,1601.2 L1434.78,1601.15 L1436.16,1601.27 L1437.54,1601.45 L1438.92,1601.12 L1440.3,1601.67 L1441.68,1601.37 L1443.06,1601.8 L1444.44,1601.65 L1445.82,1601.16 L1447.2,1601.24 L1448.58,1601.78 L1449.96,1602.14 L1451.34,1601.43 L1452.72,1601.5 L1454.1,1602.17 L1455.48,1602.6 L1456.86,1602.63 L1458.24,1601.87 L1459.62,1602.9 L1461,1602.6 L1462.38,1602.88 L1463.76,1603.06 L1465.14,1603.35 L1466.52,1603.59 L1467.9,1603.49 L1469.28,1603 L1470.66,1603.5 L1472.04,1603.06 L1473.42,1603.55 L1474.8,1603.25 L1476.18,1604.2 L1477.56,1604.27 L1478.94,1603.18 L1480.32,1603.33 L1481.7,1604.03 L1483.08,1603.39 L1484.46,1603.69 L1485.84,1603.77 L1487.22,1604.55 L1488.6,1605.49 L1489.98,1604.56 L1491.36,1603.95 L1492.74,1605.16 L1494.12,1605.08 L1495.5,1606.14 L1496.88,1605.74 L1498.26,1606.3 L1499.64,1604.55 L1501.02,1604.4 L1502.4,1604.72 L1503.78,1605.3 L1505.16,1605.79 L1506.54,1606.34 L1507.92,1606.65 L1509.3,1605.43 L1510.68,1607.58 L1512.06,1605.18 L1513.44,1606.75 L1514.82,1607.09 L1516.2,1605.69 L1517.58,1606.75 L1518.96,1605.33 L1520.34,1606.69 L1521.72,1605.55 L1523.1,1606.88 L1524.48,1605.37 L1525.86,1607.98 L1527.24,1608.02 L1528.62,1605.4 L1530,1606.02 L1531.38,1608.74 L1532.76,1606.54 L1534.14,1607.9 L1535.52,1609.2 L1536.9,1606.72 L1538.28,1605.7 L1539.66,1606.38 L1541.04,1606.85 L1542.42,1608.45 L1543.8,1610.08 L1545.18,1609.64 L1546.56,1606.95 L1547.94,1608.02 L1549.32,1606.51 L1550.7,1606.13 L1552.08,1606.44 L1553.46,1607.66 L1554.84,1610.27 L1556.22,1607.41 L1557.6,1609.12 L1558.98,1607.43 L1560.36,1609.17 L1561.74,1608.91 L1563.12,1608.48 L1564.5,1610.62 L1565.88,1607.02 L1567.26,1606.91 L1568.64,1609.01 L1570.02,1609.15 L1571.4,1608.98 L1572.78,1608.14 L1574.16,1610.67 L1575.54,1612.21 L1576.92,1612.56 L1578.3,1608.77 L1579.68,1610.49 L1581.06,1609.25 L1582.44,1608.15 L1583.82,1609.15 L1585.2,1612.35 L1586.58,1607.69 L1587.96,1607.47 L1589.34,1612.82 L1590.72,1612.67 L1592.1,1612.76 L1593.48,1610.9 L1594.86,1607.08 L1596.24,1610.02 L1597.62,1612.72 L1599,1608.45 L1600.38,1608.75 L1601.76,1612.07 L1603.14,1612.44 L1604.52,1610.46 L1605.9,1608.61" fill="none" stroke="#a0a0a0" stroke-width="2" stroke-linejoin="round"/>
<path d="M984.9,1598.97 L986.28,1598.9 L987.66,1599.03 L989.04,1598.87 L990.42,1599.36 L991.8,1599.36 L993.18,1599.48 L994.56,1599.33 L995.94,1599.68 L997.32,1599.42 L998.7,1599.96 L1000.08,1599.72 L1001.46,1599.65 L1002.84,1599.77 L1004.22,1600.16 L1005.6,1600.34 L1006.98,1599.96 L1008.36,1599.92 L1009.74,1600.13 L1011.12,1600.43 L1012.5,1600.21 L1013.88,1600.32 L1015.26,1600.55 L1016.64,1600.47 L1018.02,1600.63 L1019.4,1600.59 L1020.78,1600.57 L1022.16,1600.96 L1023.54,1600.53 L1024.92,1600.53 L1026.3,1600.75 L1027.68,1600.72 L1029.06,1601.2 L1030.44,1601.14 L1031.82,1600.77 L1033.2,1600.87 L1034.58,1601.04 L1035.96,1601.28 L1037.34,1601.1 L1038.72,1601.1 L1040.1,1601.23 L1041.48,1601.4 L1042.86,1601.19 L1044.24,1601.39 L1045.62,1601.43 L1047,1601.07 L1048.38,1600.97 L1049.76,1601.4 L1051.14,1601.39 L1052.52,1601.19 L1053.9,1601.34 L1055.28,1600.99 L1056.66,1601.08 L1058.04,1601.15 L1059.42,1600.82 L1060.8,1600.96 L1062.18,1601.22 L1063.56,1601.22 L1064.94,1600.97 L1066.32,1601.07 L1067.7,1600.69 L1069.08,1601.13 L1070.46,1600.96 L1071.84,1600.97 L1073.22,1600.63 L1074.6,1600.53 L1075.98,1600.53 L1077.36,1600.81 L1078.74,1600.36 L1080.12,1600.8 L1081.5,1600.54 L1082.88,1600.14 L1084.26,1600.09 L1085.64,1600.57 L1087.02,1600.13 L1088.4,1600.36 L1089.78,1600.07 L1091.16,1600.2 L1092.54,1600.18 L1093.92,1599.92 L1095.3,1599.81 L1096.68,1599.81 L1098.06,1599.72 L1099.44,1599.76 L1100.82,1599.36 L1102.2,1599.67 L1103.58,1599.24 L1104.96,1599.31 L1106.34,1599.21 L1107.72,1599.52 L1109.1,1599.09 L1110.48,1598.83 L1111.86,1599.05 L1113.24,1598.73 L1114.62,1598.95 L1116,1599.03 L1117.38,1598.61 L1118.76,1598.55 L1120.14,1598.92 L1121.52,1598.43 L1122.9,1598.57 L1124.28,1598.27 L1125.66,1598.5 L1127.04,1598.52 L1128.42,1598.07 L1129.8,1598.16 L1131.18,1597.96 L1132.56,1598.36 L1133.94,1597.9 L1135.32,1597.79 L1136.7,1597.94 L1138.08,1597.98 L1139.46,1597.92 L1140.84,1597.43 L1142.22,1597.45 L1143.6,1597.28 L1144.98,1597.57 L1146.36,1597.26 L1147.74,1597.31 L1149.12,1597.19 L1150.5,1597.08 L1151.88,1597.31 L1153.26,1596.74 L1154.64,1596.97 L1156.02,1596.78 L1157.4,1597 L1158.78,1596.9 L1160.16,1596.31 L1161.54,1596.64 L1162.92,1596.26 L1164.3,1596.37 L1165.68,1596.09 L1167.06,1596.06 L1168.44,1595.82 L1169.82,1595.91 L1171.2,1596.16 L1172.58,1596.04 L1173.96,1595.58 L1175.34,1595.68 L1176.72,1595.51 L1178.1,1595.27 L1179.48,1595.4 L1180.86,1595.14 L1182.24,1595.15 L1183.62,1595.18 L1185,1595.23 L1186.38,1594.8 L1187.76,1594.91 L1189.14,1595.11 L1190.52,1594.96 L1191.9,1594.44 L1193.28,1594.87 L1194.66,1594.53 L1196.04,1594.68 L1197.42,1594.33 L1198.8,1594.16 L1200.18,1594.45 L1201.56,1593.85 L1202.94,1594.06 L1204.32,1593.66 L1205.7,1593.92 L1207.08,1593.72 L1208.46,1593.8 L1209.84,1593.77 L1211.22,1593.49 L1212.6,1593.12 L1213.98,1593.32 L1215.36,1593.32 L1216.74,1593.32 L1218.12,1593.32 L1219.5,1592.93 L1220.88,1592.88 L1222.26,1592.57 L1223.64,1592.75 L1225.02,1592.74 L1226.4,1592.22 L1227.78,1592.25 L1229.16,1592.59 L1230.54,1592.35 L1231.92,1592.4 L1233.3,1591.92 L1234.68,1592.12 L1236.06,1591.98 L1237.44,1591.71 L1238.82,1591.52 L1240.2,1591.5 L1241.58,1591.6 L1242.96,1591.3 L1244.34,1591.44 L1245.72,1591.2 L1247.1,1591.39 L1248.48,1590.92 L1249.86,1590.85 L1251.24,1590.98 L1252.62,1591.04 L1254,1591.09 L1255.38,1590.71 L1256.76,1590.65 L1258.14,1590.84 L1259.52,1590.47 L1260.9,1590.15 L1262.28,1590.18 L1263.66,1590.24 L1265.04,1590.06 L1266.42,1590 L1267.8,1590.12 L1269.18,1590.09 L1270.56,1589.89 L1271.94,1590.14 L1273.32,1590.03 L1274.7,1590.03 L1276.08,1589.45 L1277.46,1589.51 L1278.84,1589.66 L1280.22,1589.77 L1281.6,1589.82 L1282.98,1589.38 L1284.36,1589.47 L1285.74,1589.12 L1287.12,1589.32 L1288.5,1589.5 L1289.88,1589.16 L1291.26,1589.46 L1292.64,1589.13 L1294.02,1588.9 L1295.4,1589.07 L1296.78,1589.01 L1298.16,1588.7 L1299.54,1588.76 L1300.92,1588.81 L1302.3,1589.04 L1303.68,1588.6 L1305.06,1588.79 L1306.44,1588.44 L1307.82,1588.53 L1309.2,1588.59 L1310.58,1588.44 L1311.96,1588.67 L1313.34,1588.48 L1314.72,1588.12 L1316.1,1588.3 L1317.48,1588.26 L1318.86,1588.39 L1320.24,1588.13 L1321.62,1588.34 L1323,1587.85 L1324.38,1588.21 L1325.76,1587.99 L1327.14,1587.84 L1328.52,1587.85 L1329.9,1587.78 L1331.28,1587.84 L1332.66,1588.08 L1334.04,1587.73 L1335.42,1587.53 L1336.8,1587.96 L1338.18,1587.55 L1339.56,1587.76 L1340.94,1587.67 L1342.32,1587.75 L1343.7,1587.59 L1345.08,1587.64 L1346.46,1587.63 L1347.84,1587.6 L1349.22,1587.42 L1350.6,1587.4 L1351.98,1587.6 L1353.36,1587.74 L1354.74,1587.53 L1356.12,1587.64 L1357.5,1587.43 L1358.88,1587.23 L1360.26,1587.7 L1361.64,1587.71 L1363.02,1587.71 L1364.4,1587.53 L1365.78,1587.72 L1367.16,1587.72 L1368.54,1587.4 L1369.92,1587.45 L1371.3,1587.58 L1372.68,1587.45 L1374.06,1587.78 L1375.44,1587.5 L1376.82,1587.3 L1378.2,1587.39 L1379.58,1587.4 L1380.96,1587.8 L1382.34,1587.39 L1383.72,1587.76 L1385.1,1587.95 L1386.48,1588.02 L1387.86,1587.81 L1389.24,1587.81 L1390.62,1588.15 L1392,1587.87 L1393.38,1588.21 L1394.76,1588.2 L1396.14,1588.18 L1397.52,1588.04 L1398.9,1588 L1400.28,1588.07 L1401.66,1588.14 L1403.04,1588.34 L1404.42,1588.36 L1405.8,1588.35 L1407.18,1588.54 L1408.56,1588.29 L1409.94,1588.38 L1411.32,1588.74 L1412.7,1588.88 L1414.08,1588.67 L1415.46,1589.02 L1416.84,1588.56 L1418.22,1588.59 L1419.6,1589.31 L1420.98,1589.35 L1422.36,1588.87 L1423.74,1589.53 L1425.12,1589.57 L1426.5,1589.27 L1427.88,1589.61 L1429.26,1589.57 L1430.64,1589.66 L1432.02,1589.98 L1433.4,1589.83 L1434.78,1589.6 L1436.16,1589.77 L1437.54,1589.73 L1438.92,1590.05 L1440.3,1589.98 L1441.68,1590.43 L1443.06,1590.11 L1444.44,1590.24 L1445.82,1590.28 L1447.2,1590.56 L1448.58,1590 L1449.96,1591.34 L1451.34,1590.19 L1452.72,1590.94 L1454.1,1590.9 L1455.48,1591.17 L1456.86,1591.36 L1458.24,1591.42 L1459.62,1592.22 L1461,1592.25 L1462.38,1592.09 L1463.76,1592.3 L1465.14,1592.59 L1466.52,1592.34 L1467.9,1592.94 L1469.28,1593.43 L1470.66,1593.63 L1472.04,1593.69 L1473.42,1593.79 L1474.8,1594.27 L1476.18,1593.56 L1477.56,1593.51 L1478.94,1595.15 L1480.32,1594.06 L1481.7,1593.52 L1483.08,1594.16 L1484.46,1595.81 L1485.84,1596.22 L1487.22,1595.97 L1488.6,1595.99 L1489.98,1596.78 L1491.36,1595.35 L1492.74,1596.04 L1494.12,1597.55 L1495.5,1597.62 L1496.88,1596.64 L1498.26,1596.61 L1499.64,1596.17 L1501.02,1595.69 L1502.4,1597.56 L1503.78,1597.4 L1505.16,1596.54 L1506.54,1597.84 L1507.92,1598.1 L1509.3,1596.22 L1510.68,1598.82 L1512.06,1596.38 L1513.44,1600.11 L1514.82,1596.96 L1516.2,1600.23 L1517.58,1598.47 L1518.96,1597.9 L1520.34,1597.38 L1521.72,1599.81 L1523.1,1598 L1524.48,1600.39 L1525.86,1597.34 L1527.24,1601.12 L1528.62,1599.42 L1530,1600.54 L1531.38,1598.05 L1532.76,1598.14 L1534.14,1598.23 L1535.52,1600.88 L1536.9,1602.38 L1538.28,1601.06 L1539.66,1599.85 L1541.04,1603.84 L1542.42,1603.32 L1543.8,1604.06 L1545.18,1599.93 L1546.56,1598.82 L1547.94,1604.95 L1549.32,1598.71 L1550.7,1603.17 L1552.08,1605.45 L1553.46,1604.62 L1554.84,1600.36 L1556.22,1602.93 L1557.6,1604.3 L1558.98,1603.1 L1560.36,1605.27 L1561.74,1601.96 L1563.12,1606.94 L1564.5,1600.79 L1565.88,1605.66 L1567.26,1601.27 L1568.64,1601.77 L1570.02,1601.03 L1571.4,1602.63 L1572.78,1603.94 L1574.16,1601.2 L1575.54,1600.41 L1576.92,1603.2 L1578.3,1605.48 L1579.68,1606.56 L1581.06,1606.1 L1582.44,1605.3 L1583.82,1610.26 L1585.2,1604.79 L1586.58,1602.49 L1587.96,1610.02 L1589.34,1603.52 L1590.72,1602.52 L1592.1,1606.44 L1593.48,1604.8 L1594.86,1605.66 L1596.24,1612.97 L1597.62,1613.37 L1599,1605.39 L1600.38,1607.81 L1601.76,1609.38 L1603.14,1614.16 L1604.52,1605.99 L1605.9,1612.58" fill="none" stroke="#ffa3a8" stroke-width="2" stroke-linejoin="round"/>
<path d="M984.9,1579.09 L986.28,1578.96 L987.66,1579.22 L989.04,1579.68 L990.42,1579.87 L991.8,1579.7 L993.18,1580.18 L994.56,1580.17 L995.94,1580.16 L997.32,1580.42 L998.7,1580.81 L1000.08,1580.36 L1001.46,1580.47 L1002.84,1580.97 L1004.22,1580.89 L1005.6,1580.74 L1006.98,1580.92 L1008.36,1581.53 L1009.74,1581.46 L1011.12,1581.55 L1012.5,1581.27 L1013.88,1581.47 L1015.26,1581.88 L1016.64,1582.02 L1018.02,1581.48 L1019.4,1582.07 L1020.78,1581.96 L1022.16,1582.08 L1023.54,1581.8 L1024.92,1582.16 L1026.3,1581.96 L1027.68,1582.09 L1029.06,1582.54 L1030.44,1582.29 L1031.82,1582.65 L1033.2,1582.74 L1034.58,1582.29 L1035.96,1582.58 L1037.34,1582.82 L1038.72,1582.6 L1040.1,1582.61 L1041.48,1582.52 L1042.86,1582.62 L1044.24,1582.7 L1045.62,1582.97 L1047,1582.94 L1048.38,1582.77 L1049.76,1582.84 L1051.14,1582.77 L1052.52,1582.45 L1053.9,1582.46 L1055.28,1582.7 L1056.66,1582.46 L1058.04,1582.42 L1059.42,1582.77 L1060.8,1582.82 L1062.18,1582.52 L1063.56,1582.19 L1064.94,1582.62 L1066.32,1582.5 L1067.7,1581.98 L1069.08,1582.43 L1070.46,1581.84 L1071.84,1582.21 L1073.22,1581.88 L1074.6,1581.58 L1075.98,1581.96 L1077.36,1581.75 L1078.74,1581.32 L1080.12,1581.71 L1081.5,1581.65 L1082.88,1581.23 L1084.26,1581.04 L1085.64,1581.2 L1087.02,1581.34 L1088.4,1580.9 L1089.78,1581.16 L1091.16,1581.09 L1092.54,1580.8 L1093.92,1580.34 L1095.3,1580.32 L1096.68,1580.5 L1098.06,1580.59 L1099.44,1580.46 L1100.82,1580.08 L1102.2,1579.98 L1103.58,1579.86 L1104.96,1579.97 L1106.34,1579.4 L1107.72,1579.39 L1109.1,1579.15 L1110.48,1579.2 L1111.86,1579.3 L1113.24,1578.8 L1114.62,1578.75 L1116,1578.87 L1117.38,1578.69 L1118.76,1578.28 L1120.14,1577.81 L1121.52,1577.93 L1122.9,1577.62 L1124.28,1577.5 L1125.66,1577.54 L1127.04,1577.33 L1128.42,1577.35 L1129.8,1577.09 L1131.18,1576.65 L1132.56,1576.4 L1133.94,1576.56 L1135.32,1576.02 L1136.7,1575.91 L1138.08,1575.5 L1139.46,1575.41 L1140.84,1575.45 L1142.22,1575.23 L1143.6,1575.4 L1144.98,1574.67 L1146.36,1574.55 L1147.74,1574.61 L1149.12,1574.64 L1150.5,1574.25 L1151.88,1574.25 L1153.26,1573.96 L1154.64,1573.97 L1156.02,1573.89 L1157.4,1573.68 L1158.78,1573.24 L1160.16,1573.11 L1161.54,1573.33 L1162.92,1573.16 L1164.3,1572.92 L1165.68,1572.85 L1167.06,1572.75 L1168.44,1572.48 L1169.82,1572.63 L1171.2,1572.54 L1172.58,1572.29 L1173.96,1571.65 L1175.34,1571.65 L1176.72,1571.67 L1178.1,1571.8 L1179.48,1571.09 L1180.86,1571.03 L1182.24,1570.85 L1183.62,1570.97 L1185,1571.01 L1186.38,1570.96 L1187.76,1570.43 L1189.14,1570.71 L1190.52,1570.28 L1191.9,1570.06 L1193.28,1570.04 L1194.66,1569.76 L1196.04,1569.54 L1197.42,1569.96 L1198.8,1569.8 L1200.18,1569.67 L1201.56,1569.42 L1202.94,1569.11 L1204.32,1569.05 L1205.7,1568.91 L1207.08,1568.62 L1208.46,1568.84 L1209.84,1568.72 L1211.22,1568.57 L1212.6,1567.97 L1213.98,1568.14 L1215.36,1567.84 L1216.74,1567.51 L1218.12,1567.84 L1219.5,1567.79 L1220.88,1567.51 L1222.26,1567.29 L1223.64,1567.04 L1225.02,1567.11 L1226.4,1566.61 L1227.78,1566.55 L1229.16,1566.3 L1230.54,1566.53 L1231.92,1566.35 L1233.3,1565.94 L1234.68,1565.95 L1236.06,1565.42 L1237.44,1565.39 L1238.82,1565.61 L1240.2,1565.48 L1241.58,1565.17 L1242.96,1564.68 L1244.34,1564.63 L1245.72,1564.71 L1247.1,1564.65 L1248.48,1564.15 L1249.86,1563.69 L1251.24,1563.74 L1252.62,1563.31 L1254,1563.44 L1255.38,1562.92 L1256.76,1563.07 L1258.14,1562.67 L1259.52,1562.85 L1260.9,1562.81 L1262.28,1562.21 L1263.66,1562.43 L1265.04,1561.81 L1266.42,1561.57 L1267.8,1561.8 L1269.18,1561.66 L1270.56,1561.32 L1271.94,1561.11 L1273.32,1561.39 L1274.7,1560.87 L1276.08,1561.04 L1277.46,1560.98 L1278.84,1560.71 L1280.22,1560.53 L1281.6,1560.44 L1282.98,1560.11 L1284.36,1560.14 L1285.74,1560.14 L1287.12,1559.95 L1288.5,1559.79 L1289.88,1559.49 L1291.26,1559.7 L1292.64,1559.3 L1294.02,1559.28 L1295.4,1559.03 L1296.78,1559.22 L1298.16,1559.26 L1299.54,1559.22 L1300.92,1558.81 L1302.3,1558.43 L1303.68,1558.77 L1305.06,1558.61 L1306.44,1558.23 L1307.82,1558.41 L1309.2,1557.99 L1310.58,1558.46 L1311.96,1557.8 L1313.34,1558.11 L1314.72,1557.58 L1316.1,1557.63 L1317.48,1557.53 L1318.86,1557.67 L1320.24,1557.71 L1321.62,1557.63 L1323,1557.19 L1324.38,1557.43 L1325.76,1557.65 L1327.14,1557.19 L1328.52,1557.13 L1329.9,1557.1 L1331.28,1557.4 L1332.66,1557.29 L1334.04,1556.88 L1335.42,1556.97 L1336.8,1556.88 L1338.18,1557.26 L1339.56,1556.93 L1340.94,1557.12 L1342.32,1557.14 L1343.7,1557.21 L1345.08,1557.23 L1346.46,1557.14 L1347.84,1556.82 L1349.22,1556.94 L1350.6,1556.99 L1351.98,1557.12 L1353.36,1557.23 L1354.74,1557.02 L1356.12,1556.88 L1357.5,1557.15 L1358.88,1557.44 L1360.26,1556.91 L1361.64,1557.24 L1363.02,1557.52 L1364.4,1557.08 L1365.78,1557.42 L1367.16,1557.64 L1368.54,1557.13 L1369.92,1557.58 L1371.3,1557.7 L1372.68,1557.59 L1374.06,1557.92 L1375.44,1557.82 L1376.82,1557.6 L1378.2,1557.86 L1379.58,1558.11 L1380.96,1557.99 L1382.34,1557.59 L1383.72,1557.8 L1385.1,1557.91 L1386.48,1558.34 L1387.86,1557.77 L1389.24,1558.11 L1390.62,1558.19 L1392,1558.05 L1393.38,1558.18 L1394.76,1558.17 L1396.14,1558.68 L1397.52,1558.46 L1398.9,1558.36 L1400.28,1558.76 L1401.66,1558.97 L1403.04,1559.02 L1404.42,1559.12 L1405.8,1559.02 L1407.18,1558.99 L1408.56,1559.42 L1409.94,1559.56 L1411.32,1559.61 L1412.7,1559.58 L1414.08,1559.62 L1415.46,1559.4 L1416.84,1559.52 L1418.22,1560.1 L1419.6,1559.92 L1420.98,1559.89 L1422.36,1559.83 L1423.74,1560.32 L1425.12,1560.49 L1426.5,1560.52 L1427.88,1560.61 L1429.26,1560.56 L1430.64,1560.31 L1432.02,1560.76 L1433.4,1560.89 L1434.78,1561.12 L1436.16,1561.43 L1437.54,1561.01 L1438.92,1561.92 L1440.3,1561.34 L1441.68,1561.48 L1443.06,1562.5 L1444.44,1562.14 L1445.82,1561.96 L1447.2,1562.31 L1448.58,1562.77 L1449.96,1563.08 L1451.34,1563.61 L1452.72,1563.76 L1454.1,1562.52 L1455.48,1563.29 L1456.86,1563.21 L1458.24,1564.76 L1459.62,1564.81 L1461,1564.54 L1462.38,1563.92 L1463.76,1565.19 L1465.14,1565.63 L1466.52,1564.49 L1467.9,1564.66 L1469.28,1564.69 L1470.66,1566.9 L1472.04,1566.34 L1473.42,1567.11 L1474.8,1565.98 L1476.18,1567.35 L1477.56,1567.94 L1478.94,1566.68 L1480.32,1567.8 L1481.7,1569.24 L1483.08,1568.61 L1484.46,1568.56 L1485.84,1568.26 L1487.22,1569.67 L1488.6,1570.84 L1489.98,1569.27 L1491.36,1568.81 L1492.74,1571.09 L1494.12,1569.93 L1495.5,1569.84 L1496.88,1569.23 L1498.26,1572.7 L1499.64,1570.75 L1501.02,1571.44 L1502.4,1573.27 L1503.78,1572.37 L1505.16,1574.49 L1506.54,1574.74 L1507.92,1575.05 L1509.3,1573.67 L1510.68,1573.33 L1512.06,1574.83 L1513.44,1573.91 L1514.82,1574.36 L1516.2,1575.52 L1517.58,1575.23 L1518.96,1575.15 L1520.34,1575.6 L1521.72,1578.08 L1523.1,1574.68 L1524.48,1574.63 L1525.86,1577.58 L1527.24,1576.77 L1528.62,1575.53 L1530,1579.57 L1531.38,1575.25 L1532.76,1576.27 L1534.14,1574.82 L1535.52,1578.51 L1536.9,1580.04 L1538.28,1580.95 L1539.66,1576.48 L1541.04,1577.97 L1542.42,1580.36 L1543.8,1581.73 L1545.18,1578.05 L1546.56,1576.88 L1547.94,1577.81 L1549.32,1582.8 L1550.7,1580.23 L1552.08,1581.54 L1553.46,1585.2 L1554.84,1581.71 L1556.22,1579.31 L1557.6,1586.6 L1558.98,1586.46 L1560.36,1584.86 L1561.74,1587.89 L1563.12,1586.67 L1564.5,1580.78 L1565.88,1587.35 L1567.26,1583.5 L1568.64,1583.71 L1570.02,1588.46 L1571.4,1584.31 L1572.78,1589.62 L1574.16,1584.59 L1575.54,1582.2 L1576.92,1588.94 L1578.3,1591.8 L1579.68,1592.16 L1581.06,1586.08 L1582.44,1588.5 L1583.82,1594.07 L1585.2,1589.58 L1586.58,1585.07 L1587.96,1591.37 L1589.34,1591.01 L1590.72,1593.14 L1592.1,1592.15 L1593.48,1595.2 L1594.86,1596.71 L1596.24,1586.56 L1597.62,1592.97 L1599,1595.34 L1600.38,1596.71 L1601.76,1590.49 L1603.14,1597 L1604.52,1590.89 L1605.9,1598.91" fill="none" stroke="#ff7f86" stroke-width="2" stroke-linejoin="round"/>
<path d="M984.9,1557.95 L986.28,1558.44 L987.66,1558.5 L989.04,1559.38 L990.42,1559.56 L991.8,1559.54 L993.18,1559.61 L994.56,1560.39 L995.94,1560.78 L997.32,1560.83 L998.7,1561.11 L1000.08,1561.28 L1001.46,1561.21 L1002.84,1561.24 L1004.22,1561.69 L1005.6,1562.05 L1006.98,1561.84 L1008.36,1562.06 L1009.74,1562.19 L1011.12,1562.05 L1012.5,1562.21 L1013.88,1562.74 L1015.26,1562.61 L1016.64,1562.68 L1018.02,1562.57 L1019.4,1562.74 L1020.78,1562.81 L1022.16,1563.15 L1023.54,1563.27 L1024.92,1563.67 L1026.3,1563.56 L1027.68,1563.4 L1029.06,1563.46 L1030.44,1563.78 L1031.82,1563.68 L1033.2,1563.95 L1034.58,1563.75 L1035.96,1563.99 L1037.34,1563.85 L1038.72,1564.39 L1040.1,1564.3 L1041.48,1564.17 L1042.86,1564.57 L1044.24,1564.62 L1045.62,1564.41 L1047,1564.31 L1048.38,1564.02 L1049.76,1564.42 L1051.14,1564.13 L1052.52,1563.87 L1053.9,1563.84 L1055.28,1564.44 L1056.66,1563.55 L1058.04,1563.46 L1059.42,1563.43 L1060.8,1563.7 L1062.18,1563.11 L1063.56,1562.69 L1064.94,1562.63 L1066.32,1562.53 L1067.7,1562.1 L1069.08,1561.54 L1070.46,1561.83 L1071.84,1561.57 L1073.22,1560.53 L1074.6,1560.7 L1075.98,1560.24 L1077.36,1560.03 L1078.74,1559.4 L1080.12,1558.99 L1081.5,1558.92 L1082.88,1558.1 L1084.26,1557.7 L1085.64,1557.79 L1087.02,1557.13 L1088.4,1556.51 L1089.78,1556.28 L1091.16,1556.39 L1092.54,1555.56 L1093.92,1555.06 L1095.3,1555.18 L1096.68,1555.05 L1098.06,1554.52 L1099.44,1554.03 L1100.82,1554.03 L1102.2,1553.37 L1103.58,1553.52 L1104.96,1552.58 L1106.34,1552.92 L1107.72,1552.55 L1109.1,1552.05 L1110.48,1551.79 L1111.86,1551.25 L1113.24,1551.54 L1114.62,1550.73 L1116,1550.76 L1117.38,1550.21 L1118.76,1549.97 L1120.14,1549.93 L1121.52,1549.7 L1122.9,1548.92 L1124.28,1548.86 L1125.66,1548.53 L1127.04,1547.91 L1128.42,1547.85 L1129.8,1547.71 L1131.18,1547.4 L1132.56,1547.27 L1133.94,1546.97 L1135.32,1546.86 L1136.7,1545.86 L1138.08,1545.99 L1139.46,1545.49 L1140.84,1545.42 L1142.22,1545.32 L1143.6,1544.76 L1144.98,1544.45 L1146.36,1544.47 L1147.74,1543.59 L1149.12,1543.7 L1150.5,1543.13 L1151.88,1543.22 L1153.26,1542.63 L1154.64,1542.21 L1156.02,1541.89 L1157.4,1541.57 L1158.78,1541.4 L1160.16,1541.26 L1161.54,1540.66 L1162.92,1540.92 L1164.3,1539.95 L1165.68,1540.02 L1167.06,1539.57 L1168.44,1539.13 L1169.82,1539.33 L1171.2,1538.74 L1172.58,1538.44 L1173.96,1537.86 L1175.34,1537.63 L1176.72,1537.46 L1178.1,1537.14 L1179.48,1537.15 L1180.86,1536.38 L1182.24,1536.73 L1183.62,1536.15 L1185,1535.57 L1186.38,1535.16 L1187.76,1535.45 L1189.14,1534.84 L1190.52,1534.63 L1191.9,1534.09 L1193.28,1533.72 L1194.66,1534.03 L1196.04,1533.36 L1197.42,1532.99 L1198.8,1533.09 L1200.18,1532.81 L1201.56,1532.06 L1202.94,1531.63 L1204.32,1531.88 L1205.7,1530.82 L1207.08,1531.22 L1208.46,1530.51 L1209.84,1530.55 L1211.22,1530.05 L1212.6,1529.7 L1213.98,1529.39 L1215.36,1529.06 L1216.74,1528.34 L1218.12,1528.02 L1219.5,1528.29 L1220.88,1527.55 L1222.26,1527.28 L1223.64,1526.81 L1225.02,1526.74 L1226.4,1526.34 L1227.78,1526.37 L1229.16,1525.63 L1230.54,1525.52 L1231.92,1525.41 L1233.3,1525.06 L1234.68,1524.41 L1236.06,1524.05 L1237.44,1523.74 L1238.82,1523.98 L1240.2,1523.75 L1241.58,1522.98 L1242.96,1523.03 L1244.34,1522.29 L1245.72,1522.4 L1247.1,1522.3 L1248.48,1522.08 L1249.86,1521.78 L1251.24,1521.12 L1252.62,1520.96 L1254,1520.52 L1255.38,1520.71 L1256.76,1520.45 L1258.14,1519.69 L1259.52,1519.69 L1260.9,1519.49 L1262.28,1518.77 L1263.66,1519.16 L1265.04,1518.92 L1266.42,1518.43 L1267.8,1518.13 L1269.18,1517.4 L1270.56,1517.29 L1271.94,1517.18 L1273.32,1517.32 L1274.7,1516.64 L1276.08,1516.75 L1277.46,1516.46 L1278.84,1516.51 L1280.22,1515.64 L1281.6,1515.84 L1282.98,1515.43 L1284.36,1515.57 L1285.74,1514.81 L1287.12,1515.18 L1288.5,1514.95 L1289.88,1514.22 L1291.26,1514.53 L1292.64,1513.97 L1294.02,1513.59 L1295.4,1513.56 L1296.78,1513.11 L1298.16,1513.1 L1299.54,1512.86 L1300.92,1512.55 L1302.3,1512.94 L1303.68,1512.04 L1305.06,1512.11 L1306.44,1511.79 L1307.82,1512.23 L1309.2,1511.65 L1310.58,1511.77 L1311.96,1511.57 L1313.34,1511.35 L1314.72,1510.74 L1316.1,1510.62 L1317.48,1510.68 L1318.86,1511.09 L1320.24,1510.27 L1321.62,1510.14 L1323,1510.6 L1324.38,1510.27 L1325.76,1510 L1327.14,1510.22 L1328.52,1509.56 L1329.9,1509.49 L1331.28,1509.66 L1332.66,1509.56 L1334.04,1509.51 L1335.42,1509.73 L1336.8,1508.97 L1338.18,1509 L1339.56,1508.69 L1340.94,1509.14 L1342.32,1509.13 L1343.7,1508.63 L1345.08,1508.57 L1346.46,1508.51 L1347.84,1508.2 L1349.22,1508.8 L1350.6,1508.22 L1351.98,1507.97 L1353.36,1508.62 L1354.74,1508.16 L1356.12,1508.46 L1357.5,1507.78 L1358.88,1507.86 L1360.26,1508.22 L1361.64,1507.73 L1363.02,1508.24 L1364.4,1508.17 L1365.78,1508.48 L1367.16,1508.27 L1368.54,1508.47 L1369.92,1508.54 L1371.3,1508.44 L1372.68,1508.63 L1374.06,1508.67 L1375.44,1508.67 L1376.82,1508.47 L1378.2,1509.2 L1379.58,1509.21 L1380.96,1508.7 L1382.34,1509.56 L1383.72,1509.73 L1385.1,1509.2 L1386.48,1509.93 L1387.86,1509.48 L1389.24,1509.81 L1390.62,1510.33 L1392,1510.61 L1393.38,1510.66 L1394.76,1510.8 L1396.14,1510.39 L1397.52,1511.08 L1398.9,1511.03 L1400.28,1511.42 L1401.66,1511.56 L1403.04,1511.6 L1404.42,1511.96 L1405.8,1511.93 L1407.18,1511.76 L1408.56,1512.42 L1409.94,1512.51 L1411.32,1512.47 L1412.7,1512.74 L1414.08,1513.25 L1415.46,1513.68 L1416.84,1513.97 L1418.22,1513.71 L1419.6,1514.37 L1420.98,1514.51 L1422.36,1514.07 L1423.74,1514.47 L1425.12,1514.56 L1426.5,1514.81 L1427.88,1515.52 L1429.26,1516.19 L1430.64,1516.22 L1432.02,1516.6 L1433.4,1516.19 L1434.78,1517.08 L1436.16,1517.87 L1437.54,1517.46 L1438.92,1518.33 L1440.3,1517.82 L1441.68,1519.09 L1443.06,1518.51 L1444.44,1519.05 L1445.82,1519.81 L1447.2,1519.32 L1448.58,1520.63 L1449.96,1520.44 L1451.34,1520.98 L1452.72,1521.33 L1454.1,1520.43 L1455.48,1521.06 L1456.86,1521.39 L1458.24,1523.09 L1459.62,1523.65 L1461,1523.21 L1462.38,1522.57 L1463.76,1523.49 L1465.14,1523.48 L1466.52,1524.78 L1467.9,1525.21 L1469.28,1524.78 L1470.66,1526.86 L1472.04,1525.55 L1473.42,1525.09 L1474.8,1528.05 L1476.18,1526.52 L1477.56,1527.4 L1478.94,1528.72 L1480.32,1527.59 L1481.7,1528.48 L1483.08,1527.79 L1484.46,1529.63 L1485.84,1529.37 L1487.22,1529.68 L1488.6,1532.48 L1489.98,1532.71 L1491.36,1531.81 L1492.74,1533.49 L1494.12,1533.59 L1495.5,1533.94 L1496.88,1534.33 L1498.26,1533.13 L1499.64,1536.66 L1501.02,1533.95 L1502.4,1533.37 L1503.78,1536.58 L1505.16,1535.34 L1506.54,1537.64 L1507.92,1534.89 L1509.3,1539.27 L1510.68,1540.08 L1512.06,1539.01 L1513.44,1537.95 L1514.82,1540.05 L1516.2,1540.22 L1517.58,1540.21 L1518.96,1541.61 L1520.34,1539.94 L1521.72,1543.57 L1523.1,1544.3 L1524.48,1544.28 L1525.86,1541.81 L1527.24,1541.53 L1528.62,1543.72 L1530,1542.44 L1531.38,1544.91 L1532.76,1546.42 L1534.14,1547.44 L1535.52,1550.77 L1536.9,1545.76 L1538.28,1552.24 L1539.66,1547.81 L1541.04,1548.43 L1542.42,1547.69 L1543.8,1552.96 L1545.18,1554.17 L1546.56,1551.14 L1547.94,1553.08 L1549.32,1549.32 L1550.7,1556.21 L1552.08,1557.33 L1553.46,1556.16 L1554.84,1554.38 L1556.22,1551.47 L1557.6,1560.02 L1558.98,1561.03 L1560.36,1555.92 L1561.74,1559.07 L1563.12,1561.33 L1564.5,1559.87 L1565.88,1564.99 L1567.26,1559.64 L1568.64,1564.97 L1570.02,1564.85 L1571.4,1562.83 L1572.78,1558.79 L1574.16,1567.95 L1575.54,1559.04 L1576.92,1560.13 L1578.3,1559.68 L1579.68,1568.2 L1581.06,1564.36 L1582.44,1569.4 L1583.82,1568.69 L1585.2,1568.38 L1586.58,1573.6 L1587.96,1576.08 L1589.34,1575.63 L1590.72,1572.1 L1592.1,1570.65 L1593.48,1576.08 L1594.86,1579.56 L1596.24,1578.36 L1597.62,1567.84 L1599,1580.18 L1600.38,1581.01 L1601.76,1571.8 L1603.14,1579.59 L1604.52,1583.1 L1605.9,1580.03" fill="none" stroke="#f03a40" stroke-width="2" stroke-linejoin="round"/>
<path d="M984.9,1519.89 L986.28,1521.02 L987.66,1522.17 L989.04,1523.14 L990.42,1523.83 L991.8,1524.94 L993.18,1525.29 L994.56,1526.29 L995.94,1526.94 L997.32,1527.79 L998.7,1528.38 L1000.08,1529.17 L1001.46,1529.35 L1002.84,1529.61 L1004.22,1530.24 L1005.6,1530.12 L1006.98,1530.47 L1008.36,1530.34 L1009.74,1530.79 L1011.12,1530.56 L1012.5,1531.02 L1013.88,1531.15 L1015.26,1531.41 L1016.64,1531.03 L1018.02,1531.58 L1019.4,1531.68 L1020.78,1532.25 L1022.16,1531.78 L1023.54,1532.15 L1024.92,1532.24 L1026.3,1532.47 L1027.68,1532.04 L1029.06,1532.32 L1030.44,1532.58 L1031.82,1532.79 L1033.2,1532.66 L1034.58,1532.69 L1035.96,1532.58 L1037.34,1532.56 L1038.72,1532.6 L1040.1,1533.26 L1041.48,1532.8 L1042.86,1533.1 L1044.24,1532.93 L1045.62,1532.55 L1047,1532.55 L1048.38,1532.91 L1049.76,1532.54 L1051.14,1532.66 L1052.52,1531.9 L1053.9,1532.03 L1055.28,1531.15 L1056.66,1531.4 L1058.04,1530.83 L1059.42,1530.19 L1060.8,1530.01 L1062.18,1529.57 L1063.56,1529.29 L1064.94,1528.86 L1066.32,1528.77 L1067.7,1528.43 L1069.08,1527.7 L1070.46,1527.43 L1071.84,1527.57 L1073.22,1526.55 L1074.6,1526.49 L1075.98,1526.14 L1077.36,1525.27 L1078.74,1525.15 L1080.12,1524.97 L1081.5,1524.73 L1082.88,1524.13 L1084.26,1523.34 L1085.64,1523.24 L1087.02,1522.2 L1088.4,1521.77 L1089.78,1521.8 L1091.16,1520.8 L1092.54,1520.67 L1093.92,1520.04 L1095.3,1519.74 L1096.68,1518.63 L1098.06,1518.23 L1099.44,1517.76 L1100.82,1517.78 L1102.2,1516.69 L1103.58,1516.61 L1104.96,1515.4 L1106.34,1515.41 L1107.72,1514.41 L1109.1,1514.1 L1110.48,1512.92 L1111.86,1512.88 L1113.24,1511.54 L1114.62,1510.93 L1116,1510.37 L1117.38,1509.98 L1118.76,1508.51 L1120.14,1508.47 L1121.52,1507.37 L1122.9,1506.31 L1124.28,1506.13 L1125.66,1505.19 L1127.04,1503.84 L1128.42,1503.38 L1129.8,1502.8 L1131.18,1501.93 L1132.56,1500.67 L1133.94,1499.68 L1135.32,1499.01 L1136.7,1498.56 L1138.08,1497.33 L1139.46,1496.75 L1140.84,1496.09 L1142.22,1495.01 L1143.6,1494.51 L1144.98,1493.56 L1146.36,1493.07 L1147.74,1491.97 L1149.12,1491.31 L1150.5,1490.34 L1151.88,1489.82 L1153.26,1489.06 L1154.64,1487.72 L1156.02,1487.41 L1157.4,1486.76 L1158.78,1485.19 L1160.16,1484.38 L1161.54,1483.87 L1162.92,1483.29 L1164.3,1481.9 L1165.68,1481.81 L1167.06,1480.28 L1168.44,1480.21 L1169.82,1479.21 L1171.2,1478.26 L1172.58,1477.63 L1173.96,1476.42 L1175.34,1475.5 L1176.72,1475.07 L1178.1,1474.32 L1179.48,1473.29 L1180.86,1472.52 L1182.24,1472.34 L1183.62,1471.48 L1185,1470.42 L1186.38,1469.9 L1187.76,1469.44 L1189.14,1468.47 L1190.52,1468.03 L1191.9,1467.36 L1193.28,1466.46 L1194.66,1465.39 L1196.04,1464.55 L1197.42,1464.19 L1198.8,1463.19 L1200.18,1463.21 L1201.56,1462.69 L1202.94,1461.75 L1204.32,1460.77 L1205.7,1460.14 L1207.08,1459.42 L1208.46,1459.07 L1209.84,1458.45 L1211.22,1457.58 L1212.6,1457.54 L1213.98,1456.41 L1215.36,1456.34 L1216.74,1455.77 L1218.12,1454.7 L1219.5,1454.47 L1220.88,1453.78 L1222.26,1453.03 L1223.64,1452.59 L1225.02,1451.59 L1226.4,1451.1 L1227.78,1450.59 L1229.16,1449.87 L1230.54,1449.23 L1231.92,1448.22 L1233.3,1447.98 L1234.68,1447.21 L1236.06,1447.07 L1237.44,1445.72 L1238.82,1445.25 L1240.2,1444.45 L1241.58,1444.46 L1242.96,1443.24 L1244.34,1443.34 L1245.72,1442.25 L1247.1,1442.2 L1248.48,1441.15 L1249.86,1441.02 L1251.24,1440.17 L1252.62,1439.68 L1254,1439.29 L1255.38,1438.12 L1256.76,1437.78 L1258.14,1436.87 L1259.52,1436.59 L1260.9,1435.76 L1262.28,1435.66 L1263.66,1435.11 L1265.04,1434.6 L1266.42,1433.89 L1267.8,1432.93 L1269.18,1432.71 L1270.56,1432.25 L1271.94,1431.39 L1273.32,1431.26 L1274.7,1430.02 L1276.08,1429.86 L1277.46,1429 L1278.84,1429.08 L1280.22,1428.5 L1281.6,1427.62 L1282.98,1427.15 L1284.36,1426.66 L1285.74,1426.09 L1287.12,1425.58 L1288.5,1425.24 L1289.88,1424.59 L1291.26,1423.95 L1292.64,1423.43 L1294.02,1423.08 L1295.4,1423.35 L1296.78,1422.56 L1298.16,1422.09 L1299.54,1422.03 L1300.92,1421.96 L1302.3,1421.14 L1303.68,1420.89 L1305.06,1420.45 L1306.44,1420.44 L1307.82,1420.43 L1309.2,1419.88 L1310.58,1419.47 L1311.96,1418.96 L1313.34,1418.81 L1314.72,1418.5 L1316.1,1418.57 L1317.48,1417.48 L1318.86,1417.43 L1320.24,1417.34 L1321.62,1417.24 L1323,1416.83 L1324.38,1416.57 L1325.76,1416.21 L1327.14,1415.87 L1328.52,1415.96 L1329.9,1415.77 L1331.28,1415.22 L1332.66,1415.54 L1334.04,1414.63 L1335.42,1414.86 L1336.8,1414.34 L1338.18,1414.26 L1339.56,1414.11 L1340.94,1414.58 L1342.32,1413.7 L1343.7,1413.88 L1345.08,1413.78 L1346.46,1414 L1347.84,1414.12 L1349.22,1414.2 L1350.6,1413.77 L1351.98,1413.4 L1353.36,1413.85 L1354.74,1413.78 L1356.12,1413.91 L1357.5,1413.68 L1358.88,1414.09 L1360.26,1414.29 L1361.64,1414.48 L1363.02,1414.84 L1364.4,1414.97 L1365.78,1414.56 L1367.16,1415.29 L1368.54,1415.41 L1369.92,1415.63 L1371.3,1415.31 L1372.68,1415.8 L1374.06,1416.38 L1375.44,1416.37 L1376.82,1416.7 L1378.2,1416.52 L1379.58,1416.88 L1380.96,1417.23 L1382.34,1417.54 L1383.72,1417.52 L1385.1,1417.35 L1386.48,1417.93 L1387.86,1417.88 L1389.24,1418.26 L1390.62,1418.37 L1392,1418.89 L1393.38,1418.93 L1394.76,1419.16 L1396.14,1419.94 L1397.52,1420.13 L1398.9,1420.26 L1400.28,1420.98 L1401.66,1420.93 L1403.04,1421.26 L1404.42,1421.41 L1405.8,1422.19 L1407.18,1421.98 L1408.56,1422.63 L1409.94,1423.15 L1411.32,1423.52 L1412.7,1423.67 L1414.08,1423.68 L1415.46,1424.46 L1416.84,1424.67 L1418.22,1425.07 L1419.6,1425.24 L1420.98,1426.28 L1422.36,1426.1 L1423.74,1426.9 L1425.12,1426.95 L1426.5,1427.39 L1427.88,1428.62 L1429.26,1429.24 L1430.64,1429.56 L1432.02,1429.34 L1433.4,1430.07 L1434.78,1430.24 L1436.16,1430.91 L1437.54,1432.2 L1438.92,1432.72 L1440.3,1431.9 L1441.68,1432.43 L1443.06,1433.16 L1444.44,1433.32 L1445.82,1435.37 L1447.2,1435.16 L1448.58,1436.36 L1449.96,1436.11 L1451.34,1437.03 L1452.72,1438.47 L1454.1,1438.47 L1455.48,1439.27 L1456.86,1439.41 L1458.24,1440.55 L1459.62,1440.43 L1461,1440.66 L1462.38,1443.53 L1463.76,1442.41 L1465.14,1444.29 L1466.52,1443.52 L1467.9,1445.03 L1469.28,1446.31 L1470.66,1447.32 L1472.04,1447.59 L1473.42,1448.04 L1474.8,1448.41 L1476.18,1448.53 L1477.56,1450.19 L1478.94,1449.78 L1480.32,1451.71 L1481.7,1451.49 L1483.08,1453.25 L1484.46,1454.12 L1485.84,1453.76 L1487.22,1456.17 L1488.6,1457.87 L1489.98,1457.55 L1491.36,1457.8 L1492.74,1460.7 L1494.12,1458.98 L1495.5,1462.18 L1496.88,1463.04 L1498.26,1462.08 L1499.64,1460.76 L1501.02,1464.3 L1502.4,1463.32 L1503.78,1467.05 L1505.16,1468.02 L1506.54,1465.27 L1507.92,1470.5 L1509.3,1470.52 L1510.68,1470.59 L1512.06,1469.39 L1513.44,1471.82 L1514.82,1473.28 L1516.2,1475.88 L1517.58,1474.8 L1518.96,1474.93 L1520.34,1474.63 L1521.72,1480.38 L1523.1,1482.38 L1524.48,1482.66 L1525.86,1483.98 L1527.24,1482.45 L1528.62,1483.16 L1530,1480.72 L1531.38,1482.8 L1532.76,1483.64 L1534.14,1489.12 L1535.52,1491.47 L1536.9,1492.78 L1538.28,1489.12 L1539.66,1493.69 L1541.04,1487.52 L1542.42,1495.98 L1543.8,1493.51 L1545.18,1490.82 L1546.56,1491.76 L1547.94,1494.03 L1549.32,1495.86 L1550.7,1502.58 L1552.08,1500.77 L1553.46,1504.94 L1554.84,1500.65 L1556.22,1498.69 L1557.6,1502.96 L1558.98,1506.23 L1560.36,1506.6 L1561.74,1506.71 L1563.12,1504.95 L1564.5,1513.18 L1565.88,1512.71 L1567.26,1508.52 L1568.64,1514.08 L1570.02,1513.83 L1571.4,1519.92 L1572.78,1522.4 L1574.16,1521.21 L1575.54,1519.16 L1576.92,1514.33 L1578.3,1520.36 L1579.68,1522.85 L1581.06,1516.92 L1582.44,1517.86 L1583.82,1525.33 L1585.2,1521.5 L1586.58,1522.46 L1587.96,1524.58 L1589.34,1525.49 L1590.72,1533.55 L1592.1,1532.73 L1593.48,1528.82 L1594.86,1526.91 L1596.24,1535.85 L1597.62,1536.41 L1599,1545.54 L1600.38,1543.39 L1601.76,1531.55 L1603.14,1542.73 L1604.52,1541.6 L1605.9,1536.81" fill="none" stroke="#ff0000" stroke-width="2.2" stroke-linejoin="round"/>
<path d="M984.9,1424.94 L986.28,1427.2 L987.66,1429.35 L989.04,1431.62 L990.42,1433.7 L991.8,1436.37 L993.18,1438.09 L994.56,1439.43 L995.94,1440.5 L997.32,1442.07 L998.7,1442.95 L1000.08,1443.37 L1001.46,1444.34 L1002.84,1444.5 L1004.22,1445.59 L1005.6,1446.1 L1006.98,1445.93 L1008.36,1446.44 L1009.74,1447.21 L1011.12,1447.7 L1012.5,1447.92 L1013.88,1448.4 L1015.26,1448.28 L1016.64,1449.46 L1018.02,1448.93 L1019.4,1449.57 L1020.78,1449.74 L1022.16,1450.43 L1023.54,1450.38 L1024.92,1450.48 L1026.3,1450.83 L1027.68,1450.79 L1029.06,1451.07 L1030.44,1451.57 L1031.82,1452.2 L1033.2,1452.1 L1034.58,1452.8 L1035.96,1453.23 L1037.34,1453.06 L1038.72,1453.46 L1040.1,1453.53 L1041.48,1453.41 L1042.86,1454.29 L1044.24,1454.11 L1045.62,1453.49 L1047,1453.5 L1048.38,1453.35 L1049.76,1454.14 L1051.14,1453.14 L1052.52,1453.06 L1053.9,1453.38 L1055.28,1453.29 L1056.66,1452.96 L1058.04,1452.07 L1059.42,1451.47 L1060.8,1451.14 L1062.18,1451.19 L1063.56,1450.24 L1064.94,1449.99 L1066.32,1448.81 L1067.7,1448.43 L1069.08,1447.56 L1070.46,1446.82 L1071.84,1445.45 L1073.22,1444.27 L1074.6,1443.84 L1075.98,1443.18 L1077.36,1442.16 L1078.74,1440.86 L1080.12,1440.38 L1081.5,1439.78 L1082.88,1438.27 L1084.26,1437.55 L1085.64,1437.36 L1087.02,1435.45 L1088.4,1435.1 L1089.78,1434.18 L1091.16,1433.12 L1092.54,1431.75 L1093.92,1430.85 L1095.3,1429.99 L1096.68,1428.23 L1098.06,1427.66 L1099.44,1426.69 L1100.82,1424.96 L1102.2,1424.2 L1103.58,1422.77 L1104.96,1421.8 L1106.34,1420.26 L1107.72,1419.67 L1109.1,1418.37 L1110.48,1416.82 L1111.86,1415.17 L1113.24,1414.42 L1114.62,1412.69 L1116,1411.02 L1117.38,1409.4 L1118.76,1408.67 L1120.14,1407.44 L1121.52,1405.31 L1122.9,1404.2 L1124.28,1403.36 L1125.66,1401.62 L1127.04,1399.83 L1128.42,1398.96 L1129.8,1397.56 L1131.18,1396.39 L1132.56,1394.9 L1133.94,1393.43 L1135.32,1391.65 L1136.7,1390.67 L1138.08,1388.97 L1139.46,1387.38 L1140.84,1385.78 L1142.22,1384.43 L1143.6,1382.91 L1144.98,1381.53 L1146.36,1380.52 L1147.74,1378.94 L1149.12,1377.3 L1150.5,1376.09 L1151.88,1374.59 L1153.26,1373.19 L1154.64,1371.58 L1156.02,1369.88 L1157.4,1369.28 L1158.78,1367.85 L1160.16,1365.81 L1161.54,1364.99 L1162.92,1363.03 L1164.3,1361.65 L1165.68,1360.58 L1167.06,1358.41 L1168.44,1357.68 L1169.82,1355.71 L1171.2,1354.36 L1172.58,1353.05 L1173.96,1351.34 L1175.34,1350.27 L1176.72,1348.77 L1178.1,1347.12 L1179.48,1344.93 L1180.86,1344 L1182.24,1342.68 L1183.62,1340.57 L1185,1339.72 L1186.38,1337.49 L1187.76,1336.56 L1189.14,1335.29 L1190.52,1333.26 L1191.9,1332.1 L1193.28,1330.63 L1194.66,1328.99 L1196.04,1326.77 L1197.42,1326.01 L1198.8,1324.54 L1200.18,1322.19 L1201.56,1320.53 L1202.94,1318.99 L1204.32,1317.36 L1205.7,1315.84 L1207.08,1314.36 L1208.46,1313.13 L1209.84,1311.09 L1211.22,1309.67 L1212.6,1308.98 L1213.98,1307.16 L1215.36,1305.86 L1216.74,1304.19 L1218.12,1302.98 L1219.5,1301.36 L1220.88,1299.71 L1222.26,1298.92 L1223.64,1297.59 L1225.02,1295.92 L1226.4,1294.52 L1227.78,1293.09 L1229.16,1292.16 L1230.54,1291.23 L1231.92,1290.1 L1233.3,1288.62 L1234.68,1286.89 L1236.06,1286.25 L1237.44,1285.09 L1238.82,1283.89 L1240.2,1282.88 L1241.58,1281.67 L1242.96,1280.19 L1244.34,1278.61 L1245.72,1277.79 L1247.1,1277.14 L1248.48,1276.01 L1249.86,1274.84 L1251.24,1273.18 L1252.62,1272.72 L1254,1271.15 L1255.38,1270.17 L1256.76,1268.75 L1258.14,1268.29 L1259.52,1267.33 L1260.9,1266.13 L1262.28,1264.61 L1263.66,1263.48 L1265.04,1262.28 L1266.42,1261.67 L1267.8,1259.85 L1269.18,1259.59 L1270.56,1258.2 L1271.94,1257.19 L1273.32,1255.66 L1274.7,1255.12 L1276.08,1254.22 L1277.46,1252.74 L1278.84,1252.31 L1280.22,1250.37 L1281.6,1250.07 L1282.98,1248.87 L1284.36,1247.48 L1285.74,1246.4 L1287.12,1245.92 L1288.5,1245.12 L1289.88,1243.29 L1291.26,1242.46 L1292.64,1241.75 L1294.02,1240.32 L1295.4,1239.98 L1296.78,1238.6 L1298.16,1237.54 L1299.54,1237.43 L1300.92,1236.12 L1302.3,1235.35 L1303.68,1234.71 L1305.06,1234.39 L1306.44,1234.1 L1307.82,1232.92 L1309.2,1233.01 L1310.58,1231.96 L1311.96,1231.83 L1313.34,1231.04 L1314.72,1230.06 L1316.1,1229.68 L1317.48,1229 L1318.86,1228.7 L1320.24,1228.51 L1321.62,1228.17 L1323,1227.93 L1324.38,1227.16 L1325.76,1226.14 L1327.14,1225.98 L1328.52,1225.63 L1329.9,1224.88 L1331.28,1225.07 L1332.66,1224.26 L1334.04,1223.56 L1335.42,1223.07 L1336.8,1223.36 L1338.18,1222.71 L1339.56,1222.76 L1340.94,1221.64 L1342.32,1221.86 L1343.7,1222.02 L1345.08,1221.33 L1346.46,1221.25 L1347.84,1221.61 L1349.22,1221.47 L1350.6,1221.45 L1351.98,1222.04 L1353.36,1221.87 L1354.74,1221.85 L1356.12,1221.75 L1357.5,1222.08 L1358.88,1221.23 L1360.26,1221.78 L1361.64,1221.5 L1363.02,1221.12 L1364.4,1221.17 L1365.78,1221.18 L1367.16,1221.45 L1368.54,1221.2 L1369.92,1221.74 L1371.3,1221.54 L1372.68,1222.39 L1374.06,1222.19 L1375.44,1222.55 L1376.82,1223.05 L1378.2,1223.29 L1379.58,1224.07 L1380.96,1224.03 L1382.34,1224.63 L1383.72,1224.77 L1385.1,1226.01 L1386.48,1225.81 L1387.86,1226.84 L1389.24,1227.21 L1390.62,1227.62 L1392,1227.59 L1393.38,1228.08 L1394.76,1229.49 L1396.14,1229.78 L1397.52,1229.89 L1398.9,1230.64 L1400.28,1231.65 L1401.66,1232.75 L1403.04,1232.88 L1404.42,1234 L1405.8,1234.69 L1407.18,1235.51 L1408.56,1236.54 L1409.94,1236.73 L1411.32,1237.55 L1412.7,1238.31 L1414.08,1239.47 L1415.46,1240.22 L1416.84,1241.59 L1418.22,1241.83 L1419.6,1243.48 L1420.98,1243.6 L1422.36,1244.73 L1423.74,1245.81 L1425.12,1247.21 L1426.5,1247.61 L1427.88,1249.25 L1429.26,1249.38 L1430.64,1250.47 L1432.02,1251.37 L1433.4,1252.05 L1434.78,1253.54 L1436.16,1254.3 L1437.54,1255.88 L1438.92,1257.43 L1440.3,1257.82 L1441.68,1258.71 L1443.06,1259.53 L1444.44,1261.06 L1445.82,1261.13 L1447.2,1262.98 L1448.58,1264.14 L1449.96,1264.55 L1451.34,1266.45 L1452.72,1266.62 L1454.1,1267.82 L1455.48,1268.63 L1456.86,1270.49 L1458.24,1272.06 L1459.62,1272.37 L1461,1275.23 L1462.38,1275.88 L1463.76,1277.49 L1465.14,1277.45 L1466.52,1280.26 L1467.9,1280.76 L1469.28,1282.74 L1470.66,1283.74 L1472.04,1284.73 L1473.42,1284.03 L1474.8,1287.97 L1476.18,1288.18 L1477.56,1291.39 L1478.94,1290.28 L1480.32,1294.73 L1481.7,1295.01 L1483.08,1295.21 L1484.46,1300.07 L1485.84,1302.2 L1487.22,1302.44 L1488.6,1303 L1489.98,1305.81 L1491.36,1307.33 L1492.74,1308.86 L1494.12,1311.32 L1495.5,1310.96 L1496.88,1315.69 L1498.26,1314.51 L1499.64,1320.42 L1501.02,1320.65 L1502.4,1323.41 L1503.78,1324.73 L1505.16,1323.59 L1506.54,1325.7 L1507.92,1329.94 L1509.3,1333.96 L1510.68,1334.01 L1512.06,1338.7 L1513.44,1336.74 L1514.82,1339.41 L1516.2,1338.95 L1517.58,1340.62 L1518.96,1345.85 L1520.34,1349.69 L1521.72,1346.73 L1523.1,1355.14 L1524.48,1354.68 L1525.86,1359.49 L1527.24,1353.64 L1528.62,1361.99 L1530,1366.15 L1531.38,1367.61 L1532.76,1366.58 L1534.14,1370.67 L1535.52,1368.33 L1536.9,1372.24 L1538.28,1378.04 L1539.66,1379.84 L1541.04,1379.36 L1542.42,1385.44 L1543.8,1382.38 L1545.18,1378.92 L1546.56,1383.12 L1547.94,1387.11 L1549.32,1393.01 L1550.7,1388.89 L1552.08,1399.23 L1553.46,1394.09 L1554.84,1401.96 L1556.22,1395.97 L1557.6,1398.68 L1558.98,1401.91 L1560.36,1402.83 L1561.74,1405.9 L1563.12,1410.17 L1564.5,1405.94 L1565.88,1408.43 L1567.26,1408.35 L1568.64,1411.06 L1570.02,1421.14 L1571.4,1422.88 L1572.78,1416.58 L1574.16,1428.36 L1575.54,1424.83 L1576.92,1421.82 L1578.3,1432.03 L1579.68,1430.67 L1581.06,1428 L1582.44,1438.11 L1583.82,1429.13 L1585.2,1429.83 L1586.58,1443.05 L1587.96,1433.58 L1589.34,1445.97 L1590.72,1453.39 L1592.1,1453.23 L1593.48,1443.02 L1594.86,1462.51 L1596.24,1450.67 L1597.62,1463.32 L1599,1465.06 L1600.38,1464.5 L1601.76,1466.97 L1603.14,1479.34 L1604.52,1474.96 L1605.9,1484.98" fill="none" stroke="#8e0000" stroke-width="2.2" stroke-linejoin="round"/>
</g>
<text x="1435.5" y="1606.6" font-family='"Liberation Sans", Arial, sans-serif' font-size="21.5" font-weight="bold" text-anchor="end">980</text>
<line x1="1006.5" y1="1204.4" x2="1036.9" y2="1204.4" stroke="#9b1010" stroke-width="2"/>
<text x="1054.2" y="1211.4" font-family='"Liberation Sans", Arial, sans-serif' font-size="23.3" font-weight="normal" text-anchor="start">16%</text>
<line x1="1006.5" y1="1239.88" x2="1036.9" y2="1239.88" stroke="#ff3a3a" stroke-width="2"/>
<text x="1054.2" y="1246.88" font-family='"Liberation Sans", Arial, sans-serif' font-size="23.3" font-weight="normal" text-anchor="start">8%</text>
<line x1="1006.5" y1="1275.36" x2="1036.9" y2="1275.36" stroke="#ff4a4a" stroke-width="2"/>
<text x="1054.2" y="1282.36" font-family='"Liberation Sans", Arial, sans-serif' font-size="23.3" font-weight="normal" text-anchor="start">4%</text>
<line x1="1006.5" y1="1310.84" x2="1036.9" y2="1310.84" stroke="#ff8a8a" stroke-width="2"/>
<text x="1054.2" y="1317.84" font-family='"Liberation Sans", Arial, sans-serif' font-size="23.3" font-weight="normal" text-anchor="start">2%</text>
<line x1="1006.5" y1="1346.32" x2="1036.9" y2="1346.32" stroke="#ffa8a8" stroke-width="2"/>
<text x="1054.2" y="1353.32" font-family='"Liberation Sans", Arial, sans-serif' font-size="23.3" font-weight="normal" text-anchor="start">1%</text>
<line x1="1006.5" y1="1381.8" x2="1036.9" y2="1381.8" stroke="#a8a8a8" stroke-width="2"/>
<text x="1054.2" y="1388.8" font-family='"Liberation Sans", Arial, sans-serif' font-size="23.3" font-weight="normal" text-anchor="start">0.5%</text>
</svg>
</body></html>
